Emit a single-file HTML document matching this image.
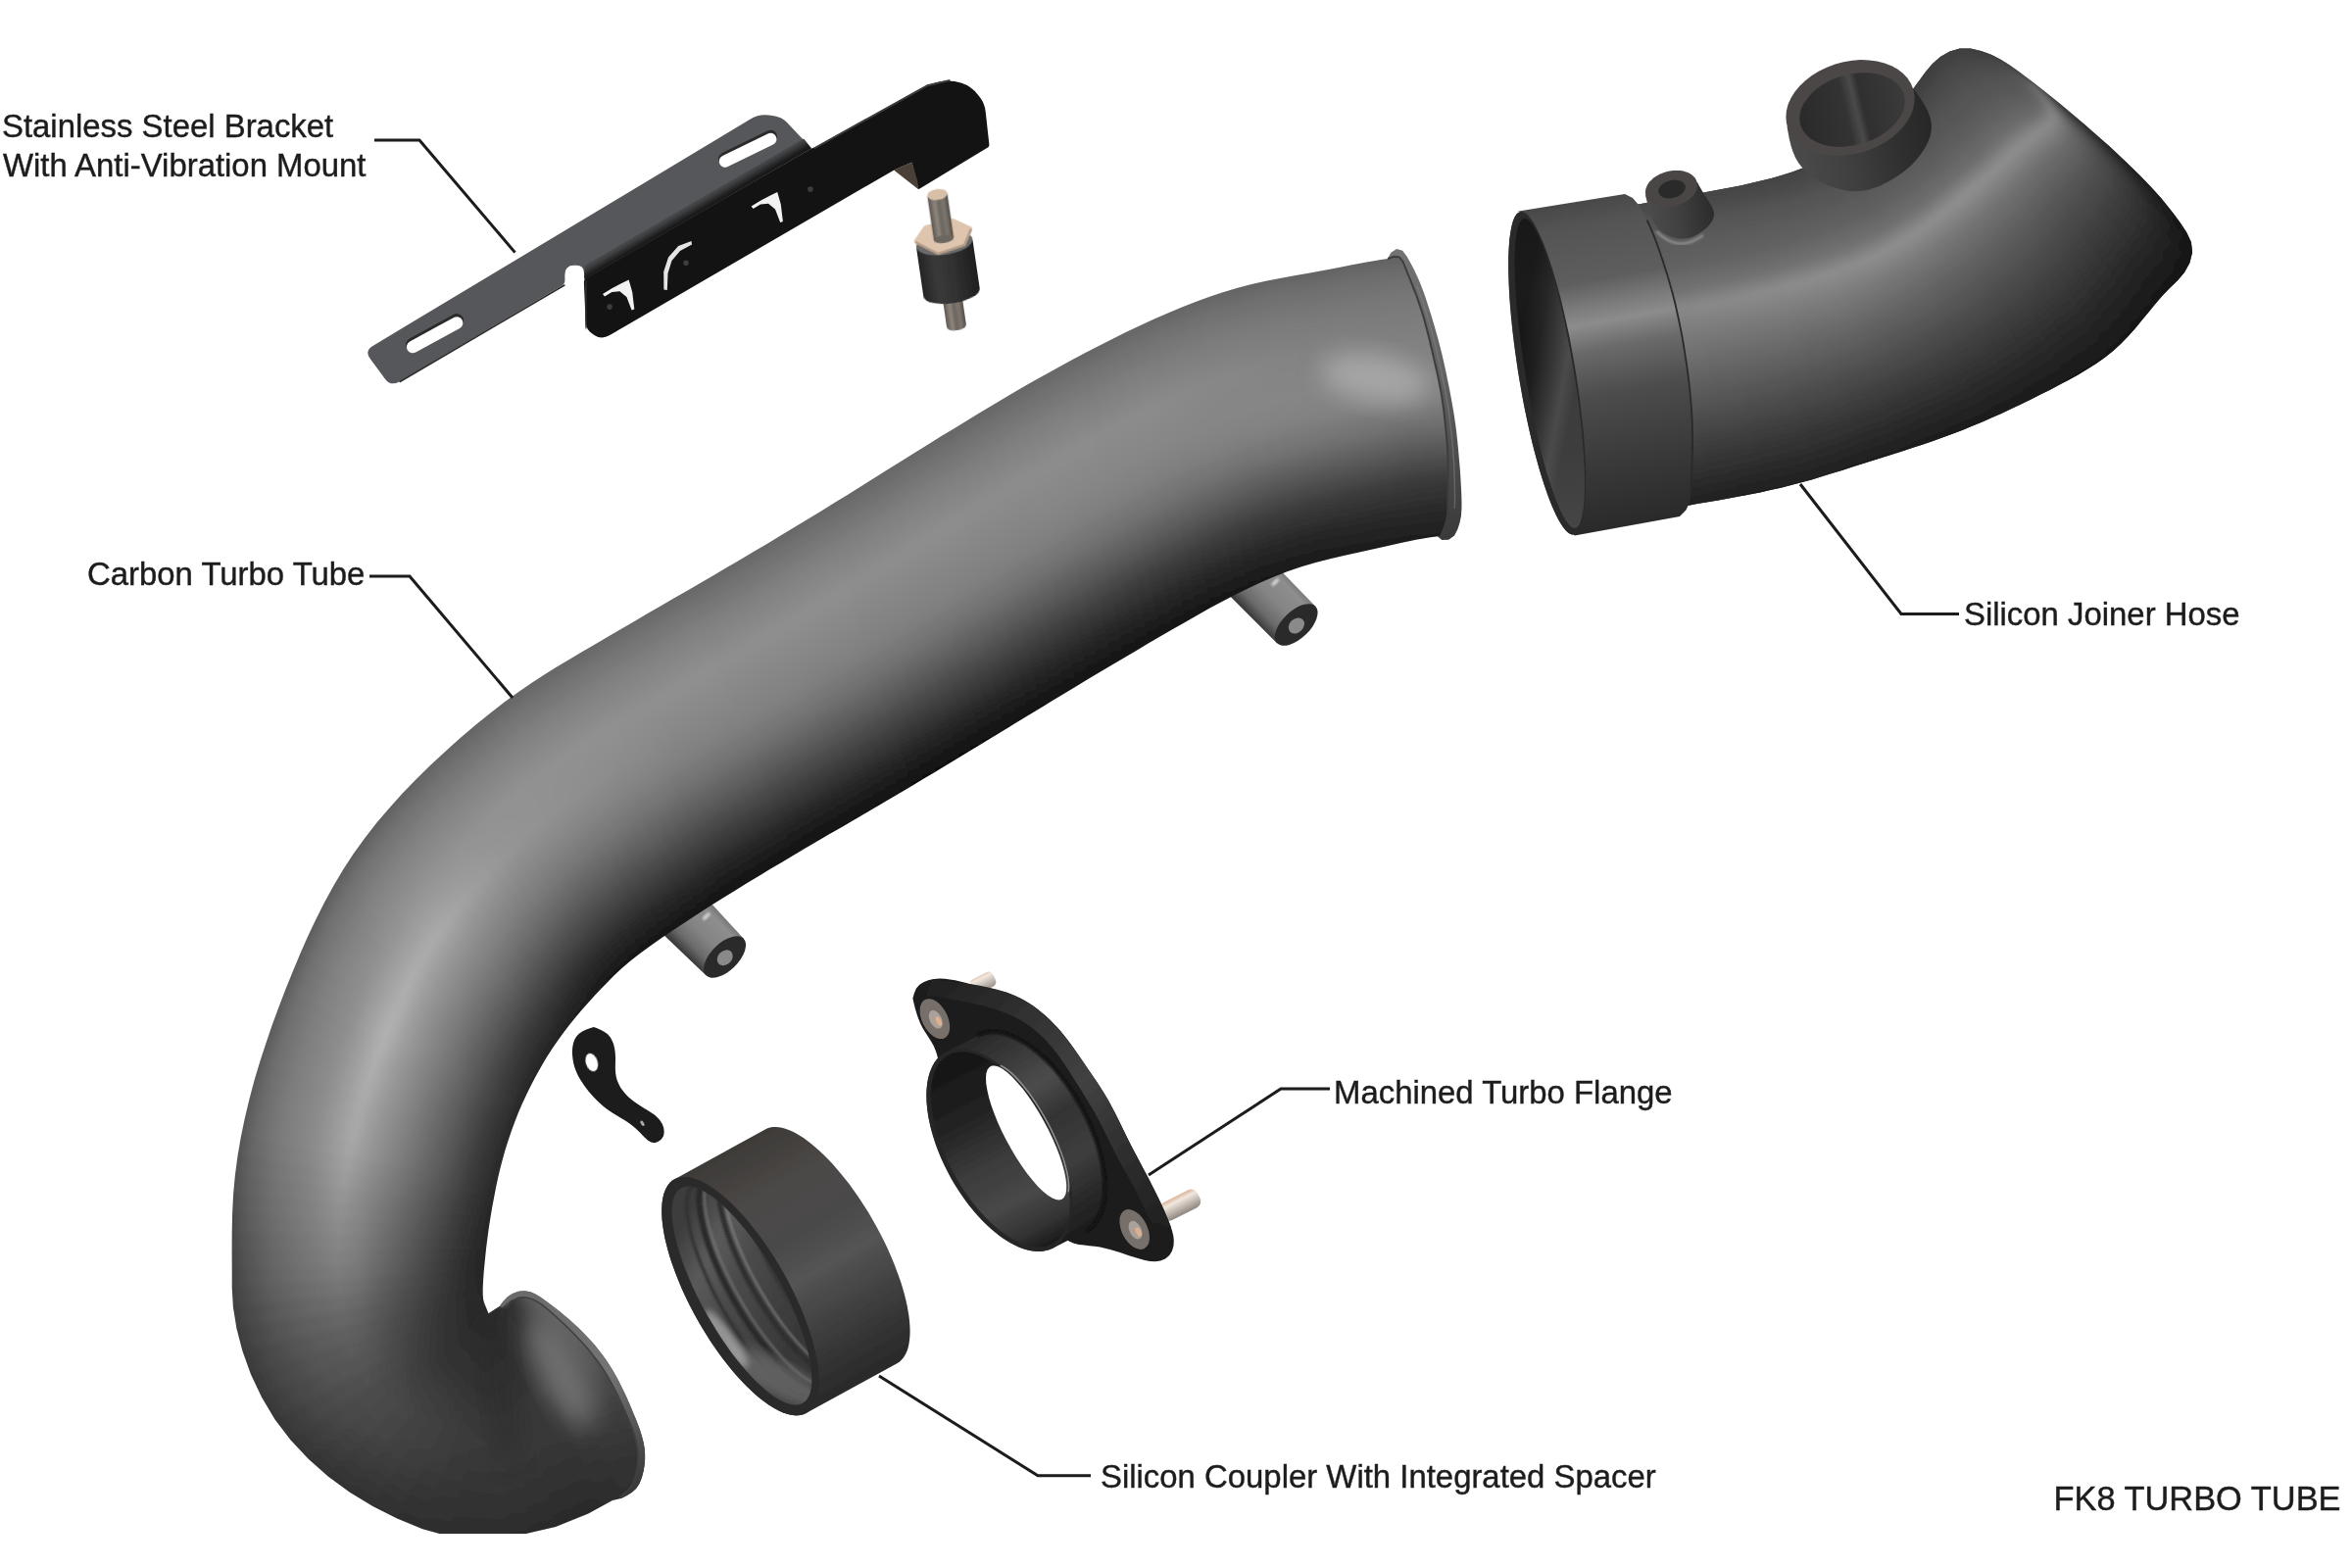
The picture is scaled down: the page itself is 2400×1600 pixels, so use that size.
<!DOCTYPE html>
<html><head><meta charset="utf-8"><title>FK8 Turbo Tube</title>
<style>
html,body{margin:0;padding:0;background:#fff}
body{width:2400px;height:1600px;overflow:hidden}
svg{display:block;font-family:"Liberation Sans",sans-serif;fill:#1c1c1c}
</style></head><body>
<svg width="2400" height="1600" viewBox="0 0 2400 1600">
<defs>
<filter id="b05" x="-5%" y="-5%" width="110%" height="110%"><feGaussianBlur stdDeviation="0.6"/></filter>
<filter id="b1" x="-5%" y="-5%" width="110%" height="110%"><feGaussianBlur stdDeviation="1"/></filter>
<filter id="b2" x="-5%" y="-5%" width="110%" height="110%"><feGaussianBlur stdDeviation="2"/></filter>
<filter id="b3" x="-5%" y="-5%" width="110%" height="110%"><feGaussianBlur stdDeviation="3"/></filter>
<filter id="b6" x="-10%" y="-10%" width="120%" height="120%"><feGaussianBlur stdDeviation="6"/></filter>
<filter id="b12" x="-30%" y="-30%" width="160%" height="160%"><feGaussianBlur stdDeviation="12"/></filter>
<clipPath id="cpPage"><rect x="0" y="0" width="2400" height="1565"/></clipPath>
<linearGradient id="m1" gradientUnits="userSpaceOnUse" x1="1445.0" y1="262.1" x2="1498.0" y2="545.1"><stop offset="0" stop-color="#626262"/><stop offset="0.05" stop-color="#6c6c6c"/><stop offset="0.15" stop-color="#787878"/><stop offset="0.28" stop-color="#808080"/><stop offset="0.42" stop-color="#858585"/><stop offset="0.5" stop-color="#828282"/><stop offset="0.6" stop-color="#707070"/><stop offset="0.7" stop-color="#555555"/><stop offset="0.8" stop-color="#3a3a3a"/><stop offset="0.9" stop-color="#2a2a2a"/><stop offset="1" stop-color="#1e1e1e"/></linearGradient>
<linearGradient id="m2" gradientUnits="userSpaceOnUse" x1="1430.8" y1="262.7" x2="1482.3" y2="545.7"><stop offset="0" stop-color="#626262"/><stop offset="0.05" stop-color="#6c6c6c"/><stop offset="0.15" stop-color="#787878"/><stop offset="0.28" stop-color="#808080"/><stop offset="0.42" stop-color="#858585"/><stop offset="0.5" stop-color="#828282"/><stop offset="0.6" stop-color="#707070"/><stop offset="0.7" stop-color="#555555"/><stop offset="0.8" stop-color="#3a3a3a"/><stop offset="0.9" stop-color="#2a2a2a"/><stop offset="1" stop-color="#1e1e1e"/></linearGradient>
<linearGradient id="m3" gradientUnits="userSpaceOnUse" x1="1416.3" y1="264.2" x2="1467.1" y2="547.3"><stop offset="0" stop-color="#626262"/><stop offset="0.05" stop-color="#6c6c6c"/><stop offset="0.15" stop-color="#787878"/><stop offset="0.28" stop-color="#808080"/><stop offset="0.42" stop-color="#858585"/><stop offset="0.5" stop-color="#828282"/><stop offset="0.6" stop-color="#707070"/><stop offset="0.7" stop-color="#555555"/><stop offset="0.8" stop-color="#3a3a3a"/><stop offset="0.9" stop-color="#2a2a2a"/><stop offset="1" stop-color="#1e1e1e"/></linearGradient>
<linearGradient id="m4" gradientUnits="userSpaceOnUse" x1="1401.7" y1="266.3" x2="1452.4" y2="549.5"><stop offset="0" stop-color="#626262"/><stop offset="0.05" stop-color="#6c6c6c"/><stop offset="0.15" stop-color="#787878"/><stop offset="0.28" stop-color="#808080"/><stop offset="0.42" stop-color="#858585"/><stop offset="0.5" stop-color="#828282"/><stop offset="0.6" stop-color="#707070"/><stop offset="0.7" stop-color="#555555"/><stop offset="0.8" stop-color="#3a3a3a"/><stop offset="0.9" stop-color="#2a2a2a"/><stop offset="1" stop-color="#1e1e1e"/></linearGradient>
<linearGradient id="m5" gradientUnits="userSpaceOnUse" x1="1387.0" y1="268.9" x2="1437.8" y2="552.2"><stop offset="0" stop-color="#626262"/><stop offset="0.05" stop-color="#6c6c6c"/><stop offset="0.15" stop-color="#787878"/><stop offset="0.28" stop-color="#818181"/><stop offset="0.42" stop-color="#858585"/><stop offset="0.5" stop-color="#828282"/><stop offset="0.6" stop-color="#707070"/><stop offset="0.7" stop-color="#565656"/><stop offset="0.8" stop-color="#3a3a3a"/><stop offset="0.9" stop-color="#2a2a2a"/><stop offset="1" stop-color="#1d1d1d"/></linearGradient>
<linearGradient id="m6" gradientUnits="userSpaceOnUse" x1="1372.2" y1="271.7" x2="1423.4" y2="555.3"><stop offset="0" stop-color="#636363"/><stop offset="0.05" stop-color="#6d6d6d"/><stop offset="0.15" stop-color="#797979"/><stop offset="0.28" stop-color="#818181"/><stop offset="0.42" stop-color="#858585"/><stop offset="0.5" stop-color="#828282"/><stop offset="0.6" stop-color="#717171"/><stop offset="0.7" stop-color="#565656"/><stop offset="0.8" stop-color="#3b3b3b"/><stop offset="0.9" stop-color="#292929"/><stop offset="1" stop-color="#1d1d1d"/></linearGradient>
<linearGradient id="m7" gradientUnits="userSpaceOnUse" x1="1357.4" y1="274.6" x2="1409.0" y2="558.6"><stop offset="0" stop-color="#636363"/><stop offset="0.05" stop-color="#6d6d6d"/><stop offset="0.15" stop-color="#797979"/><stop offset="0.28" stop-color="#828282"/><stop offset="0.42" stop-color="#858585"/><stop offset="0.5" stop-color="#828282"/><stop offset="0.6" stop-color="#717171"/><stop offset="0.7" stop-color="#565656"/><stop offset="0.8" stop-color="#3b3b3b"/><stop offset="0.9" stop-color="#292929"/><stop offset="1" stop-color="#1c1c1c"/></linearGradient>
<linearGradient id="m8" gradientUnits="userSpaceOnUse" x1="1342.6" y1="277.4" x2="1394.4" y2="561.9"><stop offset="0" stop-color="#636363"/><stop offset="0.05" stop-color="#6d6d6d"/><stop offset="0.15" stop-color="#797979"/><stop offset="0.28" stop-color="#828282"/><stop offset="0.42" stop-color="#868686"/><stop offset="0.5" stop-color="#828282"/><stop offset="0.6" stop-color="#717171"/><stop offset="0.7" stop-color="#575757"/><stop offset="0.8" stop-color="#3b3b3b"/><stop offset="0.9" stop-color="#292929"/><stop offset="1" stop-color="#1c1c1c"/></linearGradient>
<linearGradient id="m9" gradientUnits="userSpaceOnUse" x1="1328.0" y1="280.0" x2="1379.6" y2="565.2"><stop offset="0" stop-color="#636363"/><stop offset="0.05" stop-color="#6d6d6d"/><stop offset="0.15" stop-color="#797979"/><stop offset="0.28" stop-color="#838383"/><stop offset="0.42" stop-color="#868686"/><stop offset="0.5" stop-color="#828282"/><stop offset="0.6" stop-color="#717171"/><stop offset="0.7" stop-color="#575757"/><stop offset="0.8" stop-color="#3b3b3b"/><stop offset="0.9" stop-color="#292929"/><stop offset="1" stop-color="#1b1b1b"/></linearGradient>
<linearGradient id="m10" gradientUnits="userSpaceOnUse" x1="1313.4" y1="282.6" x2="1364.8" y2="568.5"><stop offset="0" stop-color="#646464"/><stop offset="0.05" stop-color="#6e6e6e"/><stop offset="0.15" stop-color="#7a7a7a"/><stop offset="0.28" stop-color="#838383"/><stop offset="0.42" stop-color="#868686"/><stop offset="0.5" stop-color="#828282"/><stop offset="0.6" stop-color="#727272"/><stop offset="0.7" stop-color="#575757"/><stop offset="0.8" stop-color="#3c3c3c"/><stop offset="0.9" stop-color="#282828"/><stop offset="1" stop-color="#1b1b1b"/></linearGradient>
<linearGradient id="m11" gradientUnits="userSpaceOnUse" x1="1298.9" y1="285.3" x2="1349.9" y2="572.1"><stop offset="0" stop-color="#646464"/><stop offset="0.05" stop-color="#6e6e6e"/><stop offset="0.15" stop-color="#7a7a7a"/><stop offset="0.28" stop-color="#848484"/><stop offset="0.42" stop-color="#868686"/><stop offset="0.5" stop-color="#828282"/><stop offset="0.6" stop-color="#727272"/><stop offset="0.7" stop-color="#585858"/><stop offset="0.8" stop-color="#3c3c3c"/><stop offset="0.9" stop-color="#282828"/><stop offset="1" stop-color="#1a1a1a"/></linearGradient>
<linearGradient id="m12" gradientUnits="userSpaceOnUse" x1="1284.5" y1="288.3" x2="1335.3" y2="576.1"><stop offset="0" stop-color="#646464"/><stop offset="0.05" stop-color="#6e6e6e"/><stop offset="0.15" stop-color="#7a7a7a"/><stop offset="0.28" stop-color="#848484"/><stop offset="0.42" stop-color="#868686"/><stop offset="0.5" stop-color="#828282"/><stop offset="0.6" stop-color="#727272"/><stop offset="0.7" stop-color="#585858"/><stop offset="0.8" stop-color="#3c3c3c"/><stop offset="0.9" stop-color="#282828"/><stop offset="1" stop-color="#1a1a1a"/></linearGradient>
<linearGradient id="m13" gradientUnits="userSpaceOnUse" x1="1270.1" y1="291.9" x2="1321.0" y2="580.7"><stop offset="0" stop-color="#646464"/><stop offset="0.05" stop-color="#6e6e6e"/><stop offset="0.15" stop-color="#7a7a7a"/><stop offset="0.28" stop-color="#858585"/><stop offset="0.42" stop-color="#868686"/><stop offset="0.5" stop-color="#828282"/><stop offset="0.6" stop-color="#727272"/><stop offset="0.7" stop-color="#585858"/><stop offset="0.8" stop-color="#3c3c3c"/><stop offset="0.9" stop-color="#282828"/><stop offset="1" stop-color="#191919"/></linearGradient>
<linearGradient id="m14" gradientUnits="userSpaceOnUse" x1="1255.7" y1="295.9" x2="1307.0" y2="585.8"><stop offset="0" stop-color="#646464"/><stop offset="0.05" stop-color="#6e6e6e"/><stop offset="0.15" stop-color="#7b7b7b"/><stop offset="0.28" stop-color="#868686"/><stop offset="0.42" stop-color="#868686"/><stop offset="0.5" stop-color="#828282"/><stop offset="0.6" stop-color="#727272"/><stop offset="0.7" stop-color="#585858"/><stop offset="0.8" stop-color="#3c3c3c"/><stop offset="0.9" stop-color="#282828"/><stop offset="1" stop-color="#191919"/></linearGradient>
<linearGradient id="m15" gradientUnits="userSpaceOnUse" x1="1241.4" y1="300.5" x2="1293.3" y2="591.3"><stop offset="0" stop-color="#656565"/><stop offset="0.05" stop-color="#6f6f6f"/><stop offset="0.15" stop-color="#7b7b7b"/><stop offset="0.28" stop-color="#878787"/><stop offset="0.42" stop-color="#868686"/><stop offset="0.5" stop-color="#818181"/><stop offset="0.6" stop-color="#717171"/><stop offset="0.7" stop-color="#585858"/><stop offset="0.8" stop-color="#3c3c3c"/><stop offset="0.9" stop-color="#272727"/><stop offset="1" stop-color="#181818"/></linearGradient>
<linearGradient id="m16" gradientUnits="userSpaceOnUse" x1="1227.1" y1="305.4" x2="1279.9" y2="597.3"><stop offset="0" stop-color="#656565"/><stop offset="0.05" stop-color="#6f6f6f"/><stop offset="0.15" stop-color="#7c7c7c"/><stop offset="0.28" stop-color="#878787"/><stop offset="0.42" stop-color="#868686"/><stop offset="0.5" stop-color="#818181"/><stop offset="0.6" stop-color="#717171"/><stop offset="0.7" stop-color="#585858"/><stop offset="0.8" stop-color="#3c3c3c"/><stop offset="0.9" stop-color="#272727"/><stop offset="1" stop-color="#171717"/></linearGradient>
<linearGradient id="m17" gradientUnits="userSpaceOnUse" x1="1212.9" y1="310.8" x2="1266.7" y2="603.7"><stop offset="0" stop-color="#656565"/><stop offset="0.05" stop-color="#6f6f6f"/><stop offset="0.15" stop-color="#7c7c7c"/><stop offset="0.28" stop-color="#888888"/><stop offset="0.42" stop-color="#868686"/><stop offset="0.5" stop-color="#818181"/><stop offset="0.6" stop-color="#717171"/><stop offset="0.7" stop-color="#585858"/><stop offset="0.8" stop-color="#3c3c3c"/><stop offset="0.9" stop-color="#272727"/><stop offset="1" stop-color="#171717"/></linearGradient>
<linearGradient id="m18" gradientUnits="userSpaceOnUse" x1="1198.8" y1="316.5" x2="1253.7" y2="610.3"><stop offset="0" stop-color="#656565"/><stop offset="0.05" stop-color="#6f6f6f"/><stop offset="0.15" stop-color="#7d7d7d"/><stop offset="0.28" stop-color="#898989"/><stop offset="0.42" stop-color="#868686"/><stop offset="0.5" stop-color="#818181"/><stop offset="0.6" stop-color="#717171"/><stop offset="0.7" stop-color="#585858"/><stop offset="0.8" stop-color="#3c3c3c"/><stop offset="0.9" stop-color="#272727"/><stop offset="1" stop-color="#161616"/></linearGradient>
<linearGradient id="m19" gradientUnits="userSpaceOnUse" x1="1184.7" y1="322.5" x2="1240.9" y2="617.2"><stop offset="0" stop-color="#666666"/><stop offset="0.05" stop-color="#707070"/><stop offset="0.15" stop-color="#7d7d7d"/><stop offset="0.28" stop-color="#8a8a8a"/><stop offset="0.42" stop-color="#868686"/><stop offset="0.5" stop-color="#808080"/><stop offset="0.6" stop-color="#707070"/><stop offset="0.7" stop-color="#585858"/><stop offset="0.8" stop-color="#3c3c3c"/><stop offset="0.9" stop-color="#262626"/><stop offset="1" stop-color="#151515"/></linearGradient>
<linearGradient id="m20" gradientUnits="userSpaceOnUse" x1="1170.7" y1="328.8" x2="1228.1" y2="624.2"><stop offset="0" stop-color="#666666"/><stop offset="0.05" stop-color="#707070"/><stop offset="0.15" stop-color="#7d7d7d"/><stop offset="0.28" stop-color="#8b8b8b"/><stop offset="0.42" stop-color="#868686"/><stop offset="0.5" stop-color="#808080"/><stop offset="0.6" stop-color="#707070"/><stop offset="0.7" stop-color="#585858"/><stop offset="0.8" stop-color="#3c3c3c"/><stop offset="0.9" stop-color="#262626"/><stop offset="1" stop-color="#151515"/></linearGradient>
<linearGradient id="m21" gradientUnits="userSpaceOnUse" x1="1156.7" y1="335.3" x2="1215.5" y2="631.3"><stop offset="0" stop-color="#666666"/><stop offset="0.05" stop-color="#707070"/><stop offset="0.15" stop-color="#7e7e7e"/><stop offset="0.28" stop-color="#8c8c8c"/><stop offset="0.42" stop-color="#868686"/><stop offset="0.5" stop-color="#808080"/><stop offset="0.6" stop-color="#707070"/><stop offset="0.7" stop-color="#585858"/><stop offset="0.8" stop-color="#3c3c3c"/><stop offset="0.9" stop-color="#262626"/><stop offset="1" stop-color="#141414"/></linearGradient>
<linearGradient id="m22" gradientUnits="userSpaceOnUse" x1="1142.9" y1="342.0" x2="1202.9" y2="638.5"><stop offset="0" stop-color="#666666"/><stop offset="0.05" stop-color="#707070"/><stop offset="0.15" stop-color="#7e7e7e"/><stop offset="0.28" stop-color="#8c8c8c"/><stop offset="0.42" stop-color="#868686"/><stop offset="0.5" stop-color="#808080"/><stop offset="0.6" stop-color="#707070"/><stop offset="0.7" stop-color="#585858"/><stop offset="0.8" stop-color="#3c3c3c"/><stop offset="0.9" stop-color="#262626"/><stop offset="1" stop-color="#141414"/></linearGradient>
<linearGradient id="m23" gradientUnits="userSpaceOnUse" x1="1129.0" y1="348.9" x2="1190.4" y2="645.7"><stop offset="0" stop-color="#666666"/><stop offset="0.05" stop-color="#707070"/><stop offset="0.15" stop-color="#7e7e7e"/><stop offset="0.28" stop-color="#8c8c8c"/><stop offset="0.42" stop-color="#868686"/><stop offset="0.5" stop-color="#808080"/><stop offset="0.6" stop-color="#707070"/><stop offset="0.7" stop-color="#585858"/><stop offset="0.8" stop-color="#3c3c3c"/><stop offset="0.9" stop-color="#262626"/><stop offset="1" stop-color="#141414"/></linearGradient>
<linearGradient id="m24" gradientUnits="userSpaceOnUse" x1="1115.3" y1="355.9" x2="1178.0" y2="653.0"><stop offset="0" stop-color="#666666"/><stop offset="0.05" stop-color="#707070"/><stop offset="0.15" stop-color="#7e7e7e"/><stop offset="0.28" stop-color="#8c8c8c"/><stop offset="0.42" stop-color="#868686"/><stop offset="0.5" stop-color="#808080"/><stop offset="0.6" stop-color="#707070"/><stop offset="0.7" stop-color="#585858"/><stop offset="0.8" stop-color="#3c3c3c"/><stop offset="0.9" stop-color="#262626"/><stop offset="1" stop-color="#131313"/></linearGradient>
<linearGradient id="m25" gradientUnits="userSpaceOnUse" x1="1101.6" y1="363.1" x2="1165.6" y2="660.2"><stop offset="0" stop-color="#666666"/><stop offset="0.05" stop-color="#707070"/><stop offset="0.15" stop-color="#7e7e7e"/><stop offset="0.28" stop-color="#8c8c8c"/><stop offset="0.42" stop-color="#868686"/><stop offset="0.5" stop-color="#808080"/><stop offset="0.6" stop-color="#707070"/><stop offset="0.7" stop-color="#585858"/><stop offset="0.8" stop-color="#3c3c3c"/><stop offset="0.9" stop-color="#262626"/><stop offset="1" stop-color="#131313"/></linearGradient>
<linearGradient id="m26" gradientUnits="userSpaceOnUse" x1="1087.9" y1="370.5" x2="1153.2" y2="667.5"><stop offset="0" stop-color="#676767"/><stop offset="0.05" stop-color="#707070"/><stop offset="0.15" stop-color="#7f7f7f"/><stop offset="0.28" stop-color="#8d8d8d"/><stop offset="0.42" stop-color="#868686"/><stop offset="0.5" stop-color="#808080"/><stop offset="0.6" stop-color="#707070"/><stop offset="0.7" stop-color="#585858"/><stop offset="0.8" stop-color="#3d3d3d"/><stop offset="0.9" stop-color="#252525"/><stop offset="1" stop-color="#131313"/></linearGradient>
<linearGradient id="m27" gradientUnits="userSpaceOnUse" x1="1074.3" y1="377.9" x2="1140.9" y2="674.8"><stop offset="0" stop-color="#676767"/><stop offset="0.05" stop-color="#707070"/><stop offset="0.15" stop-color="#7f7f7f"/><stop offset="0.28" stop-color="#8d8d8d"/><stop offset="0.42" stop-color="#868686"/><stop offset="0.5" stop-color="#808080"/><stop offset="0.6" stop-color="#707070"/><stop offset="0.7" stop-color="#585858"/><stop offset="0.8" stop-color="#3d3d3d"/><stop offset="0.9" stop-color="#252525"/><stop offset="1" stop-color="#131313"/></linearGradient>
<linearGradient id="m28" gradientUnits="userSpaceOnUse" x1="1060.7" y1="385.5" x2="1128.6" y2="682.1"><stop offset="0" stop-color="#676767"/><stop offset="0.05" stop-color="#707070"/><stop offset="0.15" stop-color="#7f7f7f"/><stop offset="0.28" stop-color="#8d8d8d"/><stop offset="0.42" stop-color="#868686"/><stop offset="0.5" stop-color="#808080"/><stop offset="0.6" stop-color="#707070"/><stop offset="0.7" stop-color="#585858"/><stop offset="0.8" stop-color="#3d3d3d"/><stop offset="0.9" stop-color="#252525"/><stop offset="1" stop-color="#131313"/></linearGradient>
<linearGradient id="m29" gradientUnits="userSpaceOnUse" x1="1047.2" y1="393.2" x2="1116.3" y2="689.5"><stop offset="0" stop-color="#676767"/><stop offset="0.05" stop-color="#707070"/><stop offset="0.15" stop-color="#7f7f7f"/><stop offset="0.28" stop-color="#8d8d8d"/><stop offset="0.42" stop-color="#868686"/><stop offset="0.5" stop-color="#808080"/><stop offset="0.6" stop-color="#707070"/><stop offset="0.7" stop-color="#585858"/><stop offset="0.8" stop-color="#3d3d3d"/><stop offset="0.9" stop-color="#252525"/><stop offset="1" stop-color="#121212"/></linearGradient>
<linearGradient id="m30" gradientUnits="userSpaceOnUse" x1="1033.7" y1="401.1" x2="1104.1" y2="696.8"><stop offset="0" stop-color="#676767"/><stop offset="0.05" stop-color="#707070"/><stop offset="0.15" stop-color="#7f7f7f"/><stop offset="0.28" stop-color="#8d8d8d"/><stop offset="0.42" stop-color="#868686"/><stop offset="0.5" stop-color="#808080"/><stop offset="0.6" stop-color="#707070"/><stop offset="0.7" stop-color="#585858"/><stop offset="0.8" stop-color="#3d3d3d"/><stop offset="0.9" stop-color="#252525"/><stop offset="1" stop-color="#121212"/></linearGradient>
<linearGradient id="m31" gradientUnits="userSpaceOnUse" x1="1020.2" y1="409.0" x2="1092.0" y2="704.1"><stop offset="0" stop-color="#676767"/><stop offset="0.05" stop-color="#707070"/><stop offset="0.15" stop-color="#7f7f7f"/><stop offset="0.28" stop-color="#8d8d8d"/><stop offset="0.42" stop-color="#858585"/><stop offset="0.5" stop-color="#808080"/><stop offset="0.6" stop-color="#707070"/><stop offset="0.7" stop-color="#585858"/><stop offset="0.8" stop-color="#3d3d3d"/><stop offset="0.9" stop-color="#252525"/><stop offset="1" stop-color="#121212"/></linearGradient>
<linearGradient id="m32" gradientUnits="userSpaceOnUse" x1="1006.7" y1="417.0" x2="1079.8" y2="711.5"><stop offset="0" stop-color="#676767"/><stop offset="0.05" stop-color="#707070"/><stop offset="0.15" stop-color="#7f7f7f"/><stop offset="0.28" stop-color="#8d8d8d"/><stop offset="0.42" stop-color="#858585"/><stop offset="0.5" stop-color="#808080"/><stop offset="0.6" stop-color="#707070"/><stop offset="0.7" stop-color="#585858"/><stop offset="0.8" stop-color="#3d3d3d"/><stop offset="0.9" stop-color="#252525"/><stop offset="1" stop-color="#121212"/></linearGradient>
<linearGradient id="m33" gradientUnits="userSpaceOnUse" x1="993.3" y1="425.1" x2="1067.7" y2="718.8"><stop offset="0" stop-color="#676767"/><stop offset="0.05" stop-color="#707070"/><stop offset="0.15" stop-color="#7f7f7f"/><stop offset="0.28" stop-color="#8d8d8d"/><stop offset="0.42" stop-color="#858585"/><stop offset="0.5" stop-color="#808080"/><stop offset="0.6" stop-color="#707070"/><stop offset="0.7" stop-color="#585858"/><stop offset="0.8" stop-color="#3d3d3d"/><stop offset="0.9" stop-color="#252525"/><stop offset="1" stop-color="#111111"/></linearGradient>
<linearGradient id="m34" gradientUnits="userSpaceOnUse" x1="979.9" y1="433.3" x2="1055.6" y2="726.2"><stop offset="0" stop-color="#676767"/><stop offset="0.05" stop-color="#707070"/><stop offset="0.15" stop-color="#7f7f7f"/><stop offset="0.28" stop-color="#8d8d8d"/><stop offset="0.42" stop-color="#858585"/><stop offset="0.5" stop-color="#808080"/><stop offset="0.6" stop-color="#707070"/><stop offset="0.7" stop-color="#585858"/><stop offset="0.8" stop-color="#3d3d3d"/><stop offset="0.9" stop-color="#252525"/><stop offset="1" stop-color="#111111"/></linearGradient>
<linearGradient id="m35" gradientUnits="userSpaceOnUse" x1="966.4" y1="441.5" x2="1043.6" y2="733.5"><stop offset="0" stop-color="#676767"/><stop offset="0.05" stop-color="#707070"/><stop offset="0.15" stop-color="#7f7f7f"/><stop offset="0.28" stop-color="#8d8d8d"/><stop offset="0.42" stop-color="#858585"/><stop offset="0.5" stop-color="#808080"/><stop offset="0.6" stop-color="#707070"/><stop offset="0.7" stop-color="#585858"/><stop offset="0.8" stop-color="#3d3d3d"/><stop offset="0.9" stop-color="#252525"/><stop offset="1" stop-color="#111111"/></linearGradient>
<linearGradient id="m36" gradientUnits="userSpaceOnUse" x1="953.0" y1="449.8" x2="1031.5" y2="740.8"><stop offset="0" stop-color="#686868"/><stop offset="0.05" stop-color="#707070"/><stop offset="0.15" stop-color="#808080"/><stop offset="0.28" stop-color="#8e8e8e"/><stop offset="0.42" stop-color="#858585"/><stop offset="0.5" stop-color="#808080"/><stop offset="0.6" stop-color="#707070"/><stop offset="0.7" stop-color="#585858"/><stop offset="0.8" stop-color="#3e3e3e"/><stop offset="0.9" stop-color="#242424"/><stop offset="1" stop-color="#111111"/></linearGradient>
<linearGradient id="m37" gradientUnits="userSpaceOnUse" x1="939.6" y1="458.1" x2="1019.5" y2="748.1"><stop offset="0" stop-color="#686868"/><stop offset="0.05" stop-color="#707070"/><stop offset="0.15" stop-color="#808080"/><stop offset="0.28" stop-color="#8e8e8e"/><stop offset="0.42" stop-color="#858585"/><stop offset="0.5" stop-color="#808080"/><stop offset="0.6" stop-color="#707070"/><stop offset="0.7" stop-color="#585858"/><stop offset="0.8" stop-color="#3e3e3e"/><stop offset="0.9" stop-color="#242424"/><stop offset="1" stop-color="#111111"/></linearGradient>
<linearGradient id="m38" gradientUnits="userSpaceOnUse" x1="926.2" y1="466.5" x2="1007.6" y2="755.4"><stop offset="0" stop-color="#686868"/><stop offset="0.05" stop-color="#707070"/><stop offset="0.15" stop-color="#808080"/><stop offset="0.28" stop-color="#8e8e8e"/><stop offset="0.42" stop-color="#858585"/><stop offset="0.5" stop-color="#808080"/><stop offset="0.6" stop-color="#707070"/><stop offset="0.7" stop-color="#585858"/><stop offset="0.8" stop-color="#3e3e3e"/><stop offset="0.9" stop-color="#242424"/><stop offset="1" stop-color="#101010"/></linearGradient>
<linearGradient id="m39" gradientUnits="userSpaceOnUse" x1="912.7" y1="474.9" x2="995.6" y2="762.7"><stop offset="0" stop-color="#686868"/><stop offset="0.05" stop-color="#707070"/><stop offset="0.15" stop-color="#808080"/><stop offset="0.28" stop-color="#8e8e8e"/><stop offset="0.42" stop-color="#858585"/><stop offset="0.5" stop-color="#808080"/><stop offset="0.6" stop-color="#707070"/><stop offset="0.7" stop-color="#585858"/><stop offset="0.8" stop-color="#3e3e3e"/><stop offset="0.9" stop-color="#242424"/><stop offset="1" stop-color="#101010"/></linearGradient>
<linearGradient id="m40" gradientUnits="userSpaceOnUse" x1="899.3" y1="483.3" x2="983.6" y2="769.9"><stop offset="0" stop-color="#686868"/><stop offset="0.05" stop-color="#707070"/><stop offset="0.15" stop-color="#808080"/><stop offset="0.28" stop-color="#8e8e8e"/><stop offset="0.42" stop-color="#858585"/><stop offset="0.5" stop-color="#808080"/><stop offset="0.6" stop-color="#707070"/><stop offset="0.7" stop-color="#585858"/><stop offset="0.8" stop-color="#3e3e3e"/><stop offset="0.9" stop-color="#242424"/><stop offset="1" stop-color="#101010"/></linearGradient>
<linearGradient id="m41" gradientUnits="userSpaceOnUse" x1="885.8" y1="491.7" x2="971.7" y2="777.1"><stop offset="0" stop-color="#686868"/><stop offset="0.05" stop-color="#707070"/><stop offset="0.15" stop-color="#808080"/><stop offset="0.28" stop-color="#8e8e8e"/><stop offset="0.42" stop-color="#858585"/><stop offset="0.5" stop-color="#808080"/><stop offset="0.6" stop-color="#707070"/><stop offset="0.7" stop-color="#585858"/><stop offset="0.8" stop-color="#3e3e3e"/><stop offset="0.9" stop-color="#242424"/><stop offset="1" stop-color="#101010"/></linearGradient>
<linearGradient id="m42" gradientUnits="userSpaceOnUse" x1="872.3" y1="500.1" x2="959.8" y2="784.3"><stop offset="0" stop-color="#686868"/><stop offset="0.05" stop-color="#707070"/><stop offset="0.15" stop-color="#808080"/><stop offset="0.28" stop-color="#8e8e8e"/><stop offset="0.42" stop-color="#858585"/><stop offset="0.5" stop-color="#808080"/><stop offset="0.6" stop-color="#707070"/><stop offset="0.7" stop-color="#585858"/><stop offset="0.8" stop-color="#3e3e3e"/><stop offset="0.9" stop-color="#242424"/><stop offset="1" stop-color="#101010"/></linearGradient>
<linearGradient id="m43" gradientUnits="userSpaceOnUse" x1="858.7" y1="508.6" x2="947.8" y2="791.5"><stop offset="0" stop-color="#686868"/><stop offset="0.05" stop-color="#707070"/><stop offset="0.15" stop-color="#808080"/><stop offset="0.28" stop-color="#8e8e8e"/><stop offset="0.42" stop-color="#858585"/><stop offset="0.5" stop-color="#808080"/><stop offset="0.6" stop-color="#707070"/><stop offset="0.7" stop-color="#585858"/><stop offset="0.8" stop-color="#3e3e3e"/><stop offset="0.9" stop-color="#242424"/><stop offset="1" stop-color="#101010"/></linearGradient>
<linearGradient id="m44" gradientUnits="userSpaceOnUse" x1="845.1" y1="517.0" x2="935.9" y2="798.6"><stop offset="0" stop-color="#686868"/><stop offset="0.05" stop-color="#707070"/><stop offset="0.15" stop-color="#808080"/><stop offset="0.28" stop-color="#8e8e8e"/><stop offset="0.42" stop-color="#858585"/><stop offset="0.5" stop-color="#808080"/><stop offset="0.6" stop-color="#707070"/><stop offset="0.7" stop-color="#585858"/><stop offset="0.8" stop-color="#3e3e3e"/><stop offset="0.9" stop-color="#242424"/><stop offset="1" stop-color="#101010"/></linearGradient>
<linearGradient id="m45" gradientUnits="userSpaceOnUse" x1="831.5" y1="525.3" x2="924.0" y2="805.7"><stop offset="0" stop-color="#686868"/><stop offset="0.05" stop-color="#717171"/><stop offset="0.15" stop-color="#818181"/><stop offset="0.28" stop-color="#8f8f8f"/><stop offset="0.42" stop-color="#868686"/><stop offset="0.5" stop-color="#808080"/><stop offset="0.6" stop-color="#707070"/><stop offset="0.7" stop-color="#595959"/><stop offset="0.8" stop-color="#3f3f3f"/><stop offset="0.9" stop-color="#252525"/><stop offset="1" stop-color="#111111"/></linearGradient>
<linearGradient id="m46" gradientUnits="userSpaceOnUse" x1="817.8" y1="533.7" x2="912.1" y2="812.8"><stop offset="0" stop-color="#686868"/><stop offset="0.05" stop-color="#717171"/><stop offset="0.15" stop-color="#818181"/><stop offset="0.28" stop-color="#8f8f8f"/><stop offset="0.42" stop-color="#868686"/><stop offset="0.5" stop-color="#808080"/><stop offset="0.6" stop-color="#707070"/><stop offset="0.7" stop-color="#595959"/><stop offset="0.8" stop-color="#3f3f3f"/><stop offset="0.9" stop-color="#252525"/><stop offset="1" stop-color="#111111"/></linearGradient>
<linearGradient id="m47" gradientUnits="userSpaceOnUse" x1="804.1" y1="542.0" x2="900.2" y2="819.8"><stop offset="0" stop-color="#686868"/><stop offset="0.05" stop-color="#717171"/><stop offset="0.15" stop-color="#818181"/><stop offset="0.28" stop-color="#8f8f8f"/><stop offset="0.42" stop-color="#868686"/><stop offset="0.5" stop-color="#808080"/><stop offset="0.6" stop-color="#707070"/><stop offset="0.7" stop-color="#595959"/><stop offset="0.8" stop-color="#3f3f3f"/><stop offset="0.9" stop-color="#252525"/><stop offset="1" stop-color="#111111"/></linearGradient>
<linearGradient id="m48" gradientUnits="userSpaceOnUse" x1="790.4" y1="550.2" x2="888.3" y2="826.8"><stop offset="0" stop-color="#686868"/><stop offset="0.05" stop-color="#717171"/><stop offset="0.15" stop-color="#818181"/><stop offset="0.28" stop-color="#8f8f8f"/><stop offset="0.42" stop-color="#868686"/><stop offset="0.5" stop-color="#808080"/><stop offset="0.6" stop-color="#707070"/><stop offset="0.7" stop-color="#595959"/><stop offset="0.8" stop-color="#3f3f3f"/><stop offset="0.9" stop-color="#252525"/><stop offset="1" stop-color="#111111"/></linearGradient>
<linearGradient id="m49" gradientUnits="userSpaceOnUse" x1="776.6" y1="558.4" x2="876.4" y2="833.7"><stop offset="0" stop-color="#686868"/><stop offset="0.05" stop-color="#717171"/><stop offset="0.15" stop-color="#818181"/><stop offset="0.28" stop-color="#8f8f8f"/><stop offset="0.42" stop-color="#868686"/><stop offset="0.5" stop-color="#808080"/><stop offset="0.6" stop-color="#707070"/><stop offset="0.7" stop-color="#595959"/><stop offset="0.8" stop-color="#3f3f3f"/><stop offset="0.9" stop-color="#252525"/><stop offset="1" stop-color="#111111"/></linearGradient>
<linearGradient id="m50" gradientUnits="userSpaceOnUse" x1="762.8" y1="566.6" x2="864.5" y2="840.7"><stop offset="0" stop-color="#686868"/><stop offset="0.05" stop-color="#717171"/><stop offset="0.15" stop-color="#818181"/><stop offset="0.28" stop-color="#8f8f8f"/><stop offset="0.42" stop-color="#868686"/><stop offset="0.5" stop-color="#818181"/><stop offset="0.6" stop-color="#717171"/><stop offset="0.7" stop-color="#595959"/><stop offset="0.8" stop-color="#3f3f3f"/><stop offset="0.9" stop-color="#252525"/><stop offset="1" stop-color="#111111"/></linearGradient>
<linearGradient id="m51" gradientUnits="userSpaceOnUse" x1="749.0" y1="574.7" x2="852.5" y2="847.6"><stop offset="0" stop-color="#686868"/><stop offset="0.05" stop-color="#717171"/><stop offset="0.15" stop-color="#818181"/><stop offset="0.28" stop-color="#8f8f8f"/><stop offset="0.42" stop-color="#868686"/><stop offset="0.5" stop-color="#818181"/><stop offset="0.6" stop-color="#717171"/><stop offset="0.7" stop-color="#595959"/><stop offset="0.8" stop-color="#3f3f3f"/><stop offset="0.9" stop-color="#252525"/><stop offset="1" stop-color="#111111"/></linearGradient>
<linearGradient id="m52" gradientUnits="userSpaceOnUse" x1="735.2" y1="582.8" x2="840.6" y2="854.6"><stop offset="0" stop-color="#686868"/><stop offset="0.05" stop-color="#717171"/><stop offset="0.15" stop-color="#818181"/><stop offset="0.28" stop-color="#8f8f8f"/><stop offset="0.42" stop-color="#868686"/><stop offset="0.5" stop-color="#818181"/><stop offset="0.6" stop-color="#717171"/><stop offset="0.7" stop-color="#595959"/><stop offset="0.8" stop-color="#3f3f3f"/><stop offset="0.9" stop-color="#252525"/><stop offset="1" stop-color="#111111"/></linearGradient>
<linearGradient id="m53" gradientUnits="userSpaceOnUse" x1="721.4" y1="590.9" x2="828.6" y2="861.6"><stop offset="0" stop-color="#686868"/><stop offset="0.05" stop-color="#717171"/><stop offset="0.15" stop-color="#818181"/><stop offset="0.28" stop-color="#8f8f8f"/><stop offset="0.42" stop-color="#868686"/><stop offset="0.5" stop-color="#818181"/><stop offset="0.6" stop-color="#717171"/><stop offset="0.7" stop-color="#595959"/><stop offset="0.8" stop-color="#3f3f3f"/><stop offset="0.9" stop-color="#252525"/><stop offset="1" stop-color="#111111"/></linearGradient>
<linearGradient id="m54" gradientUnits="userSpaceOnUse" x1="707.7" y1="598.9" x2="816.6" y2="868.7"><stop offset="0" stop-color="#686868"/><stop offset="0.05" stop-color="#717171"/><stop offset="0.15" stop-color="#818181"/><stop offset="0.28" stop-color="#8f8f8f"/><stop offset="0.42" stop-color="#868686"/><stop offset="0.5" stop-color="#818181"/><stop offset="0.6" stop-color="#717171"/><stop offset="0.7" stop-color="#595959"/><stop offset="0.8" stop-color="#3f3f3f"/><stop offset="0.9" stop-color="#252525"/><stop offset="1" stop-color="#111111"/></linearGradient>
<linearGradient id="m55" gradientUnits="userSpaceOnUse" x1="693.9" y1="606.8" x2="804.5" y2="875.8"><stop offset="0" stop-color="#686868"/><stop offset="0.05" stop-color="#727272"/><stop offset="0.15" stop-color="#828282"/><stop offset="0.28" stop-color="#909090"/><stop offset="0.42" stop-color="#878787"/><stop offset="0.5" stop-color="#818181"/><stop offset="0.6" stop-color="#717171"/><stop offset="0.7" stop-color="#5a5a5a"/><stop offset="0.8" stop-color="#404040"/><stop offset="0.9" stop-color="#262626"/><stop offset="1" stop-color="#121212"/></linearGradient>
<linearGradient id="m56" gradientUnits="userSpaceOnUse" x1="680.3" y1="614.8" x2="792.4" y2="883.0"><stop offset="0" stop-color="#686868"/><stop offset="0.05" stop-color="#727272"/><stop offset="0.15" stop-color="#828282"/><stop offset="0.28" stop-color="#909090"/><stop offset="0.42" stop-color="#878787"/><stop offset="0.5" stop-color="#818181"/><stop offset="0.6" stop-color="#717171"/><stop offset="0.7" stop-color="#5a5a5a"/><stop offset="0.8" stop-color="#404040"/><stop offset="0.9" stop-color="#262626"/><stop offset="1" stop-color="#121212"/></linearGradient>
<linearGradient id="m57" gradientUnits="userSpaceOnUse" x1="666.7" y1="622.6" x2="780.3" y2="890.3"><stop offset="0" stop-color="#686868"/><stop offset="0.05" stop-color="#727272"/><stop offset="0.15" stop-color="#828282"/><stop offset="0.28" stop-color="#909090"/><stop offset="0.42" stop-color="#878787"/><stop offset="0.5" stop-color="#818181"/><stop offset="0.6" stop-color="#717171"/><stop offset="0.7" stop-color="#5a5a5a"/><stop offset="0.8" stop-color="#404040"/><stop offset="0.9" stop-color="#262626"/><stop offset="1" stop-color="#121212"/></linearGradient>
<linearGradient id="m58" gradientUnits="userSpaceOnUse" x1="653.2" y1="630.5" x2="768.1" y2="897.6"><stop offset="0" stop-color="#686868"/><stop offset="0.05" stop-color="#727272"/><stop offset="0.15" stop-color="#828282"/><stop offset="0.28" stop-color="#909090"/><stop offset="0.42" stop-color="#878787"/><stop offset="0.5" stop-color="#818181"/><stop offset="0.6" stop-color="#717171"/><stop offset="0.7" stop-color="#5a5a5a"/><stop offset="0.8" stop-color="#404040"/><stop offset="0.9" stop-color="#262626"/><stop offset="1" stop-color="#121212"/></linearGradient>
<linearGradient id="m59" gradientUnits="userSpaceOnUse" x1="639.8" y1="638.3" x2="755.9" y2="905.1"><stop offset="0" stop-color="#686868"/><stop offset="0.05" stop-color="#727272"/><stop offset="0.15" stop-color="#828282"/><stop offset="0.28" stop-color="#909090"/><stop offset="0.42" stop-color="#878787"/><stop offset="0.5" stop-color="#818181"/><stop offset="0.6" stop-color="#717171"/><stop offset="0.7" stop-color="#5a5a5a"/><stop offset="0.8" stop-color="#404040"/><stop offset="0.9" stop-color="#262626"/><stop offset="1" stop-color="#121212"/></linearGradient>
<linearGradient id="m60" gradientUnits="userSpaceOnUse" x1="626.5" y1="646.1" x2="743.6" y2="912.7"><stop offset="0" stop-color="#686868"/><stop offset="0.05" stop-color="#727272"/><stop offset="0.15" stop-color="#828282"/><stop offset="0.28" stop-color="#909090"/><stop offset="0.42" stop-color="#888888"/><stop offset="0.5" stop-color="#818181"/><stop offset="0.6" stop-color="#717171"/><stop offset="0.7" stop-color="#5a5a5a"/><stop offset="0.8" stop-color="#404040"/><stop offset="0.9" stop-color="#262626"/><stop offset="1" stop-color="#121212"/></linearGradient>
<linearGradient id="m61" gradientUnits="userSpaceOnUse" x1="613.3" y1="653.8" x2="731.2" y2="920.4"><stop offset="0" stop-color="#686868"/><stop offset="0.05" stop-color="#727272"/><stop offset="0.15" stop-color="#828282"/><stop offset="0.28" stop-color="#909090"/><stop offset="0.42" stop-color="#898989"/><stop offset="0.5" stop-color="#828282"/><stop offset="0.6" stop-color="#727272"/><stop offset="0.7" stop-color="#5b5b5b"/><stop offset="0.8" stop-color="#414141"/><stop offset="0.9" stop-color="#272727"/><stop offset="1" stop-color="#131313"/></linearGradient>
<linearGradient id="m62" gradientUnits="userSpaceOnUse" x1="600.2" y1="661.5" x2="718.8" y2="928.3"><stop offset="0" stop-color="#676767"/><stop offset="0.05" stop-color="#727272"/><stop offset="0.15" stop-color="#828282"/><stop offset="0.28" stop-color="#909090"/><stop offset="0.42" stop-color="#8a8a8a"/><stop offset="0.5" stop-color="#838383"/><stop offset="0.6" stop-color="#737373"/><stop offset="0.7" stop-color="#5c5c5c"/><stop offset="0.8" stop-color="#424242"/><stop offset="0.9" stop-color="#282828"/><stop offset="1" stop-color="#131313"/></linearGradient>
<linearGradient id="m63" gradientUnits="userSpaceOnUse" x1="587.3" y1="669.2" x2="706.3" y2="936.3"><stop offset="0" stop-color="#676767"/><stop offset="0.05" stop-color="#717171"/><stop offset="0.15" stop-color="#828282"/><stop offset="0.28" stop-color="#919191"/><stop offset="0.42" stop-color="#8b8b8b"/><stop offset="0.5" stop-color="#838383"/><stop offset="0.6" stop-color="#737373"/><stop offset="0.7" stop-color="#5d5d5d"/><stop offset="0.8" stop-color="#434343"/><stop offset="0.9" stop-color="#282828"/><stop offset="1" stop-color="#141414"/></linearGradient>
<linearGradient id="m64" gradientUnits="userSpaceOnUse" x1="574.5" y1="676.8" x2="693.8" y2="944.5"><stop offset="0" stop-color="#676767"/><stop offset="0.05" stop-color="#717171"/><stop offset="0.15" stop-color="#828282"/><stop offset="0.28" stop-color="#919191"/><stop offset="0.42" stop-color="#8c8c8c"/><stop offset="0.5" stop-color="#848484"/><stop offset="0.6" stop-color="#747474"/><stop offset="0.7" stop-color="#5e5e5e"/><stop offset="0.8" stop-color="#444444"/><stop offset="0.9" stop-color="#292929"/><stop offset="1" stop-color="#141414"/></linearGradient>
<linearGradient id="m65" gradientUnits="userSpaceOnUse" x1="561.7" y1="684.6" x2="681.4" y2="952.8"><stop offset="0" stop-color="#666666"/><stop offset="0.05" stop-color="#717171"/><stop offset="0.15" stop-color="#828282"/><stop offset="0.28" stop-color="#919191"/><stop offset="0.42" stop-color="#8d8d8d"/><stop offset="0.5" stop-color="#858585"/><stop offset="0.6" stop-color="#757575"/><stop offset="0.7" stop-color="#5e5e5e"/><stop offset="0.8" stop-color="#444444"/><stop offset="0.9" stop-color="#292929"/><stop offset="1" stop-color="#151515"/></linearGradient>
<linearGradient id="m66" gradientUnits="userSpaceOnUse" x1="548.8" y1="692.7" x2="669.3" y2="961.1"><stop offset="0" stop-color="#666666"/><stop offset="0.05" stop-color="#717171"/><stop offset="0.15" stop-color="#828282"/><stop offset="0.28" stop-color="#919191"/><stop offset="0.42" stop-color="#8e8e8e"/><stop offset="0.5" stop-color="#868686"/><stop offset="0.6" stop-color="#767676"/><stop offset="0.7" stop-color="#5f5f5f"/><stop offset="0.8" stop-color="#454545"/><stop offset="0.9" stop-color="#2a2a2a"/><stop offset="1" stop-color="#151515"/></linearGradient>
<linearGradient id="m67" gradientUnits="userSpaceOnUse" x1="535.5" y1="701.6" x2="658.0" y2="969.2"><stop offset="0" stop-color="#666666"/><stop offset="0.05" stop-color="#717171"/><stop offset="0.15" stop-color="#828282"/><stop offset="0.28" stop-color="#919191"/><stop offset="0.42" stop-color="#8f8f8f"/><stop offset="0.5" stop-color="#868686"/><stop offset="0.6" stop-color="#767676"/><stop offset="0.7" stop-color="#606060"/><stop offset="0.8" stop-color="#464646"/><stop offset="0.9" stop-color="#2b2b2b"/><stop offset="1" stop-color="#151515"/></linearGradient>
<linearGradient id="m68" gradientUnits="userSpaceOnUse" x1="521.7" y1="711.3" x2="647.8" y2="977.0"><stop offset="0" stop-color="#656565"/><stop offset="0.05" stop-color="#717171"/><stop offset="0.15" stop-color="#828282"/><stop offset="0.28" stop-color="#919191"/><stop offset="0.42" stop-color="#909090"/><stop offset="0.5" stop-color="#878787"/><stop offset="0.6" stop-color="#777777"/><stop offset="0.7" stop-color="#616161"/><stop offset="0.8" stop-color="#474747"/><stop offset="0.9" stop-color="#2b2b2b"/><stop offset="1" stop-color="#161616"/></linearGradient>
<linearGradient id="m69" gradientUnits="userSpaceOnUse" x1="507.2" y1="722.2" x2="638.8" y2="984.5"><stop offset="0" stop-color="#656565"/><stop offset="0.05" stop-color="#717171"/><stop offset="0.15" stop-color="#828282"/><stop offset="0.28" stop-color="#919191"/><stop offset="0.42" stop-color="#919191"/><stop offset="0.5" stop-color="#888888"/><stop offset="0.6" stop-color="#787878"/><stop offset="0.7" stop-color="#616161"/><stop offset="0.8" stop-color="#474747"/><stop offset="0.9" stop-color="#2c2c2c"/><stop offset="1" stop-color="#161616"/></linearGradient>
<linearGradient id="m70" gradientUnits="userSpaceOnUse" x1="492.3" y1="734.1" x2="630.8" y2="991.6"><stop offset="0" stop-color="#656565"/><stop offset="0.05" stop-color="#707070"/><stop offset="0.15" stop-color="#828282"/><stop offset="0.28" stop-color="#929292"/><stop offset="0.42" stop-color="#929292"/><stop offset="0.5" stop-color="#888888"/><stop offset="0.6" stop-color="#787878"/><stop offset="0.7" stop-color="#626262"/><stop offset="0.8" stop-color="#484848"/><stop offset="0.9" stop-color="#2c2c2c"/><stop offset="1" stop-color="#171717"/></linearGradient>
<linearGradient id="m71" gradientUnits="userSpaceOnUse" x1="477.0" y1="746.8" x2="623.5" y2="998.5"><stop offset="0" stop-color="#646464"/><stop offset="0.05" stop-color="#707070"/><stop offset="0.15" stop-color="#828282"/><stop offset="0.28" stop-color="#929292"/><stop offset="0.42" stop-color="#939393"/><stop offset="0.5" stop-color="#898989"/><stop offset="0.6" stop-color="#797979"/><stop offset="0.7" stop-color="#636363"/><stop offset="0.8" stop-color="#494949"/><stop offset="0.9" stop-color="#2d2d2d"/><stop offset="1" stop-color="#171717"/></linearGradient>
<linearGradient id="m72" gradientUnits="userSpaceOnUse" x1="461.8" y1="760.1" x2="616.8" y2="1005.4"><stop offset="0" stop-color="#646464"/><stop offset="0.05" stop-color="#707070"/><stop offset="0.15" stop-color="#828282"/><stop offset="0.28" stop-color="#929292"/><stop offset="0.42" stop-color="#949494"/><stop offset="0.5" stop-color="#8a8a8a"/><stop offset="0.6" stop-color="#7a7a7a"/><stop offset="0.7" stop-color="#646464"/><stop offset="0.8" stop-color="#4a4a4a"/><stop offset="0.9" stop-color="#2e2e2e"/><stop offset="1" stop-color="#181818"/></linearGradient>
<linearGradient id="m73" gradientUnits="userSpaceOnUse" x1="446.7" y1="773.8" x2="610.2" y2="1012.3"><stop offset="0" stop-color="#646464"/><stop offset="0.05" stop-color="#707070"/><stop offset="0.15" stop-color="#828282"/><stop offset="0.28" stop-color="#929292"/><stop offset="0.42" stop-color="#969696"/><stop offset="0.5" stop-color="#8b8b8b"/><stop offset="0.6" stop-color="#7b7b7b"/><stop offset="0.7" stop-color="#656565"/><stop offset="0.8" stop-color="#4b4b4b"/><stop offset="0.9" stop-color="#2f2f2f"/><stop offset="1" stop-color="#191919"/></linearGradient>
<linearGradient id="m74" gradientUnits="userSpaceOnUse" x1="432.0" y1="787.9" x2="603.6" y2="1019.3"><stop offset="0" stop-color="#636363"/><stop offset="0.05" stop-color="#707070"/><stop offset="0.15" stop-color="#828282"/><stop offset="0.28" stop-color="#929292"/><stop offset="0.42" stop-color="#999999"/><stop offset="0.5" stop-color="#8d8d8d"/><stop offset="0.6" stop-color="#7c7c7c"/><stop offset="0.7" stop-color="#666666"/><stop offset="0.8" stop-color="#4c4c4c"/><stop offset="0.9" stop-color="#303030"/><stop offset="1" stop-color="#1a1a1a"/></linearGradient>
<linearGradient id="m75" gradientUnits="userSpaceOnUse" x1="417.8" y1="802.3" x2="597.2" y2="1026.5"><stop offset="0" stop-color="#626262"/><stop offset="0.05" stop-color="#707070"/><stop offset="0.15" stop-color="#828282"/><stop offset="0.28" stop-color="#939393"/><stop offset="0.42" stop-color="#9c9c9c"/><stop offset="0.5" stop-color="#8f8f8f"/><stop offset="0.6" stop-color="#7e7e7e"/><stop offset="0.7" stop-color="#686868"/><stop offset="0.8" stop-color="#4e4e4e"/><stop offset="0.9" stop-color="#323232"/><stop offset="1" stop-color="#1c1c1c"/></linearGradient>
<linearGradient id="m76" gradientUnits="userSpaceOnUse" x1="404.0" y1="817.0" x2="590.8" y2="1033.9"><stop offset="0" stop-color="#616161"/><stop offset="0.05" stop-color="#707070"/><stop offset="0.15" stop-color="#828282"/><stop offset="0.28" stop-color="#939393"/><stop offset="0.42" stop-color="#9f9f9f"/><stop offset="0.5" stop-color="#919191"/><stop offset="0.6" stop-color="#7f7f7f"/><stop offset="0.7" stop-color="#696969"/><stop offset="0.8" stop-color="#4f4f4f"/><stop offset="0.9" stop-color="#333333"/><stop offset="1" stop-color="#1d1d1d"/></linearGradient>
<linearGradient id="m77" gradientUnits="userSpaceOnUse" x1="390.8" y1="832.0" x2="584.4" y2="1041.5"><stop offset="0" stop-color="#606060"/><stop offset="0.05" stop-color="#707070"/><stop offset="0.15" stop-color="#828282"/><stop offset="0.28" stop-color="#939393"/><stop offset="0.42" stop-color="#a3a3a3"/><stop offset="0.5" stop-color="#939393"/><stop offset="0.6" stop-color="#818181"/><stop offset="0.7" stop-color="#6b6b6b"/><stop offset="0.8" stop-color="#515151"/><stop offset="0.9" stop-color="#353535"/><stop offset="1" stop-color="#1f1f1f"/></linearGradient>
<linearGradient id="m78" gradientUnits="userSpaceOnUse" x1="378.3" y1="847.4" x2="578.2" y2="1049.4"><stop offset="0" stop-color="#5f5f5f"/><stop offset="0.05" stop-color="#707070"/><stop offset="0.15" stop-color="#828282"/><stop offset="0.28" stop-color="#949494"/><stop offset="0.42" stop-color="#a6a6a6"/><stop offset="0.5" stop-color="#959595"/><stop offset="0.6" stop-color="#828282"/><stop offset="0.7" stop-color="#6c6c6c"/><stop offset="0.8" stop-color="#525252"/><stop offset="0.9" stop-color="#363636"/><stop offset="1" stop-color="#202020"/></linearGradient>
<linearGradient id="m79" gradientUnits="userSpaceOnUse" x1="366.5" y1="863.1" x2="572.2" y2="1057.5"><stop offset="0" stop-color="#5e5e5e"/><stop offset="0.05" stop-color="#707070"/><stop offset="0.15" stop-color="#828282"/><stop offset="0.28" stop-color="#949494"/><stop offset="0.42" stop-color="#a9a9a9"/><stop offset="0.5" stop-color="#979797"/><stop offset="0.6" stop-color="#848484"/><stop offset="0.7" stop-color="#6e6e6e"/><stop offset="0.8" stop-color="#545454"/><stop offset="0.9" stop-color="#383838"/><stop offset="1" stop-color="#222222"/></linearGradient>
<linearGradient id="m80" gradientUnits="userSpaceOnUse" x1="355.5" y1="879.2" x2="566.3" y2="1066.0"><stop offset="0" stop-color="#5e5e5e"/><stop offset="0.05" stop-color="#707070"/><stop offset="0.15" stop-color="#828282"/><stop offset="0.28" stop-color="#949494"/><stop offset="0.42" stop-color="#ababab"/><stop offset="0.5" stop-color="#989898"/><stop offset="0.6" stop-color="#848484"/><stop offset="0.7" stop-color="#6e6e6e"/><stop offset="0.8" stop-color="#545454"/><stop offset="0.9" stop-color="#393939"/><stop offset="1" stop-color="#232323"/></linearGradient>
<linearGradient id="m81" gradientUnits="userSpaceOnUse" x1="345.3" y1="895.6" x2="560.5" y2="1074.7"><stop offset="0" stop-color="#5e5e5e"/><stop offset="0.05" stop-color="#707070"/><stop offset="0.15" stop-color="#828282"/><stop offset="0.28" stop-color="#939393"/><stop offset="0.42" stop-color="#acacac"/><stop offset="0.5" stop-color="#999999"/><stop offset="0.6" stop-color="#848484"/><stop offset="0.7" stop-color="#6e6e6e"/><stop offset="0.8" stop-color="#555555"/><stop offset="0.9" stop-color="#393939"/><stop offset="1" stop-color="#232323"/></linearGradient>
<linearGradient id="m82" gradientUnits="userSpaceOnUse" x1="335.7" y1="912.3" x2="555.0" y2="1083.7"><stop offset="0" stop-color="#5d5d5d"/><stop offset="0.05" stop-color="#707070"/><stop offset="0.15" stop-color="#818181"/><stop offset="0.28" stop-color="#939393"/><stop offset="0.42" stop-color="#adadad"/><stop offset="0.5" stop-color="#999999"/><stop offset="0.6" stop-color="#858585"/><stop offset="0.7" stop-color="#6f6f6f"/><stop offset="0.8" stop-color="#555555"/><stop offset="0.9" stop-color="#3a3a3a"/><stop offset="1" stop-color="#242424"/></linearGradient>
<linearGradient id="m83" gradientUnits="userSpaceOnUse" x1="326.8" y1="929.3" x2="549.7" y2="1092.9"><stop offset="0" stop-color="#5d5d5d"/><stop offset="0.05" stop-color="#707070"/><stop offset="0.15" stop-color="#818181"/><stop offset="0.28" stop-color="#929292"/><stop offset="0.42" stop-color="#aeaeae"/><stop offset="0.5" stop-color="#9a9a9a"/><stop offset="0.6" stop-color="#858585"/><stop offset="0.7" stop-color="#6f6f6f"/><stop offset="0.8" stop-color="#565656"/><stop offset="0.9" stop-color="#3b3b3b"/><stop offset="1" stop-color="#252525"/></linearGradient>
<linearGradient id="m84" gradientUnits="userSpaceOnUse" x1="318.3" y1="946.6" x2="544.6" y2="1102.2"><stop offset="0" stop-color="#5d5d5d"/><stop offset="0.05" stop-color="#707070"/><stop offset="0.15" stop-color="#818181"/><stop offset="0.28" stop-color="#929292"/><stop offset="0.42" stop-color="#afafaf"/><stop offset="0.5" stop-color="#9a9a9a"/><stop offset="0.6" stop-color="#858585"/><stop offset="0.7" stop-color="#6f6f6f"/><stop offset="0.8" stop-color="#565656"/><stop offset="0.9" stop-color="#3c3c3c"/><stop offset="1" stop-color="#262626"/></linearGradient>
<linearGradient id="m85" gradientUnits="userSpaceOnUse" x1="310.3" y1="964.1" x2="539.7" y2="1111.7"><stop offset="0" stop-color="#5d5d5d"/><stop offset="0.05" stop-color="#707070"/><stop offset="0.15" stop-color="#818181"/><stop offset="0.28" stop-color="#919191"/><stop offset="0.42" stop-color="#b0b0b0"/><stop offset="0.5" stop-color="#9b9b9b"/><stop offset="0.6" stop-color="#858585"/><stop offset="0.7" stop-color="#6f6f6f"/><stop offset="0.8" stop-color="#575757"/><stop offset="0.9" stop-color="#3c3c3c"/><stop offset="1" stop-color="#262626"/></linearGradient>
<linearGradient id="m86" gradientUnits="userSpaceOnUse" x1="302.6" y1="981.9" x2="535.2" y2="1121.2"><stop offset="0" stop-color="#5c5c5c"/><stop offset="0.05" stop-color="#707070"/><stop offset="0.15" stop-color="#808080"/><stop offset="0.28" stop-color="#919191"/><stop offset="0.42" stop-color="#b1b1b1"/><stop offset="0.5" stop-color="#9b9b9b"/><stop offset="0.6" stop-color="#868686"/><stop offset="0.7" stop-color="#707070"/><stop offset="0.8" stop-color="#575757"/><stop offset="0.9" stop-color="#3d3d3d"/><stop offset="1" stop-color="#272727"/></linearGradient>
<linearGradient id="m87" gradientUnits="userSpaceOnUse" x1="295.2" y1="1000.0" x2="531.0" y2="1130.7"><stop offset="0" stop-color="#5c5c5c"/><stop offset="0.05" stop-color="#707070"/><stop offset="0.15" stop-color="#808080"/><stop offset="0.28" stop-color="#909090"/><stop offset="0.42" stop-color="#b2b2b2"/><stop offset="0.5" stop-color="#9c9c9c"/><stop offset="0.6" stop-color="#868686"/><stop offset="0.7" stop-color="#707070"/><stop offset="0.8" stop-color="#585858"/><stop offset="0.9" stop-color="#3e3e3e"/><stop offset="1" stop-color="#282828"/></linearGradient>
<linearGradient id="m88" gradientUnits="userSpaceOnUse" x1="288.1" y1="1018.2" x2="527.0" y2="1140.3"><stop offset="0" stop-color="#5b5b5b"/><stop offset="0.05" stop-color="#6f6f6f"/><stop offset="0.15" stop-color="#7f7f7f"/><stop offset="0.28" stop-color="#8f8f8f"/><stop offset="0.42" stop-color="#b1b1b1"/><stop offset="0.5" stop-color="#9b9b9b"/><stop offset="0.6" stop-color="#858585"/><stop offset="0.7" stop-color="#6f6f6f"/><stop offset="0.8" stop-color="#585858"/><stop offset="0.9" stop-color="#3e3e3e"/><stop offset="1" stop-color="#282828"/></linearGradient>
<linearGradient id="m89" gradientUnits="userSpaceOnUse" x1="281.1" y1="1036.7" x2="523.4" y2="1149.8"><stop offset="0" stop-color="#5b5b5b"/><stop offset="0.05" stop-color="#6e6e6e"/><stop offset="0.15" stop-color="#7f7f7f"/><stop offset="0.28" stop-color="#8f8f8f"/><stop offset="0.42" stop-color="#afafaf"/><stop offset="0.5" stop-color="#9a9a9a"/><stop offset="0.6" stop-color="#858585"/><stop offset="0.7" stop-color="#6f6f6f"/><stop offset="0.8" stop-color="#575757"/><stop offset="0.9" stop-color="#3d3d3d"/><stop offset="1" stop-color="#282828"/></linearGradient>
<linearGradient id="m90" gradientUnits="userSpaceOnUse" x1="274.5" y1="1055.3" x2="520.1" y2="1159.3"><stop offset="0" stop-color="#5a5a5a"/><stop offset="0.05" stop-color="#6e6e6e"/><stop offset="0.15" stop-color="#7e7e7e"/><stop offset="0.28" stop-color="#8e8e8e"/><stop offset="0.42" stop-color="#aeaeae"/><stop offset="0.5" stop-color="#9a9a9a"/><stop offset="0.6" stop-color="#848484"/><stop offset="0.7" stop-color="#6e6e6e"/><stop offset="0.8" stop-color="#575757"/><stop offset="0.9" stop-color="#3d3d3d"/><stop offset="1" stop-color="#282828"/></linearGradient>
<linearGradient id="m91" gradientUnits="userSpaceOnUse" x1="268.2" y1="1074.1" x2="517.0" y2="1168.8"><stop offset="0" stop-color="#5a5a5a"/><stop offset="0.05" stop-color="#6d6d6d"/><stop offset="0.15" stop-color="#7e7e7e"/><stop offset="0.28" stop-color="#8e8e8e"/><stop offset="0.42" stop-color="#adadad"/><stop offset="0.5" stop-color="#999999"/><stop offset="0.6" stop-color="#848484"/><stop offset="0.7" stop-color="#6e6e6e"/><stop offset="0.8" stop-color="#575757"/><stop offset="0.9" stop-color="#3d3d3d"/><stop offset="1" stop-color="#282828"/></linearGradient>
<linearGradient id="m92" gradientUnits="userSpaceOnUse" x1="262.3" y1="1093.0" x2="514.2" y2="1178.4"><stop offset="0" stop-color="#595959"/><stop offset="0.05" stop-color="#6c6c6c"/><stop offset="0.15" stop-color="#7d7d7d"/><stop offset="0.28" stop-color="#8d8d8d"/><stop offset="0.42" stop-color="#ababab"/><stop offset="0.5" stop-color="#989898"/><stop offset="0.6" stop-color="#838383"/><stop offset="0.7" stop-color="#6d6d6d"/><stop offset="0.8" stop-color="#575757"/><stop offset="0.9" stop-color="#3d3d3d"/><stop offset="1" stop-color="#282828"/></linearGradient>
<linearGradient id="m93" gradientUnits="userSpaceOnUse" x1="256.9" y1="1112.1" x2="511.6" y2="1188.0"><stop offset="0" stop-color="#595959"/><stop offset="0.05" stop-color="#6b6b6b"/><stop offset="0.15" stop-color="#7d7d7d"/><stop offset="0.28" stop-color="#8d8d8d"/><stop offset="0.42" stop-color="#aaaaaa"/><stop offset="0.5" stop-color="#979797"/><stop offset="0.6" stop-color="#838383"/><stop offset="0.7" stop-color="#6d6d6d"/><stop offset="0.8" stop-color="#565656"/><stop offset="0.9" stop-color="#3c3c3c"/><stop offset="1" stop-color="#282828"/></linearGradient>
<linearGradient id="m94" gradientUnits="userSpaceOnUse" x1="252.1" y1="1131.3" x2="509.2" y2="1197.7"><stop offset="0" stop-color="#585858"/><stop offset="0.05" stop-color="#6a6a6a"/><stop offset="0.15" stop-color="#7c7c7c"/><stop offset="0.28" stop-color="#8c8c8c"/><stop offset="0.42" stop-color="#a9a9a9"/><stop offset="0.5" stop-color="#969696"/><stop offset="0.6" stop-color="#828282"/><stop offset="0.7" stop-color="#6c6c6c"/><stop offset="0.8" stop-color="#565656"/><stop offset="0.9" stop-color="#3c3c3c"/><stop offset="1" stop-color="#282828"/></linearGradient>
<linearGradient id="m95" gradientUnits="userSpaceOnUse" x1="247.8" y1="1150.5" x2="507.0" y2="1207.5"><stop offset="0" stop-color="#575757"/><stop offset="0.05" stop-color="#696969"/><stop offset="0.15" stop-color="#7b7b7b"/><stop offset="0.28" stop-color="#8b8b8b"/><stop offset="0.42" stop-color="#a6a6a6"/><stop offset="0.5" stop-color="#959595"/><stop offset="0.6" stop-color="#818181"/><stop offset="0.7" stop-color="#6b6b6b"/><stop offset="0.8" stop-color="#555555"/><stop offset="0.9" stop-color="#3b3b3b"/><stop offset="1" stop-color="#282828"/></linearGradient>
<linearGradient id="m96" gradientUnits="userSpaceOnUse" x1="244.1" y1="1169.9" x2="504.9" y2="1217.4"><stop offset="0" stop-color="#545454"/><stop offset="0.05" stop-color="#666666"/><stop offset="0.15" stop-color="#787878"/><stop offset="0.28" stop-color="#888888"/><stop offset="0.42" stop-color="#a1a1a1"/><stop offset="0.5" stop-color="#919191"/><stop offset="0.6" stop-color="#7d7d7d"/><stop offset="0.7" stop-color="#686868"/><stop offset="0.8" stop-color="#535353"/><stop offset="0.9" stop-color="#3a3a3a"/><stop offset="1" stop-color="#272727"/></linearGradient>
<linearGradient id="m97" gradientUnits="userSpaceOnUse" x1="241.2" y1="1189.3" x2="503.0" y2="1227.4"><stop offset="0" stop-color="#515151"/><stop offset="0.05" stop-color="#626262"/><stop offset="0.15" stop-color="#747474"/><stop offset="0.28" stop-color="#848484"/><stop offset="0.42" stop-color="#9c9c9c"/><stop offset="0.5" stop-color="#8d8d8d"/><stop offset="0.6" stop-color="#7a7a7a"/><stop offset="0.7" stop-color="#656565"/><stop offset="0.8" stop-color="#505050"/><stop offset="0.9" stop-color="#383838"/><stop offset="1" stop-color="#272727"/></linearGradient>
<linearGradient id="m98" gradientUnits="userSpaceOnUse" x1="239.0" y1="1208.7" x2="501.3" y2="1237.5"><stop offset="0" stop-color="#4f4f4f"/><stop offset="0.05" stop-color="#5f5f5f"/><stop offset="0.15" stop-color="#717171"/><stop offset="0.28" stop-color="#818181"/><stop offset="0.42" stop-color="#969696"/><stop offset="0.5" stop-color="#898989"/><stop offset="0.6" stop-color="#767676"/><stop offset="0.7" stop-color="#626262"/><stop offset="0.8" stop-color="#4e4e4e"/><stop offset="0.9" stop-color="#373737"/><stop offset="1" stop-color="#262626"/></linearGradient>
<linearGradient id="m99" gradientUnits="userSpaceOnUse" x1="237.6" y1="1228.2" x2="499.6" y2="1247.9"><stop offset="0" stop-color="#4c4c4c"/><stop offset="0.05" stop-color="#5c5c5c"/><stop offset="0.15" stop-color="#6e6e6e"/><stop offset="0.28" stop-color="#7e7e7e"/><stop offset="0.42" stop-color="#919191"/><stop offset="0.5" stop-color="#868686"/><stop offset="0.6" stop-color="#737373"/><stop offset="0.7" stop-color="#5f5f5f"/><stop offset="0.8" stop-color="#4b4b4b"/><stop offset="0.9" stop-color="#353535"/><stop offset="1" stop-color="#262626"/></linearGradient>
<linearGradient id="m100" gradientUnits="userSpaceOnUse" x1="236.9" y1="1247.6" x2="498.1" y2="1258.3"><stop offset="0" stop-color="#494949"/><stop offset="0.05" stop-color="#595959"/><stop offset="0.15" stop-color="#6b6b6b"/><stop offset="0.28" stop-color="#7b7b7b"/><stop offset="0.42" stop-color="#8c8c8c"/><stop offset="0.5" stop-color="#828282"/><stop offset="0.6" stop-color="#6f6f6f"/><stop offset="0.7" stop-color="#5c5c5c"/><stop offset="0.8" stop-color="#494949"/><stop offset="0.9" stop-color="#343434"/><stop offset="1" stop-color="#252525"/></linearGradient>
<linearGradient id="m101" gradientUnits="userSpaceOnUse" x1="236.7" y1="1266.9" x2="496.7" y2="1269.0"><stop offset="0" stop-color="#474747"/><stop offset="0.05" stop-color="#555555"/><stop offset="0.15" stop-color="#676767"/><stop offset="0.28" stop-color="#777777"/><stop offset="0.42" stop-color="#878787"/><stop offset="0.5" stop-color="#7e7e7e"/><stop offset="0.6" stop-color="#6c6c6c"/><stop offset="0.7" stop-color="#595959"/><stop offset="0.8" stop-color="#464646"/><stop offset="0.9" stop-color="#333333"/><stop offset="1" stop-color="#252525"/></linearGradient>
<linearGradient id="m102" gradientUnits="userSpaceOnUse" x1="236.6" y1="1286.0" x2="495.4" y2="1279.9"><stop offset="0" stop-color="#444444"/><stop offset="0.05" stop-color="#525252"/><stop offset="0.15" stop-color="#646464"/><stop offset="0.28" stop-color="#747474"/><stop offset="0.42" stop-color="#828282"/><stop offset="0.5" stop-color="#7b7b7b"/><stop offset="0.6" stop-color="#686868"/><stop offset="0.7" stop-color="#565656"/><stop offset="0.8" stop-color="#444444"/><stop offset="0.9" stop-color="#313131"/><stop offset="1" stop-color="#242424"/></linearGradient>
<linearGradient id="m103" gradientUnits="userSpaceOnUse" x1="236.7" y1="1304.8" x2="494.3" y2="1290.9"><stop offset="0" stop-color="#414141"/><stop offset="0.05" stop-color="#4f4f4f"/><stop offset="0.15" stop-color="#616161"/><stop offset="0.28" stop-color="#707070"/><stop offset="0.42" stop-color="#7c7c7c"/><stop offset="0.5" stop-color="#767676"/><stop offset="0.6" stop-color="#656565"/><stop offset="0.7" stop-color="#535353"/><stop offset="0.8" stop-color="#414141"/><stop offset="0.9" stop-color="#303030"/><stop offset="1" stop-color="#242424"/></linearGradient>
<linearGradient id="m104" gradientUnits="userSpaceOnUse" x1="237.3" y1="1324.0" x2="493.5" y2="1301.4"><stop offset="0" stop-color="#404040"/><stop offset="0.05" stop-color="#4c4c4c"/><stop offset="0.15" stop-color="#5c5c5c"/><stop offset="0.28" stop-color="#6b6b6b"/><stop offset="0.42" stop-color="#757575"/><stop offset="0.5" stop-color="#707070"/><stop offset="0.6" stop-color="#5f5f5f"/><stop offset="0.7" stop-color="#4f4f4f"/><stop offset="0.8" stop-color="#3f3f3f"/><stop offset="0.9" stop-color="#2f2f2f"/><stop offset="1" stop-color="#252525"/></linearGradient>
<linearGradient id="m105" gradientUnits="userSpaceOnUse" x1="239.6" y1="1344.7" x2="492.9" y2="1310.4"><stop offset="0" stop-color="#3e3e3e"/><stop offset="0.05" stop-color="#484848"/><stop offset="0.15" stop-color="#575757"/><stop offset="0.28" stop-color="#656565"/><stop offset="0.42" stop-color="#6e6e6e"/><stop offset="0.5" stop-color="#696969"/><stop offset="0.6" stop-color="#5a5a5a"/><stop offset="0.7" stop-color="#4b4b4b"/><stop offset="0.8" stop-color="#3d3d3d"/><stop offset="0.9" stop-color="#2f2f2f"/><stop offset="1" stop-color="#262626"/></linearGradient>
<linearGradient id="m106" gradientUnits="userSpaceOnUse" x1="244.4" y1="1367.1" x2="492.7" y2="1317.6"><stop offset="0" stop-color="#3c3c3c"/><stop offset="0.05" stop-color="#454545"/><stop offset="0.15" stop-color="#535353"/><stop offset="0.28" stop-color="#5f5f5f"/><stop offset="0.42" stop-color="#676767"/><stop offset="0.5" stop-color="#626262"/><stop offset="0.6" stop-color="#555555"/><stop offset="0.7" stop-color="#484848"/><stop offset="0.8" stop-color="#3a3a3a"/><stop offset="0.9" stop-color="#2e2e2e"/><stop offset="1" stop-color="#272727"/></linearGradient>
<linearGradient id="m107" gradientUnits="userSpaceOnUse" x1="251.6" y1="1390.4" x2="492.9" y2="1323.2"><stop offset="0" stop-color="#3a3a3a"/><stop offset="0.05" stop-color="#424242"/><stop offset="0.15" stop-color="#4e4e4e"/><stop offset="0.28" stop-color="#5a5a5a"/><stop offset="0.42" stop-color="#606060"/><stop offset="0.5" stop-color="#5c5c5c"/><stop offset="0.6" stop-color="#505050"/><stop offset="0.7" stop-color="#444444"/><stop offset="0.8" stop-color="#383838"/><stop offset="0.9" stop-color="#2e2e2e"/><stop offset="1" stop-color="#282828"/></linearGradient>
<linearGradient id="m108" gradientUnits="userSpaceOnUse" x1="261.4" y1="1413.9" x2="493.6" y2="1327.7"><stop offset="0" stop-color="#393939"/><stop offset="0.05" stop-color="#404040"/><stop offset="0.15" stop-color="#4b4b4b"/><stop offset="0.28" stop-color="#565656"/><stop offset="0.42" stop-color="#5b5b5b"/><stop offset="0.5" stop-color="#575757"/><stop offset="0.6" stop-color="#4c4c4c"/><stop offset="0.7" stop-color="#414141"/><stop offset="0.8" stop-color="#363636"/><stop offset="0.9" stop-color="#2e2e2e"/><stop offset="1" stop-color="#282828"/></linearGradient>
<linearGradient id="m109" gradientUnits="userSpaceOnUse" x1="273.6" y1="1436.9" x2="494.8" y2="1331.3"><stop offset="0" stop-color="#373737"/><stop offset="0.05" stop-color="#3e3e3e"/><stop offset="0.15" stop-color="#484848"/><stop offset="0.28" stop-color="#525252"/><stop offset="0.42" stop-color="#565656"/><stop offset="0.5" stop-color="#525252"/><stop offset="0.6" stop-color="#484848"/><stop offset="0.7" stop-color="#3e3e3e"/><stop offset="0.8" stop-color="#343434"/><stop offset="0.9" stop-color="#2d2d2d"/><stop offset="1" stop-color="#292929"/></linearGradient>
<linearGradient id="m110" gradientUnits="userSpaceOnUse" x1="288.4" y1="1458.7" x2="496.6" y2="1334.4"><stop offset="0" stop-color="#363636"/><stop offset="0.05" stop-color="#3b3b3b"/><stop offset="0.15" stop-color="#454545"/><stop offset="0.28" stop-color="#4e4e4e"/><stop offset="0.42" stop-color="#515151"/><stop offset="0.5" stop-color="#4d4d4d"/><stop offset="0.6" stop-color="#444444"/><stop offset="0.7" stop-color="#3b3b3b"/><stop offset="0.8" stop-color="#333333"/><stop offset="0.9" stop-color="#2d2d2d"/><stop offset="1" stop-color="#292929"/></linearGradient>
<linearGradient id="m111" gradientUnits="userSpaceOnUse" x1="305.6" y1="1479.0" x2="498.8" y2="1336.9"><stop offset="0" stop-color="#353535"/><stop offset="0.05" stop-color="#393939"/><stop offset="0.15" stop-color="#424242"/><stop offset="0.28" stop-color="#4a4a4a"/><stop offset="0.42" stop-color="#4c4c4c"/><stop offset="0.5" stop-color="#484848"/><stop offset="0.6" stop-color="#404040"/><stop offset="0.7" stop-color="#383838"/><stop offset="0.8" stop-color="#313131"/><stop offset="0.9" stop-color="#2c2c2c"/><stop offset="1" stop-color="#2a2a2a"/></linearGradient>
<linearGradient id="m112" gradientUnits="userSpaceOnUse" x1="324.8" y1="1497.7" x2="501.3" y2="1338.9"><stop offset="0" stop-color="#333333"/><stop offset="0.05" stop-color="#373737"/><stop offset="0.15" stop-color="#3f3f3f"/><stop offset="0.28" stop-color="#474747"/><stop offset="0.42" stop-color="#494949"/><stop offset="0.5" stop-color="#454545"/><stop offset="0.6" stop-color="#3d3d3d"/><stop offset="0.7" stop-color="#353535"/><stop offset="0.8" stop-color="#303030"/><stop offset="0.9" stop-color="#2c2c2c"/><stop offset="1" stop-color="#2a2a2a"/></linearGradient>
<linearGradient id="m113" gradientUnits="userSpaceOnUse" x1="345.9" y1="1514.7" x2="503.9" y2="1340.1"><stop offset="0" stop-color="#323232"/><stop offset="0.05" stop-color="#353535"/><stop offset="0.15" stop-color="#3c3c3c"/><stop offset="0.28" stop-color="#444444"/><stop offset="0.42" stop-color="#464646"/><stop offset="0.5" stop-color="#424242"/><stop offset="0.6" stop-color="#3b3b3b"/><stop offset="0.7" stop-color="#343434"/><stop offset="0.8" stop-color="#2f2f2f"/><stop offset="0.9" stop-color="#2c2c2c"/><stop offset="1" stop-color="#2b2b2b"/></linearGradient>
<linearGradient id="m114" gradientUnits="userSpaceOnUse" x1="368.6" y1="1529.9" x2="506.6" y2="1340.4"><stop offset="0" stop-color="#313131"/><stop offset="0.05" stop-color="#343434"/><stop offset="0.15" stop-color="#3a3a3a"/><stop offset="0.28" stop-color="#414141"/><stop offset="0.42" stop-color="#434343"/><stop offset="0.5" stop-color="#404040"/><stop offset="0.6" stop-color="#3a3a3a"/><stop offset="0.7" stop-color="#333333"/><stop offset="0.8" stop-color="#2f2f2f"/><stop offset="0.9" stop-color="#2c2c2c"/><stop offset="1" stop-color="#2c2c2c"/></linearGradient>
<linearGradient id="m115" gradientUnits="userSpaceOnUse" x1="392.8" y1="1543.3" x2="509.1" y2="1339.9"><stop offset="0" stop-color="#2f2f2f"/><stop offset="0.05" stop-color="#323232"/><stop offset="0.15" stop-color="#383838"/><stop offset="0.28" stop-color="#3e3e3e"/><stop offset="0.42" stop-color="#404040"/><stop offset="0.5" stop-color="#3e3e3e"/><stop offset="0.6" stop-color="#383838"/><stop offset="0.7" stop-color="#323232"/><stop offset="0.8" stop-color="#2e2e2e"/><stop offset="0.9" stop-color="#2c2c2c"/><stop offset="1" stop-color="#2c2c2c"/></linearGradient>
<linearGradient id="m116" gradientUnits="userSpaceOnUse" x1="418.2" y1="1554.9" x2="511.6" y2="1338.7"><stop offset="0" stop-color="#2e2e2e"/><stop offset="0.05" stop-color="#303030"/><stop offset="0.15" stop-color="#353535"/><stop offset="0.28" stop-color="#3b3b3b"/><stop offset="0.42" stop-color="#3e3e3e"/><stop offset="0.5" stop-color="#3b3b3b"/><stop offset="0.6" stop-color="#363636"/><stop offset="0.7" stop-color="#313131"/><stop offset="0.8" stop-color="#2e2e2e"/><stop offset="0.9" stop-color="#2c2c2c"/><stop offset="1" stop-color="#2d2d2d"/></linearGradient>
<linearGradient id="m117" gradientUnits="userSpaceOnUse" x1="444.7" y1="1564.8" x2="513.9" y2="1337.0"><stop offset="0" stop-color="#2d2d2d"/><stop offset="0.05" stop-color="#2f2f2f"/><stop offset="0.15" stop-color="#333333"/><stop offset="0.28" stop-color="#383838"/><stop offset="0.42" stop-color="#3b3b3b"/><stop offset="0.5" stop-color="#393939"/><stop offset="0.6" stop-color="#353535"/><stop offset="0.7" stop-color="#303030"/><stop offset="0.8" stop-color="#2d2d2d"/><stop offset="0.9" stop-color="#2c2c2c"/><stop offset="1" stop-color="#2e2e2e"/></linearGradient>
<linearGradient id="m118" gradientUnits="userSpaceOnUse" x1="472.2" y1="1572.8" x2="516.1" y2="1335.1"><stop offset="0" stop-color="#2c2c2c"/><stop offset="0.05" stop-color="#2e2e2e"/><stop offset="0.15" stop-color="#313131"/><stop offset="0.28" stop-color="#363636"/><stop offset="0.42" stop-color="#3a3a3a"/><stop offset="0.5" stop-color="#383838"/><stop offset="0.6" stop-color="#343434"/><stop offset="0.7" stop-color="#313131"/><stop offset="0.8" stop-color="#2e2e2e"/><stop offset="0.9" stop-color="#2d2d2d"/><stop offset="1" stop-color="#2f2f2f"/></linearGradient>
<linearGradient id="m119" gradientUnits="userSpaceOnUse" x1="500.1" y1="1578.0" x2="518.1" y2="1333.0"><stop offset="0" stop-color="#2b2b2b"/><stop offset="0.05" stop-color="#2d2d2d"/><stop offset="0.15" stop-color="#313131"/><stop offset="0.28" stop-color="#363636"/><stop offset="0.42" stop-color="#393939"/><stop offset="0.5" stop-color="#383838"/><stop offset="0.6" stop-color="#353535"/><stop offset="0.7" stop-color="#323232"/><stop offset="0.8" stop-color="#2f2f2f"/><stop offset="0.9" stop-color="#2e2e2e"/><stop offset="1" stop-color="#303030"/></linearGradient>
<linearGradient id="m120" gradientUnits="userSpaceOnUse" x1="527.7" y1="1579.0" x2="519.9" y2="1331.0"><stop offset="0" stop-color="#2a2a2a"/><stop offset="0.05" stop-color="#2c2c2c"/><stop offset="0.15" stop-color="#303030"/><stop offset="0.28" stop-color="#353535"/><stop offset="0.42" stop-color="#393939"/><stop offset="0.5" stop-color="#383838"/><stop offset="0.6" stop-color="#363636"/><stop offset="0.7" stop-color="#333333"/><stop offset="0.8" stop-color="#313131"/><stop offset="0.9" stop-color="#303030"/><stop offset="1" stop-color="#323232"/></linearGradient>
<linearGradient id="m121" gradientUnits="userSpaceOnUse" x1="554.5" y1="1574.7" x2="521.7" y2="1329.3"><stop offset="0" stop-color="#292929"/><stop offset="0.05" stop-color="#2b2b2b"/><stop offset="0.15" stop-color="#2f2f2f"/><stop offset="0.28" stop-color="#343434"/><stop offset="0.42" stop-color="#393939"/><stop offset="0.5" stop-color="#383838"/><stop offset="0.6" stop-color="#373737"/><stop offset="0.7" stop-color="#343434"/><stop offset="0.8" stop-color="#323232"/><stop offset="0.9" stop-color="#313131"/><stop offset="1" stop-color="#333333"/></linearGradient>
<linearGradient id="m122" gradientUnits="userSpaceOnUse" x1="580.5" y1="1565.9" x2="523.5" y2="1327.6"><stop offset="0" stop-color="#292929"/><stop offset="0.05" stop-color="#2b2b2b"/><stop offset="0.15" stop-color="#2e2e2e"/><stop offset="0.28" stop-color="#333333"/><stop offset="0.42" stop-color="#383838"/><stop offset="0.5" stop-color="#383838"/><stop offset="0.6" stop-color="#373737"/><stop offset="0.7" stop-color="#353535"/><stop offset="0.8" stop-color="#343434"/><stop offset="0.9" stop-color="#333333"/><stop offset="1" stop-color="#353535"/></linearGradient>
<linearGradient id="m123" gradientUnits="userSpaceOnUse" x1="605.8" y1="1553.9" x2="525.4" y2="1325.6"><stop offset="0" stop-color="#292929"/><stop offset="0.05" stop-color="#2b2b2b"/><stop offset="0.15" stop-color="#2e2e2e"/><stop offset="0.28" stop-color="#333333"/><stop offset="0.42" stop-color="#393939"/><stop offset="0.5" stop-color="#393939"/><stop offset="0.6" stop-color="#3a3a3a"/><stop offset="0.7" stop-color="#383838"/><stop offset="0.8" stop-color="#373737"/><stop offset="0.9" stop-color="#363636"/><stop offset="1" stop-color="#383838"/></linearGradient>
<linearGradient id="m124" gradientUnits="userSpaceOnUse" x1="629.3" y1="1539.3" x2="527.8" y2="1323.1"><stop offset="0" stop-color="#2b2b2b"/><stop offset="0.05" stop-color="#2d2d2d"/><stop offset="0.15" stop-color="#303030"/><stop offset="0.28" stop-color="#363636"/><stop offset="0.42" stop-color="#3e3e3e"/><stop offset="0.5" stop-color="#404040"/><stop offset="0.6" stop-color="#414141"/><stop offset="0.7" stop-color="#404040"/><stop offset="0.8" stop-color="#404040"/><stop offset="0.9" stop-color="#404040"/><stop offset="1" stop-color="#424242"/></linearGradient>
<linearGradient id="m125" gradientUnits="userSpaceOnUse" x1="648.5" y1="1521.6" x2="530.5" y2="1320.6"><stop offset="0" stop-color="#2e2e2e"/><stop offset="0.05" stop-color="#303030"/><stop offset="0.15" stop-color="#333333"/><stop offset="0.28" stop-color="#393939"/><stop offset="0.42" stop-color="#424242"/><stop offset="0.5" stop-color="#464646"/><stop offset="0.6" stop-color="#484848"/><stop offset="0.7" stop-color="#484848"/><stop offset="0.8" stop-color="#494949"/><stop offset="0.9" stop-color="#4a4a4a"/><stop offset="1" stop-color="#4c4c4c"/></linearGradient>
<linearGradient id="m126" gradientUnits="userSpaceOnUse" x1="660.4" y1="1500.0" x2="533.6" y2="1318.4"><stop offset="0" stop-color="#303030"/><stop offset="0.05" stop-color="#323232"/><stop offset="0.15" stop-color="#363636"/><stop offset="0.28" stop-color="#3c3c3c"/><stop offset="0.42" stop-color="#474747"/><stop offset="0.5" stop-color="#4c4c4c"/><stop offset="0.6" stop-color="#4f4f4f"/><stop offset="0.7" stop-color="#515151"/><stop offset="0.8" stop-color="#525252"/><stop offset="0.9" stop-color="#535353"/><stop offset="1" stop-color="#555555"/></linearGradient>
<linearGradient id="m127" gradientUnits="userSpaceOnUse" x1="662.0" y1="1473.7" x2="537.2" y2="1316.9"><stop offset="0" stop-color="#353535"/><stop offset="0.05" stop-color="#373737"/><stop offset="0.15" stop-color="#3b3b3b"/><stop offset="0.28" stop-color="#414141"/><stop offset="0.42" stop-color="#4c4c4c"/><stop offset="0.5" stop-color="#525252"/><stop offset="0.6" stop-color="#565656"/><stop offset="0.7" stop-color="#585858"/><stop offset="0.8" stop-color="#5a5a5a"/><stop offset="0.9" stop-color="#5b5b5b"/><stop offset="1" stop-color="#5d5d5d"/></linearGradient>
<linearGradient id="m128" gradientUnits="userSpaceOnUse" x1="653.4" y1="1443.7" x2="541.4" y2="1316.7"><stop offset="0" stop-color="#3c3c3c"/><stop offset="0.05" stop-color="#3f3f3f"/><stop offset="0.15" stop-color="#444444"/><stop offset="0.28" stop-color="#4a4a4a"/><stop offset="0.42" stop-color="#545454"/><stop offset="0.5" stop-color="#585858"/><stop offset="0.6" stop-color="#5c5c5c"/><stop offset="0.7" stop-color="#5d5d5d"/><stop offset="0.8" stop-color="#5e5e5e"/><stop offset="0.9" stop-color="#5f5f5f"/><stop offset="1" stop-color="#5f5f5f"/></linearGradient>
<linearGradient id="m129" gradientUnits="userSpaceOnUse" x1="637.8" y1="1412.6" x2="545.8" y2="1317.7"><stop offset="0" stop-color="#444444"/><stop offset="0.05" stop-color="#474747"/><stop offset="0.15" stop-color="#4d4d4d"/><stop offset="0.28" stop-color="#535353"/><stop offset="0.42" stop-color="#5b5b5b"/><stop offset="0.5" stop-color="#5f5f5f"/><stop offset="0.6" stop-color="#616161"/><stop offset="0.7" stop-color="#626262"/><stop offset="0.8" stop-color="#636363"/><stop offset="0.9" stop-color="#636363"/><stop offset="1" stop-color="#626262"/></linearGradient>
<linearGradient id="m130" gradientUnits="userSpaceOnUse" x1="619.4" y1="1383.6" x2="550.6" y2="1320.3"><stop offset="0" stop-color="#4c4c4c"/><stop offset="0.05" stop-color="#505050"/><stop offset="0.15" stop-color="#565656"/><stop offset="0.28" stop-color="#5c5c5c"/><stop offset="0.42" stop-color="#626262"/><stop offset="0.5" stop-color="#656565"/><stop offset="0.6" stop-color="#676767"/><stop offset="0.7" stop-color="#676767"/><stop offset="0.8" stop-color="#686868"/><stop offset="0.9" stop-color="#666666"/><stop offset="1" stop-color="#656565"/></linearGradient>
<clipPath id="cpTube"><path d="M1416.0,264.0 L1424.1,261.6 L1430.0,264.5 L1433.7,272.2 L1436.8,280.1 L1439.7,287.3 L1442.5,294.3 L1445.2,301.3 L1447.8,308.6 L1450.3,316.1 L1452.6,323.6 L1454.7,331.3 L1456.8,338.9 L1458.6,346.4 L1460.5,354.0 L1462.2,361.6 L1464.0,369.2 L1465.7,376.9 L1467.4,384.5 L1468.9,392.2 L1470.4,399.9 L1471.7,407.6 L1472.8,415.3 L1473.7,423.1 L1474.6,430.9 L1475.4,438.7 L1476.1,446.5 L1476.7,454.3 L1477.2,462.1 L1477.5,469.9 L1477.6,477.7 L1477.6,485.5 L1477.5,493.3 L1477.5,501.1 L1477.5,509.1 L1477.5,517.0 L1477.0,524.8 L1475.7,532.4 L1473.2,539.8 L1470.0,547.0 L1459.7,548.2 L1445.0,550.7 L1430.6,553.7 L1416.2,556.9 L1401.7,560.2 L1387.0,563.5 L1372.2,566.8 L1357.3,570.2 L1342.6,574.0 L1328.1,578.3 L1314.0,583.1 L1300.1,588.4 L1286.6,594.2 L1273.3,600.4 L1260.2,606.9 L1247.2,613.7 L1234.5,620.6 L1221.8,627.7 L1209.2,634.9 L1196.7,642.1 L1184.2,649.3 L1171.7,656.6 L1159.4,663.9 L1147.0,671.2 L1134.7,678.5 L1122.4,685.8 L1110.2,693.1 L1098.0,700.5 L1085.9,707.8 L1073.8,715.1 L1061.7,722.5 L1049.6,729.8 L1037.6,737.1 L1025.5,744.5 L1013.5,751.7 L1001.6,759.0 L989.6,766.3 L977.7,773.5 L965.7,780.7 L953.8,787.9 L941.9,795.1 L930.0,802.2 L918.1,809.2 L906.2,816.3 L894.3,823.3 L882.4,830.2 L870.4,837.2 L858.5,844.2 L846.5,851.1 L834.6,858.1 L822.6,865.1 L810.5,872.2 L798.5,879.4 L786.4,886.6 L774.2,893.9 L762.0,901.3 L749.7,908.9 L737.4,916.5 L725.0,924.3 L712.6,932.3 L700.1,940.4 L687.5,948.7 L675.2,957.0 L663.5,965.2 L652.6,973.2 L643.0,980.8 L634.5,988.1 L627.0,995.1 L620.1,1002.0 L613.5,1008.8 L606.9,1015.8 L600.4,1022.9 L593.9,1030.2 L587.6,1037.7 L581.3,1045.4 L575.2,1053.4 L569.2,1061.7 L563.3,1070.3 L557.7,1079.1 L552.3,1088.2 L547.1,1097.5 L542.1,1106.9 L537.4,1116.4 L533.0,1126.0 L528.9,1135.5 L525.2,1145.0 L521.7,1154.5 L518.5,1164.0 L515.5,1173.6 L512.8,1183.2 L510.3,1192.8 L508.0,1202.6 L505.9,1212.4 L504.0,1222.4 L502.1,1232.4 L500.4,1242.7 L498.8,1253.0 L497.4,1263.6 L496.0,1274.4 L494.9,1285.3 L493.8,1296.4 L493.1,1306.4 L492.7,1314.4 L492.7,1320.8 L493.1,1325.7 L494.1,1329.6 L498.5,1340.3 L509.9,1332.7 L513.6,1327.7 L517.9,1323.3 L523.1,1319.9 L529.1,1317.8 L535.3,1317.2 L541.3,1318.3 L546.9,1320.7 L552.2,1324.0 L557.4,1327.7 L562.4,1331.5 L567.3,1335.2 L572.1,1339.0 L576.8,1342.9 L581.4,1346.8 L585.9,1350.9 L590.4,1355.1 L594.8,1359.4 L599.1,1363.9 L603.3,1368.4 L607.3,1373.1 L611.2,1377.9 L614.9,1382.8 L618.5,1387.8 L621.9,1392.9 L625.1,1398.1 L628.2,1403.4 L631.1,1408.7 L633.8,1414.2 L636.5,1419.7 L639.1,1425.3 L641.6,1431.0 L644.0,1436.6 L646.4,1442.4 L648.8,1448.1 L651.1,1453.9 L653.2,1459.8 L655.0,1465.7 L656.5,1471.6 L657.6,1477.6 L658.1,1483.6 L658.1,1489.7 L657.5,1495.9 L656.4,1502.0 L654.8,1508.1 L652.4,1513.9 L649.0,1518.9 L644.5,1522.9 L639.3,1526.2 L633.7,1529.1 L625.0,1531.0 L600.4,1544.6 L567.0,1558.0 L533.5,1565.8 L500.0,1571.0 L470.0,1571.0 L431.2,1560.3 L405.2,1549.5 L380.4,1537.0 L356.9,1522.8 L335.0,1506.7 L314.7,1488.8 L296.4,1469.3 L280.4,1448.2 L266.9,1425.6 L255.9,1402.2 L247.4,1378.6 L241.4,1355.5 L237.9,1333.9 L236.7,1314.2 L236.7,1295.4 L236.6,1276.5 L236.7,1257.3 L237.1,1237.9 L238.1,1218.5 L239.9,1199.0 L242.5,1179.6 L245.8,1160.2 L249.8,1140.9 L254.4,1121.7 L259.5,1102.5 L265.2,1083.5 L271.3,1064.7 L277.7,1046.0 L284.5,1027.4 L291.6,1009.1 L298.9,990.9 L306.4,973.0 L314.2,955.3 L322.4,937.9 L331.1,920.7 L340.3,903.9 L350.2,887.3 L360.8,871.1 L372.2,855.2 L384.4,839.6 L397.3,824.4 L410.7,809.5 L424.8,795.0 L439.3,780.8 L454.2,766.9 L469.4,753.3 L484.7,740.3 L499.9,727.9 L514.6,716.5 L528.8,706.2 L542.3,697.0 L555.3,688.5 L568.1,680.6 L580.8,673.0 L593.7,665.3 L606.7,657.7 L619.8,649.9 L633.1,642.2 L646.5,634.4 L659.9,626.6 L673.5,618.7 L687.1,610.8 L700.8,602.9 L714.5,594.9 L728.3,586.9 L742.1,578.8 L755.9,570.7 L769.7,562.5 L783.5,554.4 L797.3,546.1 L811.0,537.8 L824.7,529.5 L838.3,521.2 L851.9,512.8 L865.5,504.4 L879.0,495.9 L892.5,487.5 L906.0,479.1 L919.4,470.7 L932.9,462.3 L946.3,453.9 L959.7,445.6 L973.2,437.4 L986.6,429.2 L1000.0,421.0 L1013.5,413.0 L1026.9,405.0 L1040.4,397.1 L1053.9,389.3 L1067.5,381.7 L1081.1,374.2 L1094.7,366.7 L1108.4,359.5 L1122.1,352.4 L1135.9,345.4 L1149.8,338.6 L1163.7,332.0 L1177.7,325.6 L1191.7,319.4 L1205.9,313.6 L1220.0,308.0 L1234.3,302.8 L1248.5,298.1 L1262.9,293.8 L1277.2,290.0 L1291.7,286.7 L1306.1,283.9 L1320.7,281.3 L1335.3,278.7 L1350.0,276.0 L1364.8,273.2 L1379.6,270.3 L1394.4,267.5 L1409.1,265.1Z"/></clipPath>
<linearGradient id="gLipT" gradientUnits="userSpaceOnUse" x1="1420" y1="260" x2="1490" y2="545"><stop offset="0" stop-color="#727272"/><stop offset="0.45" stop-color="#626262"/><stop offset="0.8" stop-color="#484848"/><stop offset="1" stop-color="#3a3a3a"/></linearGradient>
<linearGradient id="gLipB" gradientUnits="userSpaceOnUse" x1="530" y1="1320" x2="650" y2="1520"><stop offset="0" stop-color="#6a6a6a"/><stop offset="0.5" stop-color="#747474"/><stop offset="0.85" stop-color="#4a4a4a"/><stop offset="1" stop-color="#383838"/></linearGradient>
<linearGradient id="h131" gradientUnits="userSpaceOnUse" x1="1646.7" y1="212.8" x2="1705.0" y2="519.0"><stop offset="0" stop-color="#484848"/><stop offset="0.1" stop-color="#585858"/><stop offset="0.22" stop-color="#626262"/><stop offset="0.3" stop-color="#707070"/><stop offset="0.36" stop-color="#888888"/><stop offset="0.44" stop-color="#7c7c7c"/><stop offset="0.55" stop-color="#6a6a6a"/><stop offset="0.7" stop-color="#525252"/><stop offset="0.85" stop-color="#383838"/><stop offset="1" stop-color="#202020"/></linearGradient>
<linearGradient id="h132" gradientUnits="userSpaceOnUse" x1="1659.4" y1="210.7" x2="1715.6" y2="516.8"><stop offset="0" stop-color="#484848"/><stop offset="0.1" stop-color="#585858"/><stop offset="0.22" stop-color="#626262"/><stop offset="0.3" stop-color="#707070"/><stop offset="0.36" stop-color="#888888"/><stop offset="0.44" stop-color="#7c7c7c"/><stop offset="0.55" stop-color="#6a6a6a"/><stop offset="0.7" stop-color="#525252"/><stop offset="0.85" stop-color="#383838"/><stop offset="1" stop-color="#202020"/></linearGradient>
<linearGradient id="h133" gradientUnits="userSpaceOnUse" x1="1670.9" y1="208.7" x2="1727.4" y2="514.6"><stop offset="0" stop-color="#484848"/><stop offset="0.1" stop-color="#585858"/><stop offset="0.22" stop-color="#626262"/><stop offset="0.3" stop-color="#707070"/><stop offset="0.36" stop-color="#888888"/><stop offset="0.44" stop-color="#7c7c7c"/><stop offset="0.55" stop-color="#6a6a6a"/><stop offset="0.7" stop-color="#525252"/><stop offset="0.85" stop-color="#383838"/><stop offset="1" stop-color="#202020"/></linearGradient>
<linearGradient id="h134" gradientUnits="userSpaceOnUse" x1="1681.4" y1="206.8" x2="1740.2" y2="512.2"><stop offset="0" stop-color="#484848"/><stop offset="0.1" stop-color="#585858"/><stop offset="0.22" stop-color="#626262"/><stop offset="0.3" stop-color="#707070"/><stop offset="0.36" stop-color="#888888"/><stop offset="0.44" stop-color="#7c7c7c"/><stop offset="0.55" stop-color="#6a6a6a"/><stop offset="0.7" stop-color="#525252"/><stop offset="0.85" stop-color="#383838"/><stop offset="1" stop-color="#202020"/></linearGradient>
<linearGradient id="h135" gradientUnits="userSpaceOnUse" x1="1691.2" y1="205.1" x2="1753.8" y2="509.7"><stop offset="0" stop-color="#474747"/><stop offset="0.1" stop-color="#575757"/><stop offset="0.22" stop-color="#626262"/><stop offset="0.3" stop-color="#707070"/><stop offset="0.36" stop-color="#898989"/><stop offset="0.44" stop-color="#7c7c7c"/><stop offset="0.55" stop-color="#6a6a6a"/><stop offset="0.7" stop-color="#515151"/><stop offset="0.85" stop-color="#373737"/><stop offset="1" stop-color="#202020"/></linearGradient>
<linearGradient id="h136" gradientUnits="userSpaceOnUse" x1="1700.4" y1="203.5" x2="1767.9" y2="507.1"><stop offset="0" stop-color="#474747"/><stop offset="0.1" stop-color="#575757"/><stop offset="0.22" stop-color="#626262"/><stop offset="0.3" stop-color="#707070"/><stop offset="0.36" stop-color="#898989"/><stop offset="0.44" stop-color="#7c7c7c"/><stop offset="0.55" stop-color="#6a6a6a"/><stop offset="0.7" stop-color="#515151"/><stop offset="0.85" stop-color="#373737"/><stop offset="1" stop-color="#202020"/></linearGradient>
<linearGradient id="h137" gradientUnits="userSpaceOnUse" x1="1709.3" y1="201.9" x2="1782.3" y2="504.4"><stop offset="0" stop-color="#464646"/><stop offset="0.1" stop-color="#575757"/><stop offset="0.22" stop-color="#626262"/><stop offset="0.3" stop-color="#717171"/><stop offset="0.36" stop-color="#8a8a8a"/><stop offset="0.44" stop-color="#7c7c7c"/><stop offset="0.55" stop-color="#696969"/><stop offset="0.7" stop-color="#515151"/><stop offset="0.85" stop-color="#373737"/><stop offset="1" stop-color="#1f1f1f"/></linearGradient>
<linearGradient id="h138" gradientUnits="userSpaceOnUse" x1="1718.1" y1="200.3" x2="1796.8" y2="501.5"><stop offset="0" stop-color="#464646"/><stop offset="0.1" stop-color="#575757"/><stop offset="0.22" stop-color="#626262"/><stop offset="0.3" stop-color="#717171"/><stop offset="0.36" stop-color="#8a8a8a"/><stop offset="0.44" stop-color="#7c7c7c"/><stop offset="0.55" stop-color="#696969"/><stop offset="0.7" stop-color="#515151"/><stop offset="0.85" stop-color="#373737"/><stop offset="1" stop-color="#1f1f1f"/></linearGradient>
<linearGradient id="h139" gradientUnits="userSpaceOnUse" x1="1727.0" y1="198.6" x2="1811.1" y2="498.6"><stop offset="0" stop-color="#464646"/><stop offset="0.1" stop-color="#565656"/><stop offset="0.22" stop-color="#626262"/><stop offset="0.3" stop-color="#717171"/><stop offset="0.36" stop-color="#8a8a8a"/><stop offset="0.44" stop-color="#7c7c7c"/><stop offset="0.55" stop-color="#696969"/><stop offset="0.7" stop-color="#505050"/><stop offset="0.85" stop-color="#363636"/><stop offset="1" stop-color="#1f1f1f"/></linearGradient>
<linearGradient id="h140" gradientUnits="userSpaceOnUse" x1="1736.2" y1="196.9" x2="1825.1" y2="495.6"><stop offset="0" stop-color="#454545"/><stop offset="0.1" stop-color="#565656"/><stop offset="0.22" stop-color="#626262"/><stop offset="0.3" stop-color="#717171"/><stop offset="0.36" stop-color="#8b8b8b"/><stop offset="0.44" stop-color="#7c7c7c"/><stop offset="0.55" stop-color="#696969"/><stop offset="0.7" stop-color="#505050"/><stop offset="0.85" stop-color="#363636"/><stop offset="1" stop-color="#1f1f1f"/></linearGradient>
<linearGradient id="h141" gradientUnits="userSpaceOnUse" x1="1746.0" y1="195.0" x2="1838.5" y2="492.4"><stop offset="0" stop-color="#454545"/><stop offset="0.1" stop-color="#565656"/><stop offset="0.22" stop-color="#626262"/><stop offset="0.3" stop-color="#717171"/><stop offset="0.36" stop-color="#8b8b8b"/><stop offset="0.44" stop-color="#7c7c7c"/><stop offset="0.55" stop-color="#696969"/><stop offset="0.7" stop-color="#505050"/><stop offset="0.85" stop-color="#363636"/><stop offset="1" stop-color="#1f1f1f"/></linearGradient>
<linearGradient id="h142" gradientUnits="userSpaceOnUse" x1="1756.4" y1="193.0" x2="1851.2" y2="489.2"><stop offset="0" stop-color="#444444"/><stop offset="0.1" stop-color="#565656"/><stop offset="0.22" stop-color="#626262"/><stop offset="0.3" stop-color="#717171"/><stop offset="0.36" stop-color="#8c8c8c"/><stop offset="0.44" stop-color="#7c7c7c"/><stop offset="0.55" stop-color="#696969"/><stop offset="0.7" stop-color="#505050"/><stop offset="0.85" stop-color="#363636"/><stop offset="1" stop-color="#1f1f1f"/></linearGradient>
<linearGradient id="h143" gradientUnits="userSpaceOnUse" x1="1767.2" y1="190.8" x2="1863.4" y2="485.8"><stop offset="0" stop-color="#444444"/><stop offset="0.1" stop-color="#555555"/><stop offset="0.22" stop-color="#626262"/><stop offset="0.3" stop-color="#717171"/><stop offset="0.36" stop-color="#8c8c8c"/><stop offset="0.44" stop-color="#7c7c7c"/><stop offset="0.55" stop-color="#696969"/><stop offset="0.7" stop-color="#4f4f4f"/><stop offset="0.85" stop-color="#353535"/><stop offset="1" stop-color="#1f1f1f"/></linearGradient>
<linearGradient id="h144" gradientUnits="userSpaceOnUse" x1="1778.4" y1="188.4" x2="1875.2" y2="482.3"><stop offset="0" stop-color="#444444"/><stop offset="0.1" stop-color="#555555"/><stop offset="0.22" stop-color="#626262"/><stop offset="0.3" stop-color="#717171"/><stop offset="0.36" stop-color="#8c8c8c"/><stop offset="0.44" stop-color="#7c7c7c"/><stop offset="0.55" stop-color="#696969"/><stop offset="0.7" stop-color="#4f4f4f"/><stop offset="0.85" stop-color="#353535"/><stop offset="1" stop-color="#1f1f1f"/></linearGradient>
<linearGradient id="h145" gradientUnits="userSpaceOnUse" x1="1789.7" y1="185.9" x2="1886.8" y2="478.8"><stop offset="0" stop-color="#434343"/><stop offset="0.1" stop-color="#555555"/><stop offset="0.22" stop-color="#626262"/><stop offset="0.3" stop-color="#727272"/><stop offset="0.36" stop-color="#8d8d8d"/><stop offset="0.44" stop-color="#7c7c7c"/><stop offset="0.55" stop-color="#686868"/><stop offset="0.7" stop-color="#4f4f4f"/><stop offset="0.85" stop-color="#353535"/><stop offset="1" stop-color="#1e1e1e"/></linearGradient>
<linearGradient id="h146" gradientUnits="userSpaceOnUse" x1="1801.1" y1="183.1" x2="1898.2" y2="475.1"><stop offset="0" stop-color="#434343"/><stop offset="0.1" stop-color="#555555"/><stop offset="0.22" stop-color="#626262"/><stop offset="0.3" stop-color="#727272"/><stop offset="0.36" stop-color="#8d8d8d"/><stop offset="0.44" stop-color="#7c7c7c"/><stop offset="0.55" stop-color="#686868"/><stop offset="0.7" stop-color="#4f4f4f"/><stop offset="0.85" stop-color="#353535"/><stop offset="1" stop-color="#1e1e1e"/></linearGradient>
<linearGradient id="h147" gradientUnits="userSpaceOnUse" x1="1812.4" y1="180.2" x2="1909.6" y2="471.2"><stop offset="0" stop-color="#434343"/><stop offset="0.1" stop-color="#545454"/><stop offset="0.22" stop-color="#626262"/><stop offset="0.3" stop-color="#727272"/><stop offset="0.36" stop-color="#8d8d8d"/><stop offset="0.44" stop-color="#7c7c7c"/><stop offset="0.55" stop-color="#686868"/><stop offset="0.7" stop-color="#4e4e4e"/><stop offset="0.85" stop-color="#343434"/><stop offset="1" stop-color="#1e1e1e"/></linearGradient>
<linearGradient id="h148" gradientUnits="userSpaceOnUse" x1="1823.4" y1="177.0" x2="1921.2" y2="467.3"><stop offset="0" stop-color="#424242"/><stop offset="0.1" stop-color="#545454"/><stop offset="0.22" stop-color="#626262"/><stop offset="0.3" stop-color="#727272"/><stop offset="0.36" stop-color="#8e8e8e"/><stop offset="0.44" stop-color="#7c7c7c"/><stop offset="0.55" stop-color="#686868"/><stop offset="0.7" stop-color="#4e4e4e"/><stop offset="0.85" stop-color="#343434"/><stop offset="1" stop-color="#1e1e1e"/></linearGradient>
<linearGradient id="h149" gradientUnits="userSpaceOnUse" x1="1834.2" y1="173.7" x2="1933.1" y2="463.2"><stop offset="0" stop-color="#424242"/><stop offset="0.1" stop-color="#545454"/><stop offset="0.22" stop-color="#626262"/><stop offset="0.3" stop-color="#727272"/><stop offset="0.36" stop-color="#8e8e8e"/><stop offset="0.44" stop-color="#7c7c7c"/><stop offset="0.55" stop-color="#686868"/><stop offset="0.7" stop-color="#4e4e4e"/><stop offset="0.85" stop-color="#343434"/><stop offset="1" stop-color="#1e1e1e"/></linearGradient>
<linearGradient id="h150" gradientUnits="userSpaceOnUse" x1="1844.5" y1="170.0" x2="1945.2" y2="459.0"><stop offset="0" stop-color="#424242"/><stop offset="0.1" stop-color="#545454"/><stop offset="0.22" stop-color="#626262"/><stop offset="0.3" stop-color="#727272"/><stop offset="0.36" stop-color="#8e8e8e"/><stop offset="0.44" stop-color="#7b7b7b"/><stop offset="0.55" stop-color="#676767"/><stop offset="0.7" stop-color="#4d4d4d"/><stop offset="0.85" stop-color="#333333"/><stop offset="1" stop-color="#1e1e1e"/></linearGradient>
<linearGradient id="h151" gradientUnits="userSpaceOnUse" x1="1854.5" y1="166.0" x2="1957.5" y2="454.7"><stop offset="0" stop-color="#414141"/><stop offset="0.1" stop-color="#535353"/><stop offset="0.22" stop-color="#616161"/><stop offset="0.3" stop-color="#717171"/><stop offset="0.36" stop-color="#8e8e8e"/><stop offset="0.44" stop-color="#7b7b7b"/><stop offset="0.55" stop-color="#666666"/><stop offset="0.7" stop-color="#4d4d4d"/><stop offset="0.85" stop-color="#333333"/><stop offset="1" stop-color="#1d1d1d"/></linearGradient>
<linearGradient id="h152" gradientUnits="userSpaceOnUse" x1="1864.3" y1="161.6" x2="1969.8" y2="450.3"><stop offset="0" stop-color="#414141"/><stop offset="0.1" stop-color="#535353"/><stop offset="0.22" stop-color="#616161"/><stop offset="0.3" stop-color="#717171"/><stop offset="0.36" stop-color="#8f8f8f"/><stop offset="0.44" stop-color="#7a7a7a"/><stop offset="0.55" stop-color="#656565"/><stop offset="0.7" stop-color="#4c4c4c"/><stop offset="0.85" stop-color="#323232"/><stop offset="1" stop-color="#1d1d1d"/></linearGradient>
<linearGradient id="h153" gradientUnits="userSpaceOnUse" x1="1873.8" y1="156.8" x2="1982.1" y2="445.9"><stop offset="0" stop-color="#414141"/><stop offset="0.1" stop-color="#535353"/><stop offset="0.22" stop-color="#616161"/><stop offset="0.3" stop-color="#717171"/><stop offset="0.36" stop-color="#8f8f8f"/><stop offset="0.44" stop-color="#797979"/><stop offset="0.55" stop-color="#656565"/><stop offset="0.7" stop-color="#4b4b4b"/><stop offset="0.85" stop-color="#323232"/><stop offset="1" stop-color="#1d1d1d"/></linearGradient>
<linearGradient id="h154" gradientUnits="userSpaceOnUse" x1="1883.1" y1="151.4" x2="1994.3" y2="441.3"><stop offset="0" stop-color="#404040"/><stop offset="0.1" stop-color="#525252"/><stop offset="0.22" stop-color="#606060"/><stop offset="0.3" stop-color="#707070"/><stop offset="0.36" stop-color="#8f8f8f"/><stop offset="0.44" stop-color="#797979"/><stop offset="0.55" stop-color="#646464"/><stop offset="0.7" stop-color="#4b4b4b"/><stop offset="0.85" stop-color="#323232"/><stop offset="1" stop-color="#1c1c1c"/></linearGradient>
<linearGradient id="h155" gradientUnits="userSpaceOnUse" x1="1892.4" y1="145.4" x2="2006.3" y2="436.8"><stop offset="0" stop-color="#404040"/><stop offset="0.1" stop-color="#525252"/><stop offset="0.22" stop-color="#606060"/><stop offset="0.3" stop-color="#707070"/><stop offset="0.36" stop-color="#8f8f8f"/><stop offset="0.44" stop-color="#787878"/><stop offset="0.55" stop-color="#636363"/><stop offset="0.7" stop-color="#4a4a4a"/><stop offset="0.85" stop-color="#313131"/><stop offset="1" stop-color="#1c1c1c"/></linearGradient>
<linearGradient id="h156" gradientUnits="userSpaceOnUse" x1="1901.6" y1="138.7" x2="2017.9" y2="432.2"><stop offset="0" stop-color="#404040"/><stop offset="0.1" stop-color="#525252"/><stop offset="0.22" stop-color="#606060"/><stop offset="0.3" stop-color="#707070"/><stop offset="0.36" stop-color="#8f8f8f"/><stop offset="0.44" stop-color="#787878"/><stop offset="0.55" stop-color="#636363"/><stop offset="0.7" stop-color="#4a4a4a"/><stop offset="0.85" stop-color="#313131"/><stop offset="1" stop-color="#1c1c1c"/></linearGradient>
<linearGradient id="h157" gradientUnits="userSpaceOnUse" x1="1910.6" y1="131.5" x2="2029.2" y2="427.6"><stop offset="0" stop-color="#404040"/><stop offset="0.1" stop-color="#525252"/><stop offset="0.22" stop-color="#606060"/><stop offset="0.3" stop-color="#707070"/><stop offset="0.36" stop-color="#8f8f8f"/><stop offset="0.44" stop-color="#777777"/><stop offset="0.55" stop-color="#626262"/><stop offset="0.7" stop-color="#494949"/><stop offset="0.85" stop-color="#303030"/><stop offset="1" stop-color="#1c1c1c"/></linearGradient>
<linearGradient id="h158" gradientUnits="userSpaceOnUse" x1="1919.6" y1="123.7" x2="2040.3" y2="422.8"><stop offset="0" stop-color="#3f3f3f"/><stop offset="0.1" stop-color="#515151"/><stop offset="0.22" stop-color="#5f5f5f"/><stop offset="0.3" stop-color="#6f6f6f"/><stop offset="0.36" stop-color="#8f8f8f"/><stop offset="0.44" stop-color="#777777"/><stop offset="0.55" stop-color="#616161"/><stop offset="0.7" stop-color="#494949"/><stop offset="0.85" stop-color="#303030"/><stop offset="1" stop-color="#1b1b1b"/></linearGradient>
<linearGradient id="h159" gradientUnits="userSpaceOnUse" x1="1928.1" y1="115.7" x2="2051.5" y2="417.8"><stop offset="0" stop-color="#3f3f3f"/><stop offset="0.1" stop-color="#515151"/><stop offset="0.22" stop-color="#5f5f5f"/><stop offset="0.3" stop-color="#6f6f6f"/><stop offset="0.36" stop-color="#8f8f8f"/><stop offset="0.44" stop-color="#767676"/><stop offset="0.55" stop-color="#616161"/><stop offset="0.7" stop-color="#484848"/><stop offset="0.85" stop-color="#303030"/><stop offset="1" stop-color="#1b1b1b"/></linearGradient>
<linearGradient id="h160" gradientUnits="userSpaceOnUse" x1="1936.3" y1="107.7" x2="2063.0" y2="412.4"><stop offset="0" stop-color="#3f3f3f"/><stop offset="0.1" stop-color="#515151"/><stop offset="0.22" stop-color="#5f5f5f"/><stop offset="0.3" stop-color="#6f6f6f"/><stop offset="0.36" stop-color="#909090"/><stop offset="0.44" stop-color="#767676"/><stop offset="0.55" stop-color="#606060"/><stop offset="0.7" stop-color="#484848"/><stop offset="0.85" stop-color="#2f2f2f"/><stop offset="1" stop-color="#1b1b1b"/></linearGradient>
<linearGradient id="h161" gradientUnits="userSpaceOnUse" x1="1943.7" y1="99.8" x2="2074.9" y2="406.6"><stop offset="0" stop-color="#3e3e3e"/><stop offset="0.1" stop-color="#505050"/><stop offset="0.22" stop-color="#5e5e5e"/><stop offset="0.3" stop-color="#6e6e6e"/><stop offset="0.36" stop-color="#909090"/><stop offset="0.44" stop-color="#757575"/><stop offset="0.55" stop-color="#5f5f5f"/><stop offset="0.7" stop-color="#474747"/><stop offset="0.85" stop-color="#2f2f2f"/><stop offset="1" stop-color="#1a1a1a"/></linearGradient>
<linearGradient id="h162" gradientUnits="userSpaceOnUse" x1="1950.5" y1="92.3" x2="2087.4" y2="400.1"><stop offset="0" stop-color="#3e3e3e"/><stop offset="0.1" stop-color="#505050"/><stop offset="0.22" stop-color="#5e5e5e"/><stop offset="0.3" stop-color="#6e6e6e"/><stop offset="0.36" stop-color="#909090"/><stop offset="0.44" stop-color="#747474"/><stop offset="0.55" stop-color="#5f5f5f"/><stop offset="0.7" stop-color="#464646"/><stop offset="0.85" stop-color="#2e2e2e"/><stop offset="1" stop-color="#1a1a1a"/></linearGradient>
<linearGradient id="h163" gradientUnits="userSpaceOnUse" x1="1956.3" y1="85.3" x2="2100.8" y2="392.9"><stop offset="0" stop-color="#3e3e3e"/><stop offset="0.1" stop-color="#505050"/><stop offset="0.22" stop-color="#5e5e5e"/><stop offset="0.3" stop-color="#6e6e6e"/><stop offset="0.36" stop-color="#909090"/><stop offset="0.44" stop-color="#747474"/><stop offset="0.55" stop-color="#5e5e5e"/><stop offset="0.7" stop-color="#464646"/><stop offset="0.85" stop-color="#2e2e2e"/><stop offset="1" stop-color="#1a1a1a"/></linearGradient>
<linearGradient id="h164" gradientUnits="userSpaceOnUse" x1="1961.3" y1="79.0" x2="2115.0" y2="385.0"><stop offset="0" stop-color="#3e3e3e"/><stop offset="0.1" stop-color="#505050"/><stop offset="0.22" stop-color="#5e5e5e"/><stop offset="0.3" stop-color="#6e6e6e"/><stop offset="0.36" stop-color="#909090"/><stop offset="0.44" stop-color="#737373"/><stop offset="0.55" stop-color="#5d5d5d"/><stop offset="0.7" stop-color="#454545"/><stop offset="0.85" stop-color="#2d2d2d"/><stop offset="1" stop-color="#191919"/></linearGradient>
<linearGradient id="h165" gradientUnits="userSpaceOnUse" x1="1965.7" y1="73.4" x2="2129.6" y2="376.2"><stop offset="0" stop-color="#3e3e3e"/><stop offset="0.1" stop-color="#4f4f4f"/><stop offset="0.22" stop-color="#5d5d5d"/><stop offset="0.3" stop-color="#6d6d6d"/><stop offset="0.36" stop-color="#8f8f8f"/><stop offset="0.44" stop-color="#727272"/><stop offset="0.55" stop-color="#5c5c5c"/><stop offset="0.7" stop-color="#444444"/><stop offset="0.85" stop-color="#2c2c2c"/><stop offset="1" stop-color="#191919"/></linearGradient>
<linearGradient id="h166" gradientUnits="userSpaceOnUse" x1="1969.7" y1="68.3" x2="2144.1" y2="366.5"><stop offset="0" stop-color="#3e3e3e"/><stop offset="0.1" stop-color="#4f4f4f"/><stop offset="0.22" stop-color="#5d5d5d"/><stop offset="0.3" stop-color="#6d6d6d"/><stop offset="0.36" stop-color="#8f8f8f"/><stop offset="0.44" stop-color="#727272"/><stop offset="0.55" stop-color="#5b5b5b"/><stop offset="0.7" stop-color="#434343"/><stop offset="0.85" stop-color="#2c2c2c"/><stop offset="1" stop-color="#191919"/></linearGradient>
<linearGradient id="h167" gradientUnits="userSpaceOnUse" x1="1973.6" y1="63.6" x2="2157.9" y2="355.9"><stop offset="0" stop-color="#3e3e3e"/><stop offset="0.1" stop-color="#4f4f4f"/><stop offset="0.22" stop-color="#5d5d5d"/><stop offset="0.3" stop-color="#6d6d6d"/><stop offset="0.36" stop-color="#8f8f8f"/><stop offset="0.44" stop-color="#717171"/><stop offset="0.55" stop-color="#5a5a5a"/><stop offset="0.7" stop-color="#424242"/><stop offset="0.85" stop-color="#2b2b2b"/><stop offset="1" stop-color="#181818"/></linearGradient>
<linearGradient id="h168" gradientUnits="userSpaceOnUse" x1="1977.8" y1="59.4" x2="2170.6" y2="344.2"><stop offset="0" stop-color="#3e3e3e"/><stop offset="0.1" stop-color="#4f4f4f"/><stop offset="0.22" stop-color="#5d5d5d"/><stop offset="0.3" stop-color="#6d6d6d"/><stop offset="0.36" stop-color="#8f8f8f"/><stop offset="0.44" stop-color="#707070"/><stop offset="0.55" stop-color="#595959"/><stop offset="0.7" stop-color="#414141"/><stop offset="0.85" stop-color="#2a2a2a"/><stop offset="1" stop-color="#181818"/></linearGradient>
<linearGradient id="h169" gradientUnits="userSpaceOnUse" x1="1982.3" y1="55.7" x2="2182.6" y2="331.6"><stop offset="0" stop-color="#3e3e3e"/><stop offset="0.1" stop-color="#4f4f4f"/><stop offset="0.22" stop-color="#5d5d5d"/><stop offset="0.3" stop-color="#6d6d6d"/><stop offset="0.36" stop-color="#8f8f8f"/><stop offset="0.44" stop-color="#707070"/><stop offset="0.55" stop-color="#585858"/><stop offset="0.7" stop-color="#404040"/><stop offset="0.85" stop-color="#2a2a2a"/><stop offset="1" stop-color="#171717"/></linearGradient>
<linearGradient id="h170" gradientUnits="userSpaceOnUse" x1="1987.5" y1="52.7" x2="2194.4" y2="318.1"><stop offset="0" stop-color="#3e3e3e"/><stop offset="0.1" stop-color="#4e4e4e"/><stop offset="0.22" stop-color="#5c5c5c"/><stop offset="0.3" stop-color="#6c6c6c"/><stop offset="0.36" stop-color="#8e8e8e"/><stop offset="0.44" stop-color="#6f6f6f"/><stop offset="0.55" stop-color="#575757"/><stop offset="0.7" stop-color="#3f3f3f"/><stop offset="0.85" stop-color="#292929"/><stop offset="1" stop-color="#171717"/></linearGradient>
<linearGradient id="h171" gradientUnits="userSpaceOnUse" x1="1993.3" y1="50.7" x2="2206.7" y2="303.8"><stop offset="0" stop-color="#3e3e3e"/><stop offset="0.1" stop-color="#4e4e4e"/><stop offset="0.22" stop-color="#5c5c5c"/><stop offset="0.3" stop-color="#6c6c6c"/><stop offset="0.36" stop-color="#8e8e8e"/><stop offset="0.44" stop-color="#6e6e6e"/><stop offset="0.55" stop-color="#575757"/><stop offset="0.7" stop-color="#3f3f3f"/><stop offset="0.85" stop-color="#282828"/><stop offset="1" stop-color="#161616"/></linearGradient>
<linearGradient id="h172" gradientUnits="userSpaceOnUse" x1="1999.9" y1="49.8" x2="2219.7" y2="288.5"><stop offset="0" stop-color="#3e3e3e"/><stop offset="0.1" stop-color="#4e4e4e"/><stop offset="0.22" stop-color="#5c5c5c"/><stop offset="0.3" stop-color="#6c6c6c"/><stop offset="0.36" stop-color="#8d8d8d"/><stop offset="0.44" stop-color="#6d6d6d"/><stop offset="0.55" stop-color="#555555"/><stop offset="0.7" stop-color="#3d3d3d"/><stop offset="0.85" stop-color="#282828"/><stop offset="1" stop-color="#161616"/></linearGradient>
<linearGradient id="h173" gradientUnits="userSpaceOnUse" x1="2007.2" y1="50.0" x2="2230.7" y2="271.8"><stop offset="0" stop-color="#3e3e3e"/><stop offset="0.1" stop-color="#4d4d4d"/><stop offset="0.22" stop-color="#5b5b5b"/><stop offset="0.3" stop-color="#6b6b6b"/><stop offset="0.36" stop-color="#8c8c8c"/><stop offset="0.44" stop-color="#6c6c6c"/><stop offset="0.55" stop-color="#545454"/><stop offset="0.7" stop-color="#3c3c3c"/><stop offset="0.85" stop-color="#272727"/><stop offset="1" stop-color="#151515"/></linearGradient>
<linearGradient id="h174" gradientUnits="userSpaceOnUse" x1="2014.8" y1="51.3" x2="2233.9" y2="252.4"><stop offset="0" stop-color="#3e3e3e"/><stop offset="0.1" stop-color="#4d4d4d"/><stop offset="0.22" stop-color="#5b5b5b"/><stop offset="0.3" stop-color="#6a6a6a"/><stop offset="0.36" stop-color="#8a8a8a"/><stop offset="0.44" stop-color="#6a6a6a"/><stop offset="0.55" stop-color="#525252"/><stop offset="0.7" stop-color="#3b3b3b"/><stop offset="0.85" stop-color="#262626"/><stop offset="1" stop-color="#151515"/></linearGradient>
<linearGradient id="h175" gradientUnits="userSpaceOnUse" x1="2022.0" y1="53.2" x2="2225.8" y2="230.1"><stop offset="0" stop-color="#3e3e3e"/><stop offset="0.1" stop-color="#4d4d4d"/><stop offset="0.22" stop-color="#5b5b5b"/><stop offset="0.3" stop-color="#696969"/><stop offset="0.36" stop-color="#898989"/><stop offset="0.44" stop-color="#696969"/><stop offset="0.55" stop-color="#515151"/><stop offset="0.7" stop-color="#3a3a3a"/><stop offset="0.85" stop-color="#252525"/><stop offset="1" stop-color="#151515"/></linearGradient>
<linearGradient id="h176" gradientUnits="userSpaceOnUse" x1="2027.3" y1="54.5" x2="2209.6" y2="207.3"><stop offset="0" stop-color="#3e3e3e"/><stop offset="0.1" stop-color="#4c4c4c"/><stop offset="0.22" stop-color="#5a5a5a"/><stop offset="0.3" stop-color="#696969"/><stop offset="0.36" stop-color="#878787"/><stop offset="0.44" stop-color="#676767"/><stop offset="0.55" stop-color="#4f4f4f"/><stop offset="0.7" stop-color="#393939"/><stop offset="0.85" stop-color="#252525"/><stop offset="1" stop-color="#141414"/></linearGradient>
<linearGradient id="h177" gradientUnits="userSpaceOnUse" x1="2029.2" y1="53.8" x2="2192.2" y2="187.3"><stop offset="0" stop-color="#3e3e3e"/><stop offset="0.1" stop-color="#4c4c4c"/><stop offset="0.22" stop-color="#5a5a5a"/><stop offset="0.3" stop-color="#676767"/><stop offset="0.36" stop-color="#858585"/><stop offset="0.44" stop-color="#656565"/><stop offset="0.55" stop-color="#4d4d4d"/><stop offset="0.7" stop-color="#373737"/><stop offset="0.85" stop-color="#242424"/><stop offset="1" stop-color="#141414"/></linearGradient>
<linearGradient id="h178" gradientUnits="userSpaceOnUse" x1="2029.6" y1="52.5" x2="2175.1" y2="169.8"><stop offset="0" stop-color="#3e3e3e"/><stop offset="0.1" stop-color="#4b4b4b"/><stop offset="0.22" stop-color="#595959"/><stop offset="0.3" stop-color="#666666"/><stop offset="0.36" stop-color="#818181"/><stop offset="0.44" stop-color="#636363"/><stop offset="0.55" stop-color="#4b4b4b"/><stop offset="0.7" stop-color="#363636"/><stop offset="0.85" stop-color="#232323"/><stop offset="1" stop-color="#141414"/></linearGradient>
<linearGradient id="h179" gradientUnits="userSpaceOnUse" x1="2034.6" y1="54.9" x2="2153.6" y2="150.2"><stop offset="0" stop-color="#3e3e3e"/><stop offset="0.1" stop-color="#4b4b4b"/><stop offset="0.22" stop-color="#585858"/><stop offset="0.3" stop-color="#646464"/><stop offset="0.36" stop-color="#7d7d7d"/><stop offset="0.44" stop-color="#606060"/><stop offset="0.55" stop-color="#494949"/><stop offset="0.7" stop-color="#343434"/><stop offset="0.85" stop-color="#232323"/><stop offset="1" stop-color="#141414"/></linearGradient>
<linearGradient id="h180" gradientUnits="userSpaceOnUse" x1="2051.3" y1="66.7" x2="2120.9" y2="122.3"><stop offset="0" stop-color="#3e3e3e"/><stop offset="0.1" stop-color="#4a4a4a"/><stop offset="0.22" stop-color="#575757"/><stop offset="0.3" stop-color="#636363"/><stop offset="0.36" stop-color="#7a7a7a"/><stop offset="0.44" stop-color="#5d5d5d"/><stop offset="0.55" stop-color="#474747"/><stop offset="0.7" stop-color="#333333"/><stop offset="0.85" stop-color="#222222"/><stop offset="1" stop-color="#141414"/></linearGradient>
<clipPath id="cpHose"><path d="M1669.0,209.0 L1679.7,207.1 L1690.3,205.2 L1701.0,203.3 L1711.6,201.3 L1722.3,199.4 L1733.0,197.5 L1743.6,195.5 L1754.3,193.5 L1765.0,191.5 L1775.6,189.4 L1786.2,187.1 L1796.8,184.6 L1807.3,181.9 L1817.7,179.0 L1828.0,175.7 L1838.2,172.0 L1848.3,168.0 L1858.3,163.7 L1868.1,159.0 L1877.7,153.9 L1887.1,148.4 L1896.3,142.5 L1905.2,136.3 L1913.8,129.7 L1922.2,122.7 L1930.2,115.3 L1937.8,107.5 L1945.1,99.5 L1952.0,91.0 L1958.4,82.3 L1964.8,73.5 L1971.7,65.2 L1979.9,57.9 L1989.5,52.4 L1999.8,49.5 L2010.7,49.5 L2021.5,51.9 L2031.9,55.8 L2041.6,60.8 L2050.8,66.6 L2059.6,72.8 L2068.3,79.2 L2076.9,85.8 L2085.4,92.5 L2093.9,99.2 L2102.3,106.1 L2110.6,113.0 L2118.9,120.0 L2127.2,127.1 L2135.4,134.2 L2143.6,141.4 L2151.7,148.6 L2159.7,156.0 L2167.6,163.4 L2175.4,170.9 L2183.1,178.5 L2190.6,186.3 L2197.9,194.1 L2205.1,202.1 L2212.0,210.4 L2218.7,218.9 L2225.1,227.8 L2231.2,237.1 L2235.9,247.0 L2237.1,257.5 L2234.4,268.2 L2229.0,277.9 L2222.0,286.2 L2214.2,293.8 L2206.7,301.6 L2199.6,309.8 L2192.7,318.2 L2185.8,326.6 L2178.9,335.0 L2171.7,343.1 L2164.2,350.8 L2156.3,358.0 L2147.8,364.7 L2139.0,370.9 L2129.8,376.8 L2120.4,382.4 L2110.9,387.7 L2101.2,392.8 L2091.5,397.9 L2081.7,402.8 L2072.0,407.7 L2062.2,412.5 L2052.5,417.1 L2042.7,421.7 L2032.8,426.1 L2022.9,430.5 L2012.9,434.6 L2002.9,438.7 L1992.9,442.6 L1982.7,446.3 L1972.5,449.9 L1962.3,453.4 L1952.0,456.8 L1941.7,460.2 L1931.4,463.5 L1921.0,466.8 L1910.7,470.0 L1900.3,473.3 L1890.0,476.6 L1879.6,479.9 L1869.3,483.1 L1858.9,486.3 L1848.6,489.4 L1838.1,492.3 L1827.7,495.1 L1817.2,497.7 L1806.6,500.1 L1796.0,502.4 L1785.4,504.5 L1774.8,506.5 L1764.1,508.5 L1753.4,510.4 L1742.7,512.2 L1732.0,514.0 L1650.0,530.0 L1640.0,205.0Z"/></clipPath>
<linearGradient id="gCol" gradientUnits="userSpaceOnUse" x1="1600" y1="205" x2="1660" y2="535"><stop offset="0" stop-color="#474747"/><stop offset="0.08" stop-color="#545454"/><stop offset="0.25" stop-color="#5e5e5e"/><stop offset="0.33" stop-color="#7c7c7c"/><stop offset="0.38" stop-color="#8c8c8c"/><stop offset="0.46" stop-color="#6a6a6a"/><stop offset="0.6" stop-color="#4c4c4c"/><stop offset="0.8" stop-color="#3a3a3a"/><stop offset="1" stop-color="#2a2a2a"/></linearGradient>
<linearGradient id="gOpen" gradientUnits="userSpaceOnUse" x1="1548" y1="360" x2="1612" y2="372"><stop offset="0" stop-color="#1c1c1c"/><stop offset="0.3" stop-color="#2e2e2e"/><stop offset="0.55" stop-color="#4e4e4e"/><stop offset="0.8" stop-color="#727272"/><stop offset="1" stop-color="#5e5e5e"/></linearGradient>
<linearGradient id="gOpenV" gradientUnits="userSpaceOnUse" x1="1560" y1="215" x2="1600" y2="545"><stop offset="0" stop-color="#111"/><stop offset="0.25" stop-color="#1a1a1a"/><stop offset="0.5" stop-color="#000"/><stop offset="0.75" stop-color="#000"/><stop offset="1" stop-color="#1a1a1a"/></linearGradient>
<linearGradient id="gPortB" gradientUnits="userSpaceOnUse" x1="1830" y1="150" x2="1975" y2="120"><stop offset="0" stop-color="#4a4a4a"/><stop offset="0.35" stop-color="#404040"/><stop offset="0.7" stop-color="#303030"/><stop offset="1" stop-color="#262626"/></linearGradient>
<linearGradient id="gPortI" gradientUnits="userSpaceOnUse" x1="1835" y1="120" x2="1940" y2="95"><stop offset="0" stop-color="#2a2a2a"/><stop offset="0.45" stop-color="#333"/><stop offset="0.55" stop-color="#4a4a4a"/><stop offset="0.62" stop-color="#303030"/><stop offset="1" stop-color="#3a3a3a"/></linearGradient>
<linearGradient id="gPortS" gradientUnits="userSpaceOnUse" x1="1680" y1="215" x2="1750" y2="205"><stop offset="0" stop-color="#4c4c4c"/><stop offset="0.4" stop-color="#424242"/><stop offset="1" stop-color="#2a2a2a"/></linearGradient>
<linearGradient id="gPlate" gradientUnits="userSpaceOnUse" x1="712.5" y1="199.5" x2="719.5" y2="211.5"><stop offset="0" stop-color="#56575a"/><stop offset="0.5" stop-color="#3e3f41"/><stop offset="1" stop-color="#1a1a1a"/></linearGradient>
<linearGradient id="gStud" gradientUnits="userSpaceOnUse" x1="-10" y1="0" x2="10" y2="0"><stop offset="0" stop-color="#5e5852"/><stop offset="0.3" stop-color="#8e867e"/><stop offset="0.5" stop-color="#6c665f"/><stop offset="0.75" stop-color="#7c766e"/><stop offset="1" stop-color="#544e48"/></linearGradient>
<linearGradient id="gRub" gradientUnits="userSpaceOnUse" x1="-30" y1="0" x2="30" y2="0"><stop offset="0" stop-color="#242424"/><stop offset="0.3" stop-color="#3a3a3a"/><stop offset="0.6" stop-color="#303030"/><stop offset="1" stop-color="#1e1e1e"/></linearGradient>
<linearGradient id="gP1" gradientUnits="userSpaceOnUse" x1="1342.3" y1="618.75" x2="1303.0" y2="656.25"><stop offset="0" stop-color="#7a7a7a"/><stop offset="0.12" stop-color="#8e8e8e"/><stop offset="0.5" stop-color="#848484"/><stop offset="0.8" stop-color="#6a6a6a"/><stop offset="0.95" stop-color="#484848"/><stop offset="1" stop-color="#3a3a3a"/></linearGradient>
<linearGradient id="gP2" gradientUnits="userSpaceOnUse" x1="758.75" y1="957.7" x2="720.4" y2="995.2"><stop offset="0" stop-color="#7a7a7a"/><stop offset="0.12" stop-color="#8e8e8e"/><stop offset="0.5" stop-color="#848484"/><stop offset="0.8" stop-color="#6a6a6a"/><stop offset="0.95" stop-color="#484848"/><stop offset="1" stop-color="#3a3a3a"/></linearGradient>
<linearGradient id="gCoup" gradientUnits="userSpaceOnUse" x1="790" y1="1150" x2="925" y2="1385"><stop offset="0" stop-color="#3e3b39"/><stop offset="0.2" stop-color="#4c4846"/><stop offset="0.4" stop-color="#4a4a4a"/><stop offset="0.55" stop-color="#545454"/><stop offset="0.7" stop-color="#444"/><stop offset="0.9" stop-color="#303030"/><stop offset="1" stop-color="#2a2a2a"/></linearGradient>
<linearGradient id="gCoupIn" gradientUnits="userSpaceOnUse" x1="690" y1="1260" x2="830" y2="1330"><stop offset="0" stop-color="#3c3c3c"/><stop offset="0.25" stop-color="#5a5a5a"/><stop offset="0.5" stop-color="#4a4a4a"/><stop offset="1" stop-color="#383838"/></linearGradient>
<clipPath id="cpCoupIn"><path d="M819.0,1431.8 L816.4,1432.9 L813.5,1433.5 L810.2,1433.5 L806.8,1433.0 L803.0,1431.9 L799.1,1430.3 L794.9,1428.1 L790.5,1425.4 L786.0,1422.2 L781.3,1418.5 L776.6,1414.3 L771.7,1409.7 L766.7,1404.6 L761.7,1399.1 L756.7,1393.2 L751.6,1387.0 L746.6,1380.4 L741.7,1373.6 L736.8,1366.5 L732.0,1359.1 L727.4,1351.6 L722.9,1344.0 L718.5,1336.2 L714.4,1328.4 L710.4,1320.5 L706.7,1312.7 L703.3,1304.8 L700.1,1297.1 L697.2,1289.5 L694.6,1282.1 L692.3,1274.8 L690.4,1267.8 L688.7,1261.1 L687.4,1254.7 L686.5,1248.6 L685.9,1242.9 L685.6,1237.5 L685.8,1232.6 L686.2,1228.1 L687.0,1224.2 L688.2,1220.6 L689.7,1217.6 L691.6,1215.2 L693.7,1213.2 L696.2,1211.8 L699.0,1210.9 L702.1,1210.6 L705.5,1210.9 L709.1,1211.7 L712.9,1213.0 L717.0,1214.9 L721.3,1217.4 L725.7,1220.3 L730.3,1223.8 L735.0,1227.7 L739.9,1232.2 L744.8,1237.0 L749.8,1242.3 L754.8,1248.0 L759.9,1254.1 L764.9,1260.5 L769.9,1267.2 L774.8,1274.2 L779.6,1281.4 L784.3,1288.8 L788.9,1296.4 L793.3,1304.1 L797.6,1311.9 L801.6,1319.8 L805.4,1327.6 L809.0,1335.5 L812.3,1343.2 L815.4,1350.9 L818.1,1358.4 L820.6,1365.8 L822.7,1372.9 L824.5,1379.8 L826.0,1386.3 L827.1,1392.6 L827.9,1398.5 L828.3,1404.1 L828.3,1409.2 L828.1,1413.9 L827.4,1418.1 L826.4,1421.9 L825.1,1425.1 L823.4,1427.9 L821.4,1430.1 L819.0,1431.8Z"/></clipPath>
<linearGradient id="gPin" gradientUnits="userSpaceOnUse" x1="0" y1="-10" x2="0" y2="10"><stop offset="0" stop-color="#d9b49a"/><stop offset="0.25" stop-color="#f2e8de"/><stop offset="0.6" stop-color="#c4bcb4"/><stop offset="1" stop-color="#8e857c"/></linearGradient>
<linearGradient id="gBand" gradientUnits="userSpaceOnUse" x1="950" y1="1000" x2="1190" y2="1270"><stop offset="0" stop-color="#202020"/><stop offset="0.3" stop-color="#343434"/><stop offset="0.5" stop-color="#424242"/><stop offset="0.7" stop-color="#303030"/><stop offset="1" stop-color="#1e1e1e"/></linearGradient>
<linearGradient id="gTubeO" gradientUnits="userSpaceOnUse" x1="965" y1="1065" x2="1095" y2="1270"><stop offset="0" stop-color="#242424"/><stop offset="0.2" stop-color="#3a3a3a"/><stop offset="0.35" stop-color="#4c4c4c"/><stop offset="0.5" stop-color="#333"/><stop offset="0.7" stop-color="#3e3e3e"/><stop offset="0.85" stop-color="#2a2a2a"/><stop offset="1" stop-color="#1a1a1a"/></linearGradient>
<linearGradient id="gWall" gradientUnits="userSpaceOnUse" x1="960" y1="1080" x2="1060" y2="1275"><stop offset="0" stop-color="#141414"/><stop offset="0.3" stop-color="#222"/><stop offset="0.55" stop-color="#3c3c3c"/><stop offset="0.75" stop-color="#484848"/><stop offset="0.9" stop-color="#343434"/><stop offset="1" stop-color="#1c1c1c"/></linearGradient>
</defs>
<rect width="2400" height="1600" fill="#fff"/>
<g clip-path="url(#cpPage)">
<g filter="url(#b05)"><path d="M1291.5,566.5 L1342.3,618.8 L1303.0,656.2 L1243.8,597.0Z" fill="url(#gP1)"/><ellipse cx="1322.7" cy="637.5" rx="27.2" ry="14" transform="rotate(-43.7 1322.7 637.5)" fill="#2b2b2b"/><ellipse cx="1322.2" cy="638.3" rx="9.0" ry="7.0" transform="rotate(-43.7 1322.7 637.5)" fill="#8a8a8a"/><ellipse cx="1301.3" cy="594.0" rx="5" ry="2" transform="rotate(-43.7 1301.3 594.0)" fill="#d0d0d0" filter="url(#b1)"/><path d="M711.9,906.8 L758.8,957.7 L720.4,995.2 L668.1,945.3Z" fill="url(#gP2)"/><ellipse cx="739.6" cy="976.5" rx="26.8" ry="14" transform="rotate(-44.4 739.6 976.5)" fill="#2b2b2b"/><ellipse cx="739.1" cy="977.2" rx="8.9" ry="7.0" transform="rotate(-44.4 739.6 976.5)" fill="#8a8a8a"/><ellipse cx="720.8" cy="935.1" rx="5" ry="2" transform="rotate(-44.4 720.8 935.1)" fill="#d0d0d0" filter="url(#b1)"/></g>
<g clip-path="url(#cpTube)"><g filter="url(#b3)" stroke-width="1.2"><path d="M1449.3,247.9 L1508.7,559.2 L1492.6,559.3 L1435.3,248.0Z" fill="url(#m1)" stroke="url(#m1)"/>
<path d="M1435.3,248.0 L1492.6,559.3 L1477.2,560.5 L1421.0,249.1Z" fill="url(#m2)" stroke="url(#m2)"/>
<path d="M1421.0,249.1 L1477.2,560.5 L1462.2,562.4 L1406.5,251.0Z" fill="url(#m3)" stroke="url(#m3)"/>
<path d="M1406.5,251.0 L1462.2,562.4 L1447.6,564.9 L1391.8,253.4Z" fill="url(#m4)" stroke="url(#m4)"/>
<path d="M1391.8,253.4 L1447.6,564.9 L1433.2,567.9 L1377.0,256.1Z" fill="url(#m5)" stroke="url(#m5)"/>
<path d="M1377.0,256.1 L1433.2,567.9 L1418.8,571.1 L1362.2,259.0Z" fill="url(#m6)" stroke="url(#m6)"/>
<path d="M1362.2,259.0 L1418.8,571.1 L1404.3,574.5 L1347.4,261.8Z" fill="url(#m7)" stroke="url(#m7)"/>
<path d="M1347.4,261.8 L1404.3,574.5 L1389.6,577.8 L1332.7,264.5Z" fill="url(#m8)" stroke="url(#m8)"/>
<path d="M1332.7,264.5 L1389.6,577.8 L1374.8,581.1 L1318.1,267.0Z" fill="url(#m9)" stroke="url(#m9)"/>
<path d="M1318.1,267.0 L1374.8,581.1 L1359.9,584.6 L1303.6,269.6Z" fill="url(#m10)" stroke="url(#m10)"/>
<path d="M1303.6,269.6 L1359.9,584.6 L1345.1,588.4 L1289.1,272.3Z" fill="url(#m11)" stroke="url(#m11)"/>
<path d="M1289.1,272.3 L1345.1,588.4 L1330.6,592.7 L1274.7,275.6Z" fill="url(#m12)" stroke="url(#m12)"/>
<path d="M1274.7,275.6 L1330.6,592.7 L1316.5,597.6 L1260.3,279.3Z" fill="url(#m13)" stroke="url(#m13)"/>
<path d="M1260.3,279.3 L1316.5,597.6 L1302.7,603.0 L1246.0,283.6Z" fill="url(#m14)" stroke="url(#m14)"/>
<path d="M1246.0,283.6 L1302.7,603.0 L1289.2,608.8 L1231.6,288.3Z" fill="url(#m15)" stroke="url(#m15)"/>
<path d="M1231.6,288.3 L1289.2,608.8 L1275.9,615.0 L1217.4,293.4Z" fill="url(#m16)" stroke="url(#m16)"/>
<path d="M1217.4,293.4 L1275.9,615.0 L1262.9,621.6 L1203.1,298.9Z" fill="url(#m17)" stroke="url(#m17)"/>
<path d="M1203.1,298.9 L1262.9,621.6 L1250.0,628.4 L1189.0,304.7Z" fill="url(#m18)" stroke="url(#m18)"/>
<path d="M1189.0,304.7 L1250.0,628.4 L1237.3,635.4 L1174.9,310.8Z" fill="url(#m19)" stroke="url(#m19)"/>
<path d="M1174.9,310.8 L1237.3,635.4 L1224.7,642.5 L1160.8,317.2Z" fill="url(#m20)" stroke="url(#m20)"/>
<path d="M1160.8,317.2 L1224.7,642.5 L1212.2,649.7 L1146.8,323.8Z" fill="url(#m21)" stroke="url(#m21)"/>
<path d="M1146.8,323.8 L1212.2,649.7 L1199.7,656.9 L1132.9,330.6Z" fill="url(#m22)" stroke="url(#m22)"/>
<path d="M1132.9,330.6 L1199.7,656.9 L1187.3,664.2 L1119.0,337.5Z" fill="url(#m23)" stroke="url(#m23)"/>
<path d="M1119.0,337.5 L1187.3,664.2 L1174.9,671.5 L1105.2,344.6Z" fill="url(#m24)" stroke="url(#m24)"/>
<path d="M1105.2,344.6 L1174.9,671.5 L1162.6,678.7 L1091.5,351.9Z" fill="url(#m25)" stroke="url(#m25)"/>
<path d="M1091.5,351.9 L1162.6,678.7 L1150.3,686.0 L1077.8,359.3Z" fill="url(#m26)" stroke="url(#m26)"/>
<path d="M1077.8,359.3 L1150.3,686.0 L1138.1,693.3 L1064.1,366.9Z" fill="url(#m27)" stroke="url(#m27)"/>
<path d="M1064.1,366.9 L1138.1,693.3 L1125.9,700.6 L1050.5,374.5Z" fill="url(#m28)" stroke="url(#m28)"/>
<path d="M1050.5,374.5 L1125.9,700.6 L1113.7,707.9 L1036.9,382.3Z" fill="url(#m29)" stroke="url(#m29)"/>
<path d="M1036.9,382.3 L1113.7,707.9 L1101.6,715.2 L1023.4,390.2Z" fill="url(#m30)" stroke="url(#m30)"/>
<path d="M1023.4,390.2 L1101.6,715.2 L1089.5,722.5 L1009.8,398.2Z" fill="url(#m31)" stroke="url(#m31)"/>
<path d="M1009.8,398.2 L1089.5,722.5 L1077.4,729.9 L996.3,406.3Z" fill="url(#m32)" stroke="url(#m32)"/>
<path d="M996.3,406.3 L1077.4,729.9 L1065.4,737.2 L982.8,414.5Z" fill="url(#m33)" stroke="url(#m33)"/>
<path d="M982.8,414.5 L1065.4,737.2 L1053.4,744.4 L969.3,422.7Z" fill="url(#m34)" stroke="url(#m34)"/>
<path d="M969.3,422.7 L1053.4,744.4 L1041.4,751.7 L955.8,431.0Z" fill="url(#m35)" stroke="url(#m35)"/>
<path d="M955.8,431.0 L1041.4,751.7 L1029.5,759.0 L942.3,439.4Z" fill="url(#m36)" stroke="url(#m36)"/>
<path d="M942.3,439.4 L1029.5,759.0 L1017.6,766.2 L928.8,447.8Z" fill="url(#m37)" stroke="url(#m37)"/>
<path d="M928.8,447.8 L1017.6,766.2 L1005.7,773.4 L915.3,456.2Z" fill="url(#m38)" stroke="url(#m38)"/>
<path d="M915.3,456.2 L1005.7,773.4 L993.8,780.6 L901.8,464.7Z" fill="url(#m39)" stroke="url(#m39)"/>
<path d="M901.8,464.7 L993.8,780.6 L981.9,787.8 L888.3,473.2Z" fill="url(#m40)" stroke="url(#m40)"/>
<path d="M888.3,473.2 L981.9,787.8 L970.1,795.0 L874.7,481.7Z" fill="url(#m41)" stroke="url(#m41)"/>
<path d="M874.7,481.7 L970.1,795.0 L958.2,802.1 L861.1,490.2Z" fill="url(#m42)" stroke="url(#m42)"/>
<path d="M861.1,490.2 L958.2,802.1 L946.4,809.2 L847.4,498.6Z" fill="url(#m43)" stroke="url(#m43)"/>
<path d="M847.4,498.6 L946.4,809.2 L934.6,816.2 L833.8,507.1Z" fill="url(#m44)" stroke="url(#m44)"/>
<path d="M833.8,507.1 L934.6,816.2 L922.7,823.2 L820.0,515.5Z" fill="url(#m45)" stroke="url(#m45)"/>
<path d="M820.0,515.5 L922.7,823.2 L910.9,830.2 L806.2,523.9Z" fill="url(#m46)" stroke="url(#m46)"/>
<path d="M806.2,523.9 L910.9,830.2 L899.1,837.1 L792.4,532.3Z" fill="url(#m47)" stroke="url(#m47)"/>
<path d="M792.4,532.3 L899.1,837.1 L887.3,844.0 L778.5,540.6Z" fill="url(#m48)" stroke="url(#m48)"/>
<path d="M778.5,540.6 L887.3,844.0 L875.5,850.9 L764.7,548.8Z" fill="url(#m49)" stroke="url(#m49)"/>
<path d="M764.7,548.8 L875.5,850.9 L863.6,857.8 L750.8,557.0Z" fill="url(#m50)" stroke="url(#m50)"/>
<path d="M750.8,557.0 L863.6,857.8 L851.8,864.7 L736.9,565.2Z" fill="url(#m51)" stroke="url(#m51)"/>
<path d="M736.9,565.2 L851.8,864.7 L839.9,871.7 L723.0,573.3Z" fill="url(#m52)" stroke="url(#m52)"/>
<path d="M723.0,573.3 L839.9,871.7 L828.0,878.7 L709.1,581.4Z" fill="url(#m53)" stroke="url(#m53)"/>
<path d="M709.1,581.4 L828.0,878.7 L816.0,885.7 L695.3,589.4Z" fill="url(#m54)" stroke="url(#m54)"/>
<path d="M695.3,589.4 L816.0,885.7 L804.0,892.8 L681.5,597.4Z" fill="url(#m55)" stroke="url(#m55)"/>
<path d="M681.5,597.4 L804.0,892.8 L792.0,900.0 L667.8,605.3Z" fill="url(#m56)" stroke="url(#m56)"/>
<path d="M667.8,605.3 L792.0,900.0 L779.9,907.3 L654.2,613.2Z" fill="url(#m57)" stroke="url(#m57)"/>
<path d="M654.2,613.2 L779.9,907.3 L767.8,914.7 L640.7,621.1Z" fill="url(#m58)" stroke="url(#m58)"/>
<path d="M640.7,621.1 L767.8,914.7 L755.6,922.2 L627.3,628.9Z" fill="url(#m59)" stroke="url(#m59)"/>
<path d="M627.3,628.9 L755.6,922.2 L743.3,929.9 L614.0,636.6Z" fill="url(#m60)" stroke="url(#m60)"/>
<path d="M614.0,636.6 L743.3,929.9 L730.9,937.7 L600.8,644.3Z" fill="url(#m61)" stroke="url(#m61)"/>
<path d="M600.8,644.3 L730.9,937.7 L718.5,945.6 L587.7,652.0Z" fill="url(#m62)" stroke="url(#m62)"/>
<path d="M587.7,652.0 L718.5,945.6 L706.0,953.8 L574.9,659.6Z" fill="url(#m63)" stroke="url(#m63)"/>
<path d="M574.9,659.6 L706.0,953.8 L693.5,962.1 L562.1,667.2Z" fill="url(#m64)" stroke="url(#m64)"/>
<path d="M562.1,667.2 L693.5,962.1 L681.2,970.4 L549.3,675.1Z" fill="url(#m65)" stroke="url(#m65)"/>
<path d="M549.3,675.1 L681.2,970.4 L669.5,978.6 L536.2,683.5Z" fill="url(#m66)" stroke="url(#m66)"/>
<path d="M536.2,683.5 L669.5,978.6 L658.8,986.6 L522.6,692.8Z" fill="url(#m67)" stroke="url(#m67)"/>
<path d="M522.6,692.8 L658.8,986.6 L649.4,994.1 L508.2,703.3Z" fill="url(#m68)" stroke="url(#m68)"/>
<path d="M508.2,703.3 L649.4,994.1 L641.3,1001.1 L493.1,714.9Z" fill="url(#m69)" stroke="url(#m69)"/>
<path d="M493.1,714.9 L641.3,1001.1 L634.1,1007.8 L477.6,727.5Z" fill="url(#m70)" stroke="url(#m70)"/>
<path d="M477.6,727.5 L634.1,1007.8 L627.6,1014.4 L461.9,740.9Z" fill="url(#m71)" stroke="url(#m71)"/>
<path d="M461.9,740.9 L627.6,1014.4 L621.4,1020.9 L446.2,754.8Z" fill="url(#m72)" stroke="url(#m72)"/>
<path d="M446.2,754.8 L621.4,1020.9 L615.3,1027.5 L430.9,769.0Z" fill="url(#m73)" stroke="url(#m73)"/>
<path d="M430.9,769.0 L615.3,1027.5 L609.2,1034.3 L416.0,783.6Z" fill="url(#m74)" stroke="url(#m74)"/>
<path d="M416.0,783.6 L609.2,1034.3 L603.1,1041.2 L401.6,798.5Z" fill="url(#m75)" stroke="url(#m75)"/>
<path d="M401.6,798.5 L603.1,1041.2 L597.1,1048.3 L387.7,813.8Z" fill="url(#m76)" stroke="url(#m76)"/>
<path d="M387.7,813.8 L597.1,1048.3 L591.1,1055.7 L374.6,829.3Z" fill="url(#m77)" stroke="url(#m77)"/>
<path d="M374.6,829.3 L591.1,1055.7 L585.3,1063.3 L362.1,845.3Z" fill="url(#m78)" stroke="url(#m78)"/>
<path d="M362.1,845.3 L585.3,1063.3 L579.6,1071.2 L350.4,861.5Z" fill="url(#m79)" stroke="url(#m79)"/>
<path d="M350.4,861.5 L579.6,1071.2 L574.0,1079.4 L339.6,878.2Z" fill="url(#m80)" stroke="url(#m80)"/>
<path d="M339.6,878.2 L574.0,1079.4 L568.6,1087.9 L329.5,895.1Z" fill="url(#m81)" stroke="url(#m81)"/>
<path d="M329.5,895.1 L568.6,1087.9 L563.3,1096.6 L320.0,912.3Z" fill="url(#m82)" stroke="url(#m82)"/>
<path d="M320.0,912.3 L563.3,1096.6 L558.3,1105.5 L311.2,929.9Z" fill="url(#m83)" stroke="url(#m83)"/>
<path d="M311.2,929.9 L558.3,1105.5 L553.5,1114.5 L302.8,947.7Z" fill="url(#m84)" stroke="url(#m84)"/>
<path d="M302.8,947.7 L553.5,1114.5 L549.0,1123.6 L294.8,965.8Z" fill="url(#m85)" stroke="url(#m85)"/>
<path d="M294.8,965.8 L549.0,1123.6 L544.7,1132.7 L287.2,984.2Z" fill="url(#m86)" stroke="url(#m86)"/>
<path d="M287.2,984.2 L544.7,1132.7 L540.8,1141.8 L279.7,1002.7Z" fill="url(#m87)" stroke="url(#m87)"/>
<path d="M279.7,1002.7 L540.8,1141.8 L537.2,1150.9 L272.5,1021.5Z" fill="url(#m88)" stroke="url(#m88)"/>
<path d="M272.5,1021.5 L537.2,1150.9 L533.9,1160.0 L265.5,1040.5Z" fill="url(#m89)" stroke="url(#m89)"/>
<path d="M265.5,1040.5 L533.9,1160.0 L530.8,1169.0 L258.9,1059.7Z" fill="url(#m90)" stroke="url(#m90)"/>
<path d="M258.9,1059.7 L530.8,1169.0 L528.0,1178.1 L252.6,1079.0Z" fill="url(#m91)" stroke="url(#m91)"/>
<path d="M252.6,1079.0 L528.0,1178.1 L525.5,1187.2 L246.9,1098.5Z" fill="url(#m92)" stroke="url(#m92)"/>
<path d="M246.9,1098.5 L525.5,1187.2 L523.1,1196.4 L241.6,1118.1Z" fill="url(#m93)" stroke="url(#m93)"/>
<path d="M241.6,1118.1 L523.1,1196.4 L520.9,1205.7 L236.9,1137.8Z" fill="url(#m94)" stroke="url(#m94)"/>
<path d="M236.9,1137.8 L520.9,1205.7 L518.9,1215.0 L232.8,1157.6Z" fill="url(#m95)" stroke="url(#m95)"/>
<path d="M232.8,1157.6 L518.9,1215.0 L517.0,1224.5 L229.4,1177.4Z" fill="url(#m96)" stroke="url(#m96)"/>
<path d="M229.4,1177.4 L517.0,1224.5 L515.2,1234.1 L226.8,1197.3Z" fill="url(#m97)" stroke="url(#m97)"/>
<path d="M226.8,1197.3 L515.2,1234.1 L513.6,1243.9 L225.0,1217.2Z" fill="url(#m98)" stroke="url(#m98)"/>
<path d="M225.0,1217.2 L513.6,1243.9 L511.9,1253.8 L224.0,1237.2Z" fill="url(#m99)" stroke="url(#m99)"/>
<path d="M224.0,1237.2 L511.9,1253.8 L510.4,1263.9 L223.7,1257.0Z" fill="url(#m100)" stroke="url(#m100)"/>
<path d="M223.7,1257.0 L510.4,1263.9 L509.0,1274.3 L223.7,1276.6Z" fill="url(#m101)" stroke="url(#m101)"/>
<path d="M223.7,1276.6 L509.0,1274.3 L507.8,1284.8 L223.8,1295.9Z" fill="url(#m102)" stroke="url(#m102)"/>
<path d="M223.8,1295.9 L507.8,1284.8 L506.7,1295.5 L223.8,1315.0Z" fill="url(#m103)" stroke="url(#m103)"/>
<path d="M223.8,1315.0 L506.7,1295.5 L505.9,1305.0 L225.1,1335.3Z" fill="url(#m104)" stroke="url(#m104)"/>
<path d="M225.1,1335.3 L505.9,1305.0 L505.3,1312.4 L228.8,1357.6Z" fill="url(#m105)" stroke="url(#m105)"/>
<path d="M228.8,1357.6 L505.3,1312.4 L505.0,1317.9 L235.1,1381.5Z" fill="url(#m106)" stroke="url(#m106)"/>
<path d="M235.1,1381.5 L505.0,1317.9 L505.0,1321.9 L244.0,1406.0Z" fill="url(#m107)" stroke="url(#m107)"/>
<path d="M244.0,1406.0 L505.0,1321.9 L505.4,1324.8 L255.5,1430.4Z" fill="url(#m108)" stroke="url(#m108)"/>
<path d="M255.5,1430.4 L505.4,1324.8 L506.3,1327.2 L269.7,1453.9Z" fill="url(#m109)" stroke="url(#m109)"/>
<path d="M269.7,1453.9 L506.3,1327.2 L507.6,1329.1 L286.4,1476.0Z" fill="url(#m110)" stroke="url(#m110)"/>
<path d="M286.4,1476.0 L507.6,1329.1 L509.2,1330.6 L305.5,1496.3Z" fill="url(#m111)" stroke="url(#m111)"/>
<path d="M305.5,1496.3 L509.2,1330.6 L511.0,1331.4 L326.6,1515.0Z" fill="url(#m112)" stroke="url(#m112)"/>
<path d="M326.6,1515.0 L511.0,1331.4 L512.7,1331.4 L349.5,1531.9Z" fill="url(#m113)" stroke="url(#m113)"/>
<path d="M349.5,1531.9 L512.7,1331.4 L514.3,1330.5 L374.0,1546.9Z" fill="url(#m114)" stroke="url(#m114)"/>
<path d="M374.0,1546.9 L514.3,1330.5 L515.7,1328.9 L399.9,1560.0Z" fill="url(#m115)" stroke="url(#m115)"/>
<path d="M399.9,1560.0 L515.7,1328.9 L516.9,1326.8 L427.1,1571.4Z" fill="url(#m116)" stroke="url(#m116)"/>
<path d="M427.1,1571.4 L516.9,1326.8 L517.9,1324.4 L455.4,1580.9Z" fill="url(#m117)" stroke="url(#m117)"/>
<path d="M455.4,1580.9 L517.9,1324.4 L518.7,1321.9 L484.5,1588.4Z" fill="url(#m118)" stroke="url(#m118)"/>
<path d="M484.5,1588.4 L518.7,1321.9 L519.3,1319.6 L513.8,1592.1Z" fill="url(#m119)" stroke="url(#m119)"/>
<path d="M513.8,1592.1 L519.3,1319.6 L519.8,1317.7 L542.4,1590.6Z" fill="url(#m120)" stroke="url(#m120)"/>
<path d="M542.4,1590.6 L519.8,1317.7 L520.3,1316.4 L570.0,1583.5Z" fill="url(#m121)" stroke="url(#m121)"/>
<path d="M570.0,1583.5 L520.3,1316.4 L520.9,1315.0 L596.8,1572.2Z" fill="url(#m122)" stroke="url(#m122)"/>
<path d="M596.8,1572.2 L520.9,1315.0 L521.9,1313.3 L622.8,1558.4Z" fill="url(#m123)" stroke="url(#m123)"/>
<path d="M622.8,1558.4 L521.9,1313.3 L523.4,1311.3 L646.0,1541.8Z" fill="url(#m124)" stroke="url(#m124)"/>
<path d="M646.0,1541.8 L523.4,1311.3 L525.7,1309.7 L663.0,1521.5Z" fill="url(#m125)" stroke="url(#m125)"/>
<path d="M663.0,1521.5 L525.7,1309.7 L528.9,1308.9 L670.5,1496.6Z" fill="url(#m126)" stroke="url(#m126)"/>
<path d="M670.5,1496.6 L528.9,1308.9 L533.2,1309.3 L666.0,1466.5Z" fill="url(#m127)" stroke="url(#m127)"/>
<path d="M666.0,1466.5 L533.2,1309.3 L538.4,1311.3 L652.0,1433.6Z" fill="url(#m128)" stroke="url(#m128)"/>
<path d="M652.0,1433.6 L538.4,1311.3 L544.1,1314.7 L632.8,1401.1Z" fill="url(#m129)" stroke="url(#m129)"/>
<path d="M632.8,1401.1 L544.1,1314.7 L550.1,1319.6 L612.9,1372.5Z" fill="url(#m130)" stroke="url(#m130)"/></g><ellipse cx="1403" cy="386" rx="56" ry="25" transform="rotate(10 1403 386)" fill="#b0b0b0" opacity=".75" filter="url(#b12)"/><ellipse cx="572" cy="1400" rx="22" ry="62" transform="rotate(-27 572 1400)" fill="#767676" opacity=".85" filter="url(#b12)"/><ellipse cx="512" cy="1420" rx="16" ry="75" transform="rotate(-8 512 1420)" fill="#2c2c2c" opacity=".5" filter="url(#b12)"/></g>
<path d="M1416.0,264.0 L1419.3,257.8 L1425.2,254.0 L1431.2,255.8 L1435.8,261.9 L1439.6,268.8 L1443.0,275.3 L1445.9,281.5 L1448.6,287.6 L1451.0,293.8 L1453.4,300.1 L1455.6,306.7 L1457.8,313.4 L1459.9,320.1 L1462.0,326.9 L1464.0,333.7 L1465.9,340.4 L1467.7,347.1 L1469.5,353.9 L1471.2,360.6 L1472.8,367.4 L1474.3,374.2 L1475.8,381.1 L1477.2,387.9 L1478.6,394.8 L1479.9,401.6 L1481.2,408.5 L1482.4,415.4 L1483.6,422.3 L1484.6,429.2 L1485.6,436.1 L1486.4,443.0 L1487.2,450.0 L1487.9,456.9 L1488.5,463.9 L1489.1,470.9 L1489.7,477.8 L1490.2,484.8 L1490.6,491.8 L1491.0,498.7 L1491.3,505.7 L1491.5,512.7 L1491.4,519.7 L1490.9,526.7 L1489.5,533.5 L1487.3,540.2 L1484.1,546.4 L1478.3,550.8 L1471.2,551.1 L1466.0,546.5 L1470.0,547.0 L1472.6,541.3 L1474.8,535.5 L1476.3,529.5 L1477.2,523.4 L1477.5,517.1 L1477.5,510.8 L1477.5,504.5 L1477.5,498.2 L1477.6,492.0 L1477.6,485.8 L1477.7,479.6 L1477.6,473.4 L1477.5,467.2 L1477.2,461.0 L1476.8,454.7 L1476.3,448.5 L1475.7,442.3 L1475.1,436.1 L1474.5,429.9 L1473.8,423.7 L1473.1,417.5 L1472.2,411.4 L1471.3,405.2 L1470.3,399.1 L1469.1,393.0 L1467.9,386.8 L1466.6,380.8 L1465.2,374.7 L1463.8,368.6 L1462.4,362.5 L1461.0,356.5 L1459.6,350.5 L1458.2,344.4 L1456.6,338.4 L1455.0,332.3 L1453.4,326.3 L1451.6,320.2 L1449.7,314.2 L1447.7,308.3 L1445.7,302.5 L1443.5,296.8 L1441.4,291.3 L1439.1,285.7 L1436.7,279.9 L1434.3,273.7 L1431.6,267.2 L1428.0,262.5 L1422.6,261.8 L1416.0,264.0Z" fill="url(#gLipT)"/>
<path d="M1416.0,264.0 L1422.6,261.8 L1428.0,262.5 L1431.6,267.2 L1434.3,273.7 L1436.7,279.9 L1439.1,285.7 L1441.4,291.3 L1443.5,296.8 L1445.7,302.5 L1447.7,308.3 L1449.7,314.2 L1451.6,320.2 L1453.4,326.3 L1455.0,332.3 L1456.6,338.4 L1458.2,344.4 L1459.6,350.5 L1461.0,356.5 L1462.4,362.5 L1463.8,368.6 L1465.2,374.7 L1466.6,380.8 L1467.9,386.8 L1469.1,393.0 L1470.3,399.1 L1471.3,405.2 L1472.2,411.4 L1473.1,417.5 L1473.8,423.7 L1474.5,429.9 L1475.1,436.1 L1475.7,442.3 L1476.3,448.5 L1476.8,454.7 L1477.2,461.0 L1477.5,467.2 L1477.6,473.4 L1477.7,479.6 L1477.6,485.8 L1477.6,492.0 L1477.5,498.2 L1477.5,504.5 L1477.5,510.8 L1477.5,517.1 L1477.2,523.4 L1476.3,529.5 L1474.8,535.5 L1472.6,541.3 L1470.0,547.0" fill="none" stroke="#3e3e3e" stroke-width="2" filter="url(#b05)"/>
<path d="M1446.1,292.2 L1448.4,298.1 L1450.5,304.2 L1452.7,310.4 L1454.7,316.8 L1456.6,323.2 L1458.5,329.6 L1460.3,336.0 L1462.0,342.4 L1463.7,348.8 L1465.3,355.2 L1466.8,361.6 L1468.3,368.0 L1469.7,374.5 L1471.2,380.9 L1472.5,387.4 L1473.8,393.9 L1475.1,400.4 L1476.2,406.9 L1477.3,413.4 L1478.3,419.9 L1479.2,426.5 L1480.0,433.0 L1480.8,439.6 L1481.5,446.2 L1482.1,452.7 L1482.7,459.3 L1483.1,465.9 L1483.6,472.5 L1483.9,479.1 L1484.1,485.7 L1484.3,492.3 L1484.4,498.9 L1484.5,505.5 L1484.5,512.1 L1484.2,518.8" fill="none" stroke="#868686" stroke-width="1.4" opacity=".5" filter="url(#b05)"/>
<path d="M509.9,1332.7 L513.6,1327.7 L517.9,1323.3 L523.1,1319.9 L529.1,1317.8 L535.3,1317.2 L541.3,1318.3 L546.9,1320.7 L552.2,1324.0 L557.4,1327.7 L562.4,1331.5 L567.3,1335.2 L572.1,1339.0 L576.8,1342.9 L581.4,1346.8 L585.9,1350.9 L590.4,1355.1 L594.8,1359.4 L599.1,1363.9 L603.3,1368.4 L607.3,1373.1 L611.2,1377.9 L614.9,1382.8 L618.5,1387.8 L621.9,1392.9 L625.1,1398.1 L628.2,1403.4 L631.1,1408.7 L633.8,1414.2 L636.5,1419.7 L639.1,1425.3 L641.6,1431.0 L644.0,1436.6 L646.4,1442.4 L648.8,1448.1 L651.1,1453.9 L653.2,1459.8 L655.0,1465.7 L656.5,1471.6 L657.6,1477.6 L658.1,1483.6 L658.1,1489.7 L657.5,1495.9 L656.4,1502.0 L654.8,1508.1 L652.4,1513.9 L649.0,1518.9 L644.5,1522.9 L639.3,1526.2 L633.7,1529.1 L632.4,1527.8 L637.0,1524.3 L641.2,1520.5 L644.5,1516.0 L646.9,1510.8 L648.6,1505.2 L649.8,1499.5 L650.6,1493.8 L651.0,1488.1 L650.9,1482.4 L650.3,1476.8 L649.3,1471.2 L647.8,1465.7 L646.1,1460.3 L644.1,1454.9 L641.9,1449.5 L639.6,1444.2 L637.2,1438.9 L634.9,1433.6 L632.4,1428.4 L630.0,1423.2 L627.4,1418.1 L624.8,1413.0 L622.1,1408.1 L619.2,1403.2 L616.2,1398.3 L613.1,1393.6 L609.8,1389.0 L606.3,1384.4 L602.8,1380.0 L599.1,1375.6 L595.3,1371.3 L591.4,1367.1 L587.4,1362.9 L583.4,1358.8 L579.4,1354.8 L575.3,1350.9 L571.1,1347.0 L567.0,1343.1 L562.7,1339.4 L558.3,1335.6 L553.7,1332.0 L549.0,1328.7 L543.9,1326.0 L538.5,1324.3 L532.7,1323.9 L526.9,1324.8 L521.4,1326.8 L516.7,1330.0 L512.5,1333.9Z" fill="url(#gLipB)"/>
<path d="M526.9,1324.8 L532.7,1323.9 L538.5,1324.3 L543.9,1326.0 L549.0,1328.7 L553.7,1332.0 L558.3,1335.6 L562.7,1339.4 L567.0,1343.1 L571.1,1347.0 L575.3,1350.9 L579.4,1354.8 L583.4,1358.8 L587.4,1362.9 L591.4,1367.1 L595.3,1371.3 L599.1,1375.6 L602.8,1380.0 L606.3,1384.4 L609.8,1389.0 L613.1,1393.6 L616.2,1398.3 L619.2,1403.2 L622.1,1408.1 L624.8,1413.0 L627.4,1418.1 L630.0,1423.2 L632.4,1428.4 L634.9,1433.6 L637.2,1438.9 L639.6,1444.2 L641.9,1449.5 L644.1,1454.9 L646.1,1460.3 L647.8,1465.7 L649.3,1471.2 L650.3,1476.8 L650.9,1482.4 L651.0,1488.1 L650.6,1493.8 L649.8,1499.5 L648.6,1505.2 L646.9,1510.8 L644.5,1516.0 L641.2,1520.5 L637.0,1524.3 L632.4,1527.8" fill="none" stroke="#404040" stroke-width="1.6" filter="url(#b05)"/>
<g clip-path="url(#cpHose)"><rect x="1600" y="30" width="660" height="520" fill="#303030"/><g filter="url(#b3)" stroke-width="1.2"><path d="M1637.0,198.7 L1703.0,535.3 L1712.8,533.2 L1650.5,196.4Z" fill="url(#h131)" stroke="url(#h131)"/>
<path d="M1650.5,196.4 L1712.8,533.2 L1724.0,531.0 L1662.6,194.3Z" fill="url(#h132)" stroke="url(#h132)"/>
<path d="M1662.6,194.3 L1724.0,531.0 L1736.4,528.7 L1673.5,192.4Z" fill="url(#h133)" stroke="url(#h133)"/>
<path d="M1673.5,192.4 L1736.4,528.7 L1749.8,526.2 L1683.4,190.7Z" fill="url(#h134)" stroke="url(#h134)"/>
<path d="M1683.4,190.7 L1749.8,526.2 L1764.0,523.6 L1692.6,189.1Z" fill="url(#h135)" stroke="url(#h135)"/>
<path d="M1692.6,189.1 L1764.0,523.6 L1778.6,520.9 L1701.4,187.5Z" fill="url(#h136)" stroke="url(#h136)"/>
<path d="M1701.4,187.5 L1778.6,520.9 L1793.4,518.1 L1709.9,186.0Z" fill="url(#h137)" stroke="url(#h137)"/>
<path d="M1709.9,186.0 L1793.4,518.1 L1808.1,515.1 L1718.4,184.5Z" fill="url(#h138)" stroke="url(#h138)"/>
<path d="M1718.4,184.5 L1808.1,515.1 L1822.6,512.1 L1727.1,182.8Z" fill="url(#h139)" stroke="url(#h139)"/>
<path d="M1727.1,182.8 L1822.6,512.1 L1836.5,508.9 L1736.4,181.1Z" fill="url(#h140)" stroke="url(#h140)"/>
<path d="M1736.4,181.1 L1836.5,508.9 L1849.7,505.7 L1746.4,179.2Z" fill="url(#h141)" stroke="url(#h141)"/>
<path d="M1746.4,179.2 L1849.7,505.7 L1862.2,502.3 L1756.9,177.2Z" fill="url(#h142)" stroke="url(#h142)"/>
<path d="M1756.9,177.2 L1862.2,502.3 L1874.2,498.8 L1767.9,175.0Z" fill="url(#h143)" stroke="url(#h143)"/>
<path d="M1767.9,175.0 L1874.2,498.8 L1885.9,495.3 L1779.1,172.6Z" fill="url(#h144)" stroke="url(#h144)"/>
<path d="M1779.1,172.6 L1885.9,495.3 L1897.3,491.6 L1790.5,170.0Z" fill="url(#h145)" stroke="url(#h145)"/>
<path d="M1790.5,170.0 L1897.3,491.6 L1908.8,487.8 L1801.9,167.2Z" fill="url(#h146)" stroke="url(#h146)"/>
<path d="M1801.9,167.2 L1908.8,487.8 L1920.3,483.8 L1813.1,164.1Z" fill="url(#h147)" stroke="url(#h147)"/>
<path d="M1813.1,164.1 L1920.3,483.8 L1932.0,479.8 L1824.0,160.9Z" fill="url(#h148)" stroke="url(#h148)"/>
<path d="M1824.0,160.9 L1932.0,479.8 L1944.1,475.6 L1834.4,157.4Z" fill="url(#h149)" stroke="url(#h149)"/>
<path d="M1834.4,157.4 L1944.1,475.6 L1956.4,471.3 L1844.5,153.7Z" fill="url(#h150)" stroke="url(#h150)"/>
<path d="M1844.5,153.7 L1956.4,471.3 L1968.9,467.0 L1854.2,149.5Z" fill="url(#h151)" stroke="url(#h151)"/>
<path d="M1854.2,149.5 L1968.9,467.0 L1981.3,462.5 L1863.7,144.9Z" fill="url(#h152)" stroke="url(#h152)"/>
<path d="M1863.7,144.9 L1981.3,462.5 L1993.8,458.1 L1873.0,139.7Z" fill="url(#h153)" stroke="url(#h153)"/>
<path d="M1873.0,139.7 L1993.8,458.1 L2006.0,453.6 L1882.2,134.0Z" fill="url(#h154)" stroke="url(#h154)"/>
<path d="M1882.2,134.0 L2006.0,453.6 L2017.9,449.1 L1891.2,127.6Z" fill="url(#h155)" stroke="url(#h155)"/>
<path d="M1891.2,127.6 L2017.9,449.1 L2029.5,444.7 L1900.3,120.5Z" fill="url(#h156)" stroke="url(#h156)"/>
<path d="M1900.3,120.5 L2029.5,444.7 L2040.8,440.1 L1909.2,112.8Z" fill="url(#h157)" stroke="url(#h157)"/>
<path d="M1909.2,112.8 L2040.8,440.1 L2052.0,435.4 L1917.9,104.7Z" fill="url(#h158)" stroke="url(#h158)"/>
<path d="M1917.9,104.7 L2052.0,435.4 L2063.4,430.4 L1926.1,96.5Z" fill="url(#h159)" stroke="url(#h159)"/>
<path d="M1926.1,96.5 L2063.4,430.4 L2075.2,424.9 L1933.7,88.4Z" fill="url(#h160)" stroke="url(#h160)"/>
<path d="M1933.7,88.4 L2075.2,424.9 L2087.6,418.9 L1940.6,80.5Z" fill="url(#h161)" stroke="url(#h161)"/>
<path d="M1940.6,80.5 L2087.6,418.9 L2100.9,412.1 L1946.6,73.2Z" fill="url(#h162)" stroke="url(#h162)"/>
<path d="M1946.6,73.2 L2100.9,412.1 L2115.2,404.5 L1951.6,66.6Z" fill="url(#h163)" stroke="url(#h163)"/>
<path d="M1951.6,66.6 L2115.2,404.5 L2130.2,396.1 L1955.7,60.8Z" fill="url(#h164)" stroke="url(#h164)"/>
<path d="M1955.7,60.8 L2130.2,396.1 L2145.4,386.6 L1959.3,55.6Z" fill="url(#h165)" stroke="url(#h165)"/>
<path d="M1959.3,55.6 L2145.4,386.6 L2160.2,376.2 L1962.6,51.1Z" fill="url(#h166)" stroke="url(#h166)"/>
<path d="M1962.6,51.1 L2160.2,376.2 L2174.0,364.7 L1966.2,47.0Z" fill="url(#h167)" stroke="url(#h167)"/>
<path d="M1966.2,47.0 L2174.0,364.7 L2186.6,352.2 L1970.1,43.4Z" fill="url(#h168)" stroke="url(#h168)"/>
<path d="M1970.1,43.4 L2186.6,352.2 L2198.6,338.7 L1974.5,40.5Z" fill="url(#h169)" stroke="url(#h169)"/>
<path d="M1974.5,40.5 L2198.6,338.7 L2210.8,324.1 L1979.7,38.5Z" fill="url(#h170)" stroke="url(#h170)"/>
<path d="M1979.7,38.5 L2210.8,324.1 L2223.9,308.7 L1985.5,37.6Z" fill="url(#h171)" stroke="url(#h171)"/>
<path d="M1985.5,37.6 L2223.9,308.7 L2237.5,292.2 L1992.3,38.0Z" fill="url(#h172)" stroke="url(#h172)"/>
<path d="M1992.3,38.0 L2237.5,292.2 L2246.3,273.5 L1999.8,39.8Z" fill="url(#h173)" stroke="url(#h173)"/>
<path d="M1999.8,39.8 L2246.3,273.5 L2243.4,251.3 L2008.0,42.7Z" fill="url(#h174)" stroke="url(#h174)"/>
<path d="M2008.0,42.7 L2243.4,251.3 L2228.5,226.6 L2015.7,46.0Z" fill="url(#h175)" stroke="url(#h175)"/>
<path d="M2015.7,46.0 L2228.5,226.6 L2209.1,203.3 L2020.7,47.7Z" fill="url(#h176)" stroke="url(#h176)"/>
<path d="M2020.7,47.7 L2209.1,203.3 L2191.7,184.6 L2021.5,46.6Z" fill="url(#h177)" stroke="url(#h177)"/>
<path d="M2021.5,46.6 L2191.7,184.6 L2173.1,166.7 L2023.2,46.6Z" fill="url(#h178)" stroke="url(#h178)"/>
<path d="M2023.2,46.6 L2173.1,166.7 L2146.0,143.1 L2034.0,53.8Z" fill="url(#h179)" stroke="url(#h179)"/>
<path d="M2034.0,53.8 L2146.0,143.1 L2102.8,107.1 L2061.7,74.1Z" fill="url(#h180)" stroke="url(#h180)"/></g></g>
<path d="M1548.0,215.7 L1658.0,198.0 L1666.0,202.0 L1671.8,208.7 L1676.5,216.5 L1680.6,224.5 L1684.3,232.6 L1687.7,240.8 L1690.9,249.1 L1693.8,257.5 L1696.7,265.9 L1699.4,274.4 L1702.1,282.9 L1704.5,291.5 L1706.9,300.1 L1709.1,308.8 L1711.1,317.5 L1713.0,326.2 L1714.8,334.9 L1716.5,343.7 L1718.0,352.5 L1719.4,361.3 L1720.8,370.1 L1722.0,378.9 L1723.2,387.8 L1724.2,396.6 L1725.0,405.5 L1725.8,414.5 L1726.4,423.4 L1726.8,432.4 L1727.0,441.3 L1727.1,450.2 L1727.0,459.0 L1726.8,467.8 L1726.4,476.6 L1726.0,485.5 L1725.6,494.5 L1725.2,503.8 L1724.0,512.8 L1720.4,520.6 L1714.0,527.0 L1606.7,546.5 L1606.0,545.6 L1603.6,545.4 L1601.0,544.2 L1598.3,541.9 L1595.5,538.6 L1592.6,534.2 L1589.6,528.9 L1586.5,522.6 L1583.3,515.4 L1580.1,507.3 L1577.0,498.3 L1573.8,488.7 L1570.6,478.3 L1567.6,467.3 L1564.5,455.7 L1561.6,443.7 L1558.8,431.2 L1556.1,418.4 L1553.6,405.4 L1551.2,392.2 L1549.0,378.9 L1547.0,365.6 L1545.2,352.5 L1543.6,339.5 L1542.3,326.8 L1541.2,314.4 L1540.3,302.5 L1539.7,291.1 L1539.3,280.3 L1539.2,270.1 L1539.3,260.6 L1539.7,251.9 L1540.4,244.1 L1541.3,237.1 L1542.4,231.1 L1543.8,226.0 L1545.4,222.0 L1547.2,218.9 L1549.2,217.0 L1551.4,216.0Z" fill="url(#gCol)"/>
<path d="M1680.6,224.5 L1684.3,232.6 L1687.7,240.8 L1690.9,249.1 L1693.8,257.5 L1696.7,265.9 L1699.4,274.4 L1702.1,282.9 L1704.5,291.5 L1706.9,300.1 L1709.1,308.8 L1711.1,317.5 L1713.0,326.2 L1714.8,334.9 L1716.5,343.7 L1718.0,352.5 L1719.4,361.3 L1720.8,370.1 L1722.0,378.9 L1723.2,387.8 L1724.2,396.6 L1725.0,405.5 L1725.8,414.5 L1726.4,423.4 L1726.8,432.4 L1727.0,441.3 L1727.1,450.2 L1727.0,459.0 L1726.8,467.8 L1726.4,476.6 L1726.0,485.5 L1725.6,494.5 L1725.2,503.8" fill="none" stroke="#2a2a2a" stroke-width="1.8" filter="url(#b05)"/>
<path d="M1606.0,545.6 L1603.3,545.3 L1600.5,543.8 L1597.5,541.0 L1594.4,537.0 L1591.1,531.7 L1587.7,525.3 L1584.3,517.7 L1580.8,509.0 L1577.3,499.4 L1573.8,488.8 L1570.4,477.4 L1567.0,465.2 L1563.7,452.4 L1560.5,439.0 L1557.5,425.1 L1554.6,410.9 L1552.0,396.5 L1549.5,381.9 L1547.3,367.3 L1545.3,352.9 L1543.5,338.6 L1542.1,324.7 L1540.9,311.2 L1540.0,298.3 L1539.5,286.0 L1539.2,274.4 L1539.2,263.7 L1539.6,253.9 L1540.2,245.1 L1541.2,237.4 L1542.5,230.8 L1544.0,225.3 L1545.8,221.1 L1547.9,218.1 L1550.2,216.4 L1552.7,216.0 L1555.5,216.9 L1558.4,219.0 L1561.4,222.4 L1564.7,227.1 L1568.0,233.0 L1571.4,240.0 L1574.8,248.1 L1578.3,257.3 L1581.8,267.4 L1585.3,278.4 L1588.7,290.2 L1592.1,302.7 L1595.3,315.9 L1598.4,329.5 L1601.4,343.6 L1604.1,357.9 L1606.7,372.4 L1609.1,387.0 L1611.2,401.5 L1613.0,415.9 L1614.6,430.0 L1616.0,443.7 L1617.0,456.9 L1617.7,469.6 L1618.1,481.5 L1618.2,492.6 L1618.0,502.9 L1617.5,512.2 L1616.7,520.5 L1615.6,527.7 L1614.2,533.7 L1612.5,538.5 L1610.6,542.1 L1608.4,544.5 L1606.0,545.6Z" fill="#2a2a2a"/>
<path d="M1607.3,538.7 L1605.1,538.4 L1602.7,536.9 L1600.1,534.2 L1597.3,530.3 L1594.5,525.2 L1591.5,518.9 L1588.4,511.6 L1585.3,503.3 L1582.2,494.0 L1579.0,483.9 L1575.9,472.9 L1572.8,461.2 L1569.8,448.9 L1566.9,436.0 L1564.0,422.7 L1561.3,409.1 L1558.8,395.3 L1556.5,381.3 L1554.3,367.4 L1552.3,353.5 L1550.6,339.9 L1549.1,326.5 L1547.9,313.6 L1546.9,301.3 L1546.2,289.5 L1545.8,278.5 L1545.6,268.3 L1545.7,258.9 L1546.1,250.5 L1546.8,243.2 L1547.7,236.9 L1548.9,231.7 L1550.4,227.7 L1552.1,224.9 L1554.0,223.3 L1556.2,222.9 L1558.5,223.8 L1561.0,225.9 L1563.7,229.2 L1566.5,233.7 L1569.4,239.4 L1572.4,246.2 L1575.5,254.0 L1578.6,262.8 L1581.8,272.5 L1584.9,283.1 L1588.0,294.5 L1591.1,306.5 L1594.1,319.1 L1597.0,332.2 L1599.7,345.7 L1602.3,359.4 L1604.8,373.3 L1607.1,387.3 L1609.1,401.2 L1611.0,415.0 L1612.6,428.4 L1613.9,441.6 L1615.0,454.2 L1615.9,466.3 L1616.5,477.7 L1616.8,488.3 L1616.8,498.1 L1616.5,507.0 L1616.0,514.9 L1615.2,521.7 L1614.1,527.5 L1612.8,532.1 L1611.2,535.5 L1609.4,537.7 L1607.3,538.7Z" fill="url(#gOpen)"/>
<path d="M1607.3,538.7 L1605.1,538.4 L1602.7,536.9 L1600.1,534.2 L1597.3,530.3 L1594.5,525.2 L1591.5,518.9 L1588.4,511.6 L1585.3,503.3 L1582.2,494.0 L1579.0,483.9 L1575.9,472.9 L1572.8,461.2 L1569.8,448.9 L1566.9,436.0 L1564.0,422.7 L1561.3,409.1 L1558.8,395.3 L1556.5,381.3 L1554.3,367.4 L1552.3,353.5 L1550.6,339.9 L1549.1,326.5 L1547.9,313.6 L1546.9,301.3 L1546.2,289.5 L1545.8,278.5 L1545.6,268.3 L1545.7,258.9 L1546.1,250.5 L1546.8,243.2 L1547.7,236.9 L1548.9,231.7 L1550.4,227.7 L1552.1,224.9 L1554.0,223.3 L1556.2,222.9 L1558.5,223.8 L1561.0,225.9 L1563.7,229.2 L1566.5,233.7 L1569.4,239.4 L1572.4,246.2 L1575.5,254.0 L1578.6,262.8 L1581.8,272.5 L1584.9,283.1 L1588.0,294.5 L1591.1,306.5 L1594.1,319.1 L1597.0,332.2 L1599.7,345.7 L1602.3,359.4 L1604.8,373.3 L1607.1,387.3 L1609.1,401.2 L1611.0,415.0 L1612.6,428.4 L1613.9,441.6 L1615.0,454.2 L1615.9,466.3 L1616.5,477.7 L1616.8,488.3 L1616.8,498.1 L1616.5,507.0 L1616.0,514.9 L1615.2,521.7 L1614.1,527.5 L1612.8,532.1 L1611.2,535.5 L1609.4,537.7 L1607.3,538.7Z" fill="url(#gOpenV)" opacity=".35"/>
<path d="M1823.5,129.0 L1824.7,135.7 L1826.0,142.4 L1827.6,148.9 L1829.6,155.1 L1832.1,161.0 L1835.4,166.6 L1839.4,171.6 L1844.0,176.2 L1849.3,180.3 L1855.0,184.0 L1861.0,187.2 L1867.2,189.9 L1873.6,192.1 L1880.1,193.8 L1886.6,194.9 L1893.1,195.2 L1899.6,194.8 L1906.1,193.7 L1912.4,191.8 L1918.6,189.4 L1924.6,186.5 L1930.5,183.3 L1936.1,179.8 L1941.4,176.0 L1946.5,171.9 L1951.4,167.4 L1955.9,162.6 L1960.1,157.2 L1963.9,151.5 L1967.1,145.4 L1969.5,139.2 L1970.8,132.9 L1970.9,126.7 L1969.8,120.6 L1967.6,114.5 L1964.7,108.6 L1961.1,102.7 L1957.2,96.8 L1953.0,91.0Z" fill="url(#gPortB)"/>
<path d="M1952.3,91.1 L1953.5,97.3 L1953.5,103.7 L1952.4,110.2 L1950.1,116.7 L1946.7,123.1 L1942.2,129.3 L1936.8,135.1 L1930.5,140.4 L1923.5,145.3 L1915.8,149.5 L1907.6,153.0 L1899.1,155.7 L1890.4,157.6 L1881.6,158.7 L1873.0,158.9 L1864.6,158.2 L1856.6,156.6 L1849.2,154.3 L1842.5,151.1 L1836.6,147.2 L1831.6,142.7 L1827.7,137.5 L1824.8,131.9 L1823.0,125.9 L1822.4,119.6 L1822.9,113.1 L1824.6,106.5 L1827.5,100.1 L1831.4,93.8 L1836.4,87.8 L1842.2,82.2 L1848.9,77.1 L1856.3,72.5 L1864.2,68.7 L1872.6,65.6 L1881.2,63.2 L1890.0,61.8 L1898.7,61.1 L1907.3,61.4 L1915.4,62.5 L1923.1,64.4 L1930.2,67.2 L1936.5,70.7 L1942.0,75.0 L1946.5,79.8 L1949.9,85.2 L1952.3,91.1Z" fill="#4b4747"/>
<path d="M1942.8,96.5 L1943.6,101.2 L1943.6,106.1 L1942.5,111.2 L1940.6,116.2 L1937.7,121.2 L1934.0,126.0 L1929.5,130.6 L1924.3,134.8 L1918.4,138.6 L1912.1,142.0 L1905.4,144.8 L1898.4,147.0 L1891.2,148.6 L1884.1,149.6 L1877.0,149.9 L1870.2,149.5 L1863.7,148.4 L1857.7,146.7 L1852.3,144.3 L1847.5,141.4 L1843.5,138.0 L1840.3,134.1 L1838.0,129.8 L1836.7,125.2 L1836.3,120.3 L1836.8,115.3 L1838.3,110.3 L1840.7,105.3 L1844.1,100.4 L1848.2,95.7 L1853.0,91.2 L1858.6,87.2 L1864.7,83.6 L1871.2,80.5 L1878.1,78.0 L1885.2,76.1 L1892.3,74.8 L1899.5,74.2 L1906.4,74.3 L1913.1,75.0 L1919.4,76.4 L1925.1,78.4 L1930.2,81.0 L1934.6,84.2 L1938.2,87.9 L1940.9,92.0 L1942.8,96.5Z" fill="url(#gPortI)"/>
<path d="M1690.0,236.0 L1692.1,237.9 L1694.3,239.7 L1696.5,241.4 L1698.8,243.1 L1701.1,244.5 L1703.6,245.8 L1706.2,246.9 L1709.0,247.7 L1711.8,248.2 L1714.6,248.4 L1717.4,248.4 L1720.2,248.1 L1723.0,247.5 L1725.6,246.7 L1728.2,245.6 L1730.7,244.4 L1733.1,243.0 L1735.6,241.5 L1738.0,240.0" fill="none" stroke="#909090" stroke-width="2.5" filter="url(#b1)"/>
<path d="M1679.0,199.0 L1679.8,202.6 L1680.7,206.1 L1681.6,209.7 L1682.5,213.3 L1683.6,216.9 L1684.7,220.5 L1686.0,224.0 L1687.6,227.3 L1689.6,230.4 L1691.9,233.2 L1694.7,235.7 L1697.7,237.8 L1701.0,239.7 L1704.5,241.2 L1708.1,242.4 L1711.8,243.2 L1715.5,243.6 L1719.1,243.6 L1722.7,243.1 L1726.2,242.1 L1729.5,240.6 L1732.9,238.8 L1736.1,236.6 L1739.3,234.2 L1742.3,231.5 L1745.0,228.6 L1747.1,225.5 L1748.5,222.3 L1749.1,219.0 L1748.6,215.6 L1747.4,212.2 L1745.7,208.8 L1743.6,205.5 L1741.4,202.1 L1739.2,198.8 L1737.3,195.5 L1735.4,192.3 L1733.7,189.2 L1732.0,186.0Z" fill="url(#gPortS)"/>
<path d="M1731.7,186.0 L1732.0,188.4 L1731.9,190.8 L1731.3,193.3 L1730.3,195.8 L1728.8,198.2 L1726.8,200.5 L1724.5,202.7 L1721.9,204.7 L1719.0,206.5 L1715.8,208.0 L1712.5,209.2 L1709.0,210.2 L1705.4,210.8 L1701.9,211.1 L1698.4,211.1 L1695.1,210.7 L1691.9,210.1 L1689.0,209.1 L1686.4,207.8 L1684.1,206.2 L1682.2,204.4 L1680.7,202.4 L1679.7,200.2 L1679.1,197.9 L1679.0,195.4 L1679.3,192.9 L1680.2,190.5 L1681.4,188.0 L1683.1,185.6 L1685.3,183.4 L1687.7,181.3 L1690.5,179.4 L1693.6,177.8 L1696.8,176.4 L1700.3,175.3 L1703.8,174.5 L1707.3,174.0 L1710.9,173.9 L1714.3,174.0 L1717.5,174.6 L1720.6,175.4 L1723.4,176.5 L1725.8,178.0 L1727.9,179.7 L1729.6,181.6 L1730.9,183.7 L1731.7,186.0Z" fill="#4a4646"/>
<path d="M1719.6,189.6 L1719.8,190.8 L1719.7,192.0 L1719.4,193.3 L1718.8,194.5 L1718.0,195.8 L1717.0,196.9 L1715.8,198.0 L1714.4,199.0 L1712.9,199.9 L1711.3,200.7 L1709.5,201.3 L1707.7,201.8 L1705.9,202.2 L1704.1,202.3 L1702.3,202.3 L1700.5,202.2 L1698.9,201.9 L1697.4,201.4 L1696.0,200.7 L1694.9,200.0 L1693.9,199.1 L1693.1,198.1 L1692.6,197.0 L1692.3,195.8 L1692.3,194.6 L1692.5,193.3 L1692.9,192.1 L1693.6,190.9 L1694.5,189.7 L1695.6,188.5 L1696.9,187.5 L1698.3,186.5 L1699.9,185.7 L1701.6,185.0 L1703.4,184.4 L1705.2,184.0 L1707.0,183.7 L1708.9,183.6 L1710.6,183.7 L1712.3,184.0 L1713.9,184.4 L1715.3,184.9 L1716.6,185.6 L1717.7,186.5 L1718.5,187.4 L1719.2,188.5 L1719.6,189.6Z" fill="#2a2a2a"/>
<g><path d="M595.9,288.5Q595.7,284.5 599.2,282.5L827.2,152.0Q828.1,151.5 829.0,151.2L829.6,151.0Q830.6,150.6 831.5,150.2L939.5,90.3Q946.5,86.4 954.3,84.6L958.3,83.6Q969.5,81.0 980.4,84.6L980.7,84.6Q991.4,88.1 998.1,97.0L1000.1,99.6Q1004.9,106.0 1005.7,114.0L1009.4,147.5Q1009.6,149.5 1007.9,150.6L938.1,192.8Q937.2,193.3 937.0,192.3L930.7,166.5Q930.5,165.5 929.6,165.9L912.9,173.2Q912.0,173.6 911.1,174.2L621.7,342.3Q614.0,346.8 606.4,341.9L604.7,340.8Q598.0,336.4 597.6,328.4Z" fill="#131313" /><path d="M830.6,151.5 L946.5,87.2 L969.5,81.9" stroke="#3c3c3c" stroke-width="2" fill="none" filter="url(#b05)"/><path d="M912.0,173.6 L930.5,165.5 L936.1,184.0 L937.2,193.3Z" fill="#4a4038" /><path d="M377.7,366.1Q371.8,358.0 380.4,352.9L766.2,121.3Q774.7,116.1 784.6,117.6L789.8,118.3Q797.8,119.5 803.3,125.3L827.4,150.8Q828.1,151.5 827.2,152.0L598.0,284.1Q596.3,285.1 596.2,283.1L595.9,277.9Q595.4,270.7 588.3,270.7L585.9,270.7Q576.4,270.7 576.4,280.2L576.4,286.8Q576.4,289.8 573.8,291.3L407.3,389.4Q398.7,394.5 392.8,386.4Z" fill="#56575a" /><path d="M596.3,285.1 L828.1,151.5 L820.2,141.4 L596.3,271.0Z" fill="url(#gPlate)" /><path d="M576.4,290.7 L407.7,389.7" stroke="#2c2c2c" stroke-width="1.6" fill="none" filter="url(#b05)"/><path d="M597.4,286.2 L598.0,335.0" stroke="#2e2e2e" stroke-width="3" fill="none" filter="url(#b1)"/><line x1="740.0" y1="162.2" x2="786.2" y2="139.7" stroke="#2a2a2a" stroke-width="14" stroke-linecap="round"/><line x1="740.0" y1="164.5" x2="786.2" y2="142.0" stroke="#fff" stroke-width="12.5" stroke-linecap="round"/><line x1="421.2" y1="351.6" x2="466.1" y2="327.1" stroke="#2a2a2a" stroke-width="14" stroke-linecap="round"/><line x1="421.2" y1="353.9" x2="466.1" y2="329.4" stroke="#fff" stroke-width="12.5" stroke-linecap="round"/><path d="M766.6,210.5 L776.4,204.4 L786.0,199.5 L793.2,196.0 L796.8,208.6 L798.9,226.0 L796.2,227.0 L791.0,213.5 L784.0,207.8 L776.0,208.5 L768.6,213.0Z" fill="#f2f2f2" filter="url(#b05)"/><path d="M615.0,300.0 L624.8,293.9 L634.4,289.0 L641.6,285.5 L645.2,298.1 L647.3,315.5 L644.6,316.5 L639.4,303.0 L632.4,297.3 L624.4,298.0 L617.0,302.5Z" fill="#f2f2f2" filter="url(#b05)"/><path d="M705.5,246.0 L692.2,251.0 L682.0,262.5 L677.2,277.3 L677.4,295.5 L680.8,296.0 L681.5,279.0 L685.5,266.0 L694.0,256.0 L706.0,249.5Z" fill="#e4e4e4" filter="url(#b05)"/><circle cx="826.9" cy="193.1" r="2.8" fill="#3c3c3c" filter="url(#b05)"/><circle cx="700" cy="268.2" r="2.8" fill="#3c3c3c" filter="url(#b05)"/><circle cx="622.1" cy="313.1" r="2.8" fill="#3c3c3c" filter="url(#b05)"/></g>
<g transform="translate(968.4,280.6) rotate(-8.3)" filter="url(#b05)"><path d="M-10,20 L-10,52 Q-10,57 0,57 Q10,57 10,52 L10,20 Z" fill="url(#gStud)"/><path d="M-29,-32 L-29,18 A29,11 0 0 0 29,18 L29,-32 Z" fill="url(#gRub)"/><ellipse cx="0" cy="-33" rx="29" ry="12" fill="#6a6a6a"/><path d="M-29,-39 L-17,-52 L12,-55 L29,-44 L20,-29 L-8,-24 Z" fill="#dfc5ae" stroke="#dfc5ae" stroke-width="3" stroke-linejoin="round"/><path d="M-29,-38 L-8,-23 L20,-28 L29,-43" fill="none" stroke="#b49c88" stroke-width="2.5" stroke-linejoin="round"/><rect x="-10.3" y="-83" width="20.6" height="46" fill="url(#gStud)"/><ellipse cx="0" cy="-37" rx="10.3" ry="4" fill="#6c665f"/><ellipse cx="0" cy="-83" rx="10.3" ry="5.5" fill="#d8bfa8"/></g>
<path d="M605.9,1048.0 L609.9,1049.5 L613.7,1051.2 L617.2,1053.2 L620.3,1055.6 L622.8,1058.5 L624.7,1061.9 L626.2,1065.7 L627.1,1069.8 L627.7,1074.1 L628.0,1078.3 L628.0,1082.5 L627.9,1086.6 L627.9,1090.7 L628.1,1094.6 L628.7,1098.5 L629.7,1102.3 L631.3,1106.1 L633.2,1109.7 L635.6,1113.1 L638.2,1116.3 L641.1,1119.2 L644.1,1121.8 L647.3,1124.3 L650.6,1126.6 L654.0,1128.7 L657.5,1130.9 L660.9,1133.0 L664.4,1135.2 L667.8,1137.6 L670.8,1140.3 L673.5,1143.3 L675.7,1146.8 L677.2,1150.8 L677.7,1155.0 L677.1,1159.0 L674.9,1162.6 L671.5,1165.1 L667.8,1166.2 L664.3,1165.6 L660.9,1163.5 L657.7,1160.6 L654.5,1157.3 L651.3,1154.0 L648.1,1150.9 L644.8,1148.3 L641.4,1145.8 L638.1,1143.6 L634.7,1141.5 L631.4,1139.5 L628.1,1137.5 L624.8,1135.4 L621.5,1133.3 L618.3,1130.9 L615.2,1128.5 L612.2,1125.8 L609.2,1123.0 L606.3,1120.1 L603.6,1117.1 L600.9,1114.0 L598.4,1110.8 L596.0,1107.5 L593.7,1104.1 L591.6,1100.7 L589.7,1097.2 L588.0,1093.5 L586.6,1089.7 L585.4,1085.8 L584.6,1081.6 L584.1,1077.3 L583.9,1073.0 L584.2,1068.7 L585.0,1064.6 L586.3,1060.8 L588.3,1057.5 L590.9,1054.7 L594.2,1052.6 L597.8,1050.8 L601.8,1049.3 L605.9,1048.0Z" fill="#1c1c1c" filter="url(#b05)"/>
<ellipse cx="603.8" cy="1084.1" rx="6" ry="9.5" transform="rotate(-18 603.8 1084.1)" fill="#fff" filter="url(#b05)"/>
<ellipse cx="655.5" cy="1146.2" rx="1.6" ry="3" transform="rotate(-30 655.5 1146.2)" fill="#aaa"/>
<g filter="url(#b05)"><path d="M780.8,1152.5 L783.2,1151.3 L785.8,1150.5 L788.6,1150.1 L791.6,1150.0 L794.7,1150.2 L797.9,1150.8 L801.3,1151.7 L804.8,1152.9 L808.5,1154.5 L812.3,1156.5 L816.1,1158.7 L820.1,1161.3 L824.1,1164.2 L828.2,1167.4 L832.4,1170.9 L836.6,1174.7 L840.9,1178.7 L845.1,1183.0 L849.4,1187.6 L853.7,1192.4 L857.9,1197.4 L862.2,1202.7 L866.4,1208.1 L870.5,1213.7 L874.6,1219.5 L878.6,1225.4 L882.5,1231.5 L886.3,1237.6 L890.0,1243.9 L893.6,1250.3 L897.1,1256.7 L900.4,1263.1 L903.6,1269.6 L906.6,1276.1 L909.4,1282.6 L912.1,1289.0 L914.6,1295.4 L916.9,1301.7 L919.1,1307.9 L921.0,1314.1 L922.7,1320.1 L924.2,1326.0 L925.5,1331.7 L926.5,1337.2 L927.4,1342.6 L928.0,1347.8 L928.4,1352.7 L928.6,1357.5 L928.5,1361.9 L928.2,1366.2 L927.7,1370.1 L927.0,1373.8 L926.0,1377.2 L924.8,1380.3 L923.4,1383.0 L921.8,1385.5 L920.0,1387.6 L918.0,1389.5 L915.8,1390.9 L823.0,1441.8 L820.6,1443.0 L818.0,1443.8 L815.2,1444.2 L812.2,1444.3 L809.1,1444.1 L805.9,1443.5 L802.5,1442.6 L799.0,1441.4 L795.3,1439.8 L791.5,1437.8 L787.7,1435.6 L783.7,1433.0 L779.7,1430.1 L775.6,1426.9 L771.4,1423.4 L767.2,1419.6 L762.9,1415.6 L758.7,1411.3 L754.4,1406.7 L750.1,1401.9 L745.9,1396.9 L741.6,1391.6 L737.4,1386.2 L733.3,1380.6 L729.2,1374.8 L725.2,1368.9 L721.3,1362.8 L717.5,1356.7 L713.8,1350.4 L710.2,1344.0 L706.7,1337.6 L703.4,1331.2 L700.2,1324.7 L697.2,1318.2 L694.4,1311.7 L691.7,1305.3 L689.2,1298.9 L686.9,1292.6 L684.7,1286.4 L682.8,1280.2 L681.1,1274.2 L679.6,1268.3 L678.3,1262.6 L677.3,1257.1 L676.4,1251.7 L675.8,1246.5 L675.4,1241.6 L675.2,1236.8 L675.3,1232.4 L675.6,1228.1 L676.1,1224.2 L676.8,1220.5 L677.8,1217.1 L679.0,1214.0 L680.4,1211.3 L682.0,1208.8 L683.8,1206.7 L685.8,1204.8 L688.0,1203.4Z" fill="url(#gCoup)"/><path d="M823.0,1441.8 L819.7,1443.3 L816.2,1444.1 L812.3,1444.4 L808.2,1444.0 L803.8,1443.0 L799.1,1441.4 L794.2,1439.3 L789.2,1436.5 L784.0,1433.2 L778.6,1429.3 L773.1,1424.9 L767.6,1420.0 L761.9,1414.6 L756.3,1408.7 L750.6,1402.5 L745.0,1395.8 L739.4,1388.7 L733.9,1381.4 L728.5,1373.7 L723.2,1365.8 L718.1,1357.6 L713.2,1349.3 L708.5,1340.9 L704.0,1332.3 L699.8,1323.8 L695.8,1315.2 L692.2,1306.6 L688.9,1298.1 L685.9,1289.8 L683.2,1281.6 L681.0,1273.6 L679.0,1265.9 L677.5,1258.4 L676.4,1251.3 L675.6,1244.5 L675.2,1238.1 L675.3,1232.1 L675.7,1226.6 L676.6,1221.6 L677.8,1217.0 L679.4,1213.0 L681.4,1209.5 L683.8,1206.6 L686.5,1204.3 L689.6,1202.6 L693.0,1201.4 L696.7,1200.9 L700.7,1201.0 L705.0,1201.6 L709.5,1202.9 L714.3,1204.8 L719.3,1207.3 L724.4,1210.3 L729.7,1213.9 L735.1,1218.0 L740.7,1222.7 L746.3,1227.8 L751.9,1233.5 L757.6,1239.5 L763.2,1246.0 L768.8,1252.9 L774.4,1260.1 L779.8,1267.6 L785.2,1275.4 L790.4,1283.5 L795.4,1291.7 L800.2,1300.1 L804.8,1308.6 L809.1,1317.1 L813.2,1325.7 L817.0,1334.3 L820.5,1342.8 L823.7,1351.3 L826.5,1359.5 L829.0,1367.6 L831.1,1375.5 L832.8,1383.1 L834.1,1390.4 L835.1,1397.4 L835.6,1404.0 L835.8,1410.1 L835.5,1415.9 L834.9,1421.2 L833.8,1426.0 L832.4,1430.3 L830.6,1434.0 L828.4,1437.2 L825.9,1439.8 L823.0,1441.8Z" fill="#2b2b2b"/><path d="M819.0,1431.8 L816.4,1432.9 L813.5,1433.5 L810.2,1433.5 L806.8,1433.0 L803.0,1431.9 L799.1,1430.3 L794.9,1428.1 L790.5,1425.4 L786.0,1422.2 L781.3,1418.5 L776.6,1414.3 L771.7,1409.7 L766.7,1404.6 L761.7,1399.1 L756.7,1393.2 L751.6,1387.0 L746.6,1380.4 L741.7,1373.6 L736.8,1366.5 L732.0,1359.1 L727.4,1351.6 L722.9,1344.0 L718.5,1336.2 L714.4,1328.4 L710.4,1320.5 L706.7,1312.7 L703.3,1304.8 L700.1,1297.1 L697.2,1289.5 L694.6,1282.1 L692.3,1274.8 L690.4,1267.8 L688.7,1261.1 L687.4,1254.7 L686.5,1248.6 L685.9,1242.9 L685.6,1237.5 L685.8,1232.6 L686.2,1228.1 L687.0,1224.2 L688.2,1220.6 L689.7,1217.6 L691.6,1215.2 L693.7,1213.2 L696.2,1211.8 L699.0,1210.9 L702.1,1210.6 L705.5,1210.9 L709.1,1211.7 L712.9,1213.0 L717.0,1214.9 L721.3,1217.4 L725.7,1220.3 L730.3,1223.8 L735.0,1227.7 L739.9,1232.2 L744.8,1237.0 L749.8,1242.3 L754.8,1248.0 L759.9,1254.1 L764.9,1260.5 L769.9,1267.2 L774.8,1274.2 L779.6,1281.4 L784.3,1288.8 L788.9,1296.4 L793.3,1304.1 L797.6,1311.9 L801.6,1319.8 L805.4,1327.6 L809.0,1335.5 L812.3,1343.2 L815.4,1350.9 L818.1,1358.4 L820.6,1365.8 L822.7,1372.9 L824.5,1379.8 L826.0,1386.3 L827.1,1392.6 L827.9,1398.5 L828.3,1404.1 L828.3,1409.2 L828.1,1413.9 L827.4,1418.1 L826.4,1421.9 L825.1,1425.1 L823.4,1427.9 L821.4,1430.1 L819.0,1431.8Z" fill="url(#gCoupIn)"/><g clip-path="url(#cpCoupIn)" filter="url(#b1)"><path d="M832.3,1422.6 L829.7,1423.8 L826.8,1424.3 L823.6,1424.3 L820.2,1423.8 L816.6,1422.7 L812.7,1421.1 L808.6,1419.0 L804.3,1416.3 L799.8,1413.1 L795.2,1409.4 L790.5,1405.3 L785.7,1400.7 L780.8,1395.7 L775.9,1390.3 L770.9,1384.5 L766.0,1378.3 L761.0,1371.8 L756.1,1365.1 L751.3,1358.0 L746.6,1350.8 L742.0,1343.4 L737.6,1335.9 L733.3,1328.2 L729.2,1320.5 L725.3,1312.7 L721.7,1304.9 L718.3,1297.2 L715.1,1289.6 L712.3,1282.1 L709.7,1274.8 L707.4,1267.6 L705.5,1260.7 L703.8,1254.1 L702.5,1247.8 L701.6,1241.8 L701.0,1236.1 L700.7,1230.9 L700.8,1226.0 L701.3,1221.6 L702.1,1217.7 L703.2,1214.2 L704.7,1211.3 L706.5,1208.8 L708.6,1206.9 L711.0,1205.5 L713.8,1204.7 L716.8,1204.4 L720.1,1204.7 L723.6,1205.5 L727.4,1206.8 L731.4,1208.7 L735.6,1211.1 L740.0,1214.0 L744.5,1217.5 L749.2,1221.4 L753.9,1225.7 L758.8,1230.6 L763.7,1235.8 L768.7,1241.4 L773.6,1247.4 L778.6,1253.7 L783.5,1260.3 L788.3,1267.2 L793.1,1274.4 L797.8,1281.7 L802.3,1289.2 L806.6,1296.8 L810.8,1304.5 L814.8,1312.2 L818.6,1320.0 L822.1,1327.7 L825.4,1335.4 L828.4,1343.0 L831.1,1350.4 L833.6,1357.6 L835.7,1364.7 L837.5,1371.4 L838.9,1377.9 L840.0,1384.1 L840.8,1389.9 L841.2,1395.4 L841.3,1400.4 L841.0,1405.0 L840.4,1409.2 L839.5,1412.9 L838.2,1416.1 L836.5,1418.8 L834.5,1421.0 L832.3,1422.6Z" fill="none" stroke="#303030" stroke-width="3"/><path d="M844.3,1415.4 L841.7,1416.5 L838.8,1417.1 L835.7,1417.1 L832.3,1416.6 L828.7,1415.5 L824.8,1413.9 L820.7,1411.7 L816.4,1409.1 L812.0,1405.9 L807.4,1402.3 L802.8,1398.1 L798.0,1393.6 L793.1,1388.6 L788.2,1383.1 L783.3,1377.4 L778.3,1371.2 L773.4,1364.8 L768.6,1358.1 L763.8,1351.1 L759.1,1343.9 L754.5,1336.5 L750.1,1329.0 L745.8,1321.3 L741.8,1313.6 L737.9,1305.9 L734.3,1298.2 L730.9,1290.5 L727.7,1282.9 L724.9,1275.5 L722.3,1268.2 L720.0,1261.1 L718.1,1254.2 L716.5,1247.6 L715.2,1241.3 L714.2,1235.3 L713.6,1229.7 L713.4,1224.5 L713.5,1219.7 L713.9,1215.3 L714.7,1211.4 L715.8,1207.9 L717.3,1205.0 L719.1,1202.6 L721.2,1200.7 L723.6,1199.3 L726.3,1198.5 L729.3,1198.2 L732.6,1198.5 L736.1,1199.3 L739.9,1200.6 L743.8,1202.5 L748.0,1204.9 L752.4,1207.8 L756.9,1211.2 L761.5,1215.1 L766.2,1219.4 L771.1,1224.2 L775.9,1229.4 L780.9,1235.0 L785.8,1241.0 L790.7,1247.3 L795.6,1253.9 L800.4,1260.8 L805.2,1267.8 L809.8,1275.1 L814.3,1282.6 L818.7,1290.2 L822.8,1297.8 L826.8,1305.6 L830.6,1313.3 L834.1,1321.0 L837.3,1328.6 L840.3,1336.1 L843.1,1343.5 L845.5,1350.7 L847.6,1357.7 L849.4,1364.5 L850.8,1370.9 L851.9,1377.1 L852.7,1382.9 L853.2,1388.3 L853.2,1393.3 L853.0,1397.9 L852.4,1402.1 L851.4,1405.7 L850.1,1408.9 L848.5,1411.6 L846.5,1413.8 L844.3,1415.4Z" fill="none" stroke="#2a2a2a" stroke-width="6"/><path d="M849.4,1412.3 L846.8,1413.4 L844.0,1414.0 L840.9,1414.0 L837.5,1413.5 L833.8,1412.4 L830.0,1410.8 L825.9,1408.6 L821.7,1406.0 L817.2,1402.8 L812.7,1399.2 L808.0,1395.1 L803.2,1390.5 L798.4,1385.5 L793.5,1380.1 L788.6,1374.3 L783.6,1368.2 L778.7,1361.8 L773.9,1355.1 L769.1,1348.1 L764.4,1340.9 L759.9,1333.5 L755.5,1326.0 L751.2,1318.4 L747.1,1310.7 L743.3,1303.0 L739.6,1295.3 L736.3,1287.7 L733.1,1280.1 L730.3,1272.6 L727.7,1265.4 L725.5,1258.3 L723.5,1251.4 L721.9,1244.8 L720.6,1238.5 L719.7,1232.6 L719.0,1227.0 L718.8,1221.7 L718.9,1216.9 L719.3,1212.6 L720.1,1208.7 L721.2,1205.2 L722.7,1202.3 L724.4,1199.9 L726.6,1198.0 L729.0,1196.6 L731.7,1195.8 L734.7,1195.5 L737.9,1195.8 L741.4,1196.6 L745.2,1197.9 L749.2,1199.8 L753.3,1202.2 L757.7,1205.1 L762.1,1208.5 L766.8,1212.4 L771.5,1216.7 L776.3,1221.5 L781.2,1226.7 L786.1,1232.3 L791.0,1238.3 L795.9,1244.6 L800.8,1251.1 L805.6,1258.0 L810.4,1265.1 L815.0,1272.3 L819.5,1279.8 L823.8,1287.3 L828.0,1295.0 L831.9,1302.7 L835.7,1310.4 L839.2,1318.1 L842.5,1325.7 L845.5,1333.2 L848.2,1340.6 L850.6,1347.8 L852.7,1354.8 L854.5,1361.5 L855.9,1367.9 L857.0,1374.1 L857.8,1379.9 L858.3,1385.3 L858.3,1390.3 L858.1,1394.9 L857.5,1399.0 L856.5,1402.7 L855.2,1405.9 L853.6,1408.5 L851.7,1410.7 L849.4,1412.3Z" fill="none" stroke="#7a7a7a" stroke-width="1.5"/><path d="M863.1,1404.1 L860.6,1405.2 L857.7,1405.7 L854.6,1405.7 L851.3,1405.2 L847.7,1404.1 L843.8,1402.5 L839.8,1400.4 L835.6,1397.7 L831.2,1394.6 L826.7,1391.0 L822.0,1386.9 L817.3,1382.3 L812.4,1377.3 L807.6,1372.0 L802.7,1366.2 L797.8,1360.1 L792.9,1353.7 L788.1,1347.0 L783.3,1340.1 L778.7,1333.0 L774.1,1325.6 L769.8,1318.2 L765.5,1310.6 L761.5,1302.9 L757.6,1295.3 L754.0,1287.6 L750.7,1280.0 L747.5,1272.5 L744.7,1265.1 L742.1,1257.8 L739.9,1250.8 L738.0,1243.9 L736.3,1237.4 L735.0,1231.1 L734.1,1225.2 L733.5,1219.6 L733.2,1214.4 L733.3,1209.7 L733.7,1205.3 L734.5,1201.5 L735.6,1198.1 L737.1,1195.1 L738.8,1192.7 L740.9,1190.9 L743.3,1189.5 L746.0,1188.7 L749.0,1188.4 L752.2,1188.7 L755.7,1189.5 L759.4,1190.8 L763.3,1192.7 L767.5,1195.1 L771.8,1198.0 L776.2,1201.4 L780.8,1205.2 L785.5,1209.6 L790.3,1214.3 L795.2,1219.5 L800.1,1225.1 L805.0,1231.0 L809.8,1237.2 L814.7,1243.8 L819.5,1250.6 L824.2,1257.6 L828.8,1264.9 L833.3,1272.3 L837.6,1279.8 L841.7,1287.4 L845.6,1295.1 L849.4,1302.7 L852.9,1310.4 L856.1,1318.0 L859.1,1325.4 L861.8,1332.8 L864.2,1339.9 L866.3,1346.9 L868.1,1353.6 L869.5,1360.0 L870.7,1366.1 L871.4,1371.8 L871.9,1377.2 L872.0,1382.2 L871.7,1386.7 L871.1,1390.8 L870.2,1394.5 L868.9,1397.7 L867.3,1400.3 L865.4,1402.5 L863.1,1404.1Z" fill="none" stroke="#2e2e2e" stroke-width="5"/><path d="M868.3,1401.0 L865.7,1402.1 L862.9,1402.6 L859.8,1402.6 L856.5,1402.1 L852.9,1401.0 L849.0,1399.4 L845.0,1397.3 L840.8,1394.6 L836.4,1391.5 L831.9,1387.9 L827.3,1383.8 L822.5,1379.2 L817.7,1374.3 L812.9,1368.9 L808.0,1363.2 L803.1,1357.1 L798.2,1350.7 L793.4,1344.0 L788.7,1337.1 L784.0,1330.0 L779.5,1322.7 L775.1,1315.2 L770.9,1307.7 L766.9,1300.0 L763.0,1292.4 L759.4,1284.7 L756.1,1277.1 L752.9,1269.6 L750.1,1262.2 L747.6,1255.0 L745.3,1248.0 L743.4,1241.2 L741.8,1234.6 L740.5,1228.4 L739.5,1222.4 L738.9,1216.9 L738.6,1211.7 L738.7,1207.0 L739.1,1202.6 L739.9,1198.7 L741.0,1195.4 L742.4,1192.4 L744.2,1190.1 L746.3,1188.2 L748.7,1186.8 L751.4,1186.0 L754.3,1185.7 L757.5,1186.0 L761.0,1186.8 L764.7,1188.1 L768.7,1190.0 L772.8,1192.4 L777.1,1195.3 L781.5,1198.7 L786.1,1202.5 L790.8,1206.9 L795.6,1211.6 L800.4,1216.8 L805.3,1222.3 L810.2,1228.2 L815.1,1234.5 L819.9,1241.0 L824.7,1247.8 L829.4,1254.8 L834.0,1262.1 L838.4,1269.5 L842.7,1277.0 L846.9,1284.6 L850.8,1292.2 L854.5,1299.9 L858.0,1307.5 L861.2,1315.1 L864.2,1322.5 L866.9,1329.8 L869.3,1337.0 L871.4,1343.9 L873.2,1350.6 L874.6,1357.0 L875.8,1363.1 L876.5,1368.8 L877.0,1374.2 L877.1,1379.1 L876.8,1383.7 L876.2,1387.8 L875.3,1391.4 L874.0,1394.6 L872.4,1397.2 L870.5,1399.4 L868.3,1401.0Z" fill="none" stroke="#8a8a8a" stroke-width="1.5"/><path d="M885.4,1390.7 L882.9,1391.7 L880.1,1392.3 L877.0,1392.3 L873.7,1391.7 L870.1,1390.7 L866.3,1389.1 L862.4,1387.0 L858.2,1384.3 L853.8,1381.2 L849.4,1377.6 L844.8,1373.5 L840.1,1369.0 L835.3,1364.1 L830.5,1358.7 L825.6,1353.0 L820.8,1347.0 L815.9,1340.7 L811.2,1334.0 L806.5,1327.1 L801.8,1320.1 L797.4,1312.8 L793.0,1305.4 L788.8,1297.9 L784.8,1290.3 L781.0,1282.7 L777.4,1275.1 L774.0,1267.6 L771.0,1260.1 L768.1,1252.8 L765.6,1245.6 L763.4,1238.6 L761.4,1231.8 L759.8,1225.3 L758.5,1219.1 L757.6,1213.3 L757.0,1207.7 L756.7,1202.6 L756.8,1197.9 L757.2,1193.6 L757.9,1189.7 L759.0,1186.4 L760.4,1183.5 L762.2,1181.1 L764.2,1179.2 L766.6,1177.9 L769.2,1177.1 L772.2,1176.8 L775.4,1177.1 L778.8,1177.9 L782.5,1179.2 L786.4,1181.1 L790.5,1183.5 L794.8,1186.4 L799.2,1189.7 L803.7,1193.6 L808.4,1197.9 L813.1,1202.6 L817.9,1207.7 L822.7,1213.2 L827.6,1219.1 L832.4,1225.3 L837.2,1231.8 L842.0,1238.6 L846.6,1245.6 L851.2,1252.7 L855.6,1260.1 L859.9,1267.5 L864.0,1275.1 L867.9,1282.7 L871.6,1290.3 L875.1,1297.9 L878.3,1305.4 L881.3,1312.8 L884.0,1320.0 L886.3,1327.1 L888.4,1334.0 L890.2,1340.6 L891.6,1347.0 L892.8,1353.0 L893.5,1358.7 L894.0,1364.1 L894.1,1369.0 L893.9,1373.5 L893.3,1377.6 L892.4,1381.2 L891.1,1384.3 L889.5,1386.9 L887.6,1389.1 L885.4,1390.7Z" fill="none" stroke="#343434" stroke-width="4"/><path d="M900.8,1381.4 L898.3,1382.4 L895.6,1383.0 L892.5,1383.0 L889.2,1382.4 L885.7,1381.4 L881.9,1379.8 L878.0,1377.7 L873.8,1375.0 L869.5,1371.9 L865.1,1368.3 L860.5,1364.3 L855.8,1359.8 L851.1,1354.9 L846.3,1349.6 L841.5,1343.9 L836.7,1337.9 L831.9,1331.6 L827.1,1325.0 L822.5,1318.2 L817.9,1311.1 L813.4,1303.9 L809.1,1296.5 L804.9,1289.1 L800.9,1281.5 L797.1,1274.0 L793.6,1266.4 L790.2,1258.9 L787.2,1251.5 L784.4,1244.2 L781.8,1237.1 L779.6,1230.1 L777.7,1223.4 L776.1,1217.0 L774.8,1210.8 L773.8,1205.0 L773.2,1199.5 L772.9,1194.4 L773.0,1189.7 L773.4,1185.4 L774.1,1181.6 L775.2,1178.3 L776.6,1175.4 L778.3,1173.1 L780.4,1171.2 L782.7,1169.9 L785.3,1169.1 L788.3,1168.8 L791.4,1169.1 L794.8,1169.9 L798.5,1171.2 L802.4,1173.1 L806.4,1175.4 L810.6,1178.3 L815.0,1181.7 L819.5,1185.5 L824.2,1189.8 L828.9,1194.5 L833.6,1199.6 L838.4,1205.1 L843.3,1210.9 L848.1,1217.1 L852.8,1223.5 L857.5,1230.2 L862.2,1237.2 L866.7,1244.3 L871.1,1251.6 L875.4,1259.0 L879.4,1266.5 L883.3,1274.1 L887.0,1281.7 L890.5,1289.2 L893.7,1296.7 L896.6,1304.0 L899.3,1311.2 L901.7,1318.3 L903.7,1325.1 L905.5,1331.7 L907.0,1338.0 L908.1,1344.0 L908.9,1349.7 L909.3,1355.0 L909.4,1359.9 L909.2,1364.4 L908.6,1368.4 L907.7,1372.0 L906.5,1375.1 L904.9,1377.7 L903.0,1379.8 L900.8,1381.4Z" fill="none" stroke="#2c2c2c" stroke-width="12"/><ellipse cx="790" cy="1405" rx="18" ry="60" transform="rotate(-62 790 1405)" fill="#707070" opacity=".7" filter="url(#b6)"/><ellipse cx="741" cy="1366" rx="8" ry="36" transform="rotate(-36 741 1366)" fill="#a8a8a8" opacity=".8" filter="url(#b3)"/></g></g>
<g filter="url(#b05)"><g transform="translate(1204.5,1229.6) rotate(-27)"><rect x="-21" y="-10" width="42" height="20" rx="7" fill="url(#gPin)"/></g><g transform="translate(1002.9,1002.9) rotate(-27)"><rect x="-13" y="-8" width="26" height="16" rx="5" fill="url(#gPin)"/></g><path d="M931.4,1018.8 L932.9,1013.5 L935.0,1008.6 L938.3,1004.7 L942.8,1001.9 L948.0,1000.0 L953.4,999.0 L958.8,998.6 L964.1,998.8 L969.3,999.4 L974.6,1000.3 L979.8,1001.5 L985.0,1002.8 L990.2,1004.2 L995.4,1005.4 L1000.6,1006.5 L1005.9,1007.6 L1011.1,1008.7 L1016.2,1009.9 L1021.4,1011.2 L1026.4,1012.6 L1031.4,1014.3 L1036.3,1016.3 L1041.1,1018.6 L1045.7,1021.1 L1050.3,1023.8 L1054.8,1026.8 L1059.1,1030.0 L1063.3,1033.4 L1067.4,1036.9 L1071.3,1040.6 L1075.1,1044.4 L1078.8,1048.3 L1082.3,1052.3 L1085.7,1056.4 L1088.9,1060.6 L1092.1,1064.8 L1095.2,1069.1 L1098.3,1073.5 L1101.3,1077.8 L1104.3,1082.2 L1107.3,1086.6 L1110.3,1090.9 L1113.3,1095.3 L1116.3,1099.7 L1119.3,1104.1 L1122.2,1108.6 L1125.0,1113.0 L1127.8,1117.6 L1130.5,1122.1 L1133.1,1126.7 L1135.6,1131.4 L1138.0,1136.1 L1140.4,1140.9 L1142.7,1145.6 L1145.0,1150.4 L1147.4,1155.2 L1149.7,1160.0 L1152.1,1164.7 L1154.5,1169.4 L1156.9,1174.1 L1159.4,1178.8 L1161.9,1183.5 L1164.4,1188.2 L1166.9,1192.9 L1169.3,1197.6 L1171.8,1202.3 L1174.2,1207.0 L1176.6,1211.7 L1179.0,1216.4 L1181.4,1221.2 L1183.7,1226.0 L1185.9,1230.8 L1188.2,1235.6 L1190.3,1240.4 L1192.3,1245.3 L1194.2,1250.3 L1195.9,1255.4 L1197.2,1260.5 L1197.8,1265.8 L1197.5,1271.2 L1196.0,1276.5 L1193.2,1281.0 L1189.1,1284.4 L1184.1,1286.5 L1178.8,1287.3 L1173.5,1287.0 L1168.2,1286.0 L1163.0,1284.6 L1157.9,1283.1 L1152.8,1281.4 L1147.8,1279.8 L1142.8,1278.1 L1137.8,1276.6 L1132.7,1275.1 L1127.6,1273.8 L1122.4,1272.6 L1117.1,1271.8 L1111.6,1271.2 L1106.2,1270.6 L1100.9,1269.9 L1095.9,1268.7 L1091.2,1266.8 L1087.0,1264.2 L1083.1,1261.0 L1079.6,1257.2 L1076.2,1253.1 L1073.0,1248.6 L1069.8,1243.9 L1066.7,1239.2 L1063.4,1234.6 L1060.1,1230.1 L1056.6,1225.9 L1052.8,1222.0 L1049.0,1218.2 L1044.9,1214.7 L1040.8,1211.3 L1036.6,1208.0 L1032.3,1204.9 L1028.0,1201.8 L1023.7,1198.7 L1019.4,1195.7 L1015.2,1192.5 L1011.0,1189.4 L1006.9,1186.1 L1002.9,1182.7 L999.1,1179.1 L995.4,1175.3 L991.8,1171.4 L988.5,1167.3 L985.3,1163.0 L982.2,1158.6 L979.4,1154.1 L976.7,1149.4 L974.2,1144.6 L971.8,1139.7 L969.7,1134.7 L967.7,1129.6 L965.9,1124.5 L964.3,1119.3 L962.8,1114.0 L961.6,1108.7 L960.6,1103.3 L959.7,1097.9 L959.0,1092.6 L958.3,1087.2 L957.4,1082.0 L956.3,1076.8 L954.7,1071.9 L952.6,1067.1 L950.0,1062.5 L947.2,1058.0 L944.3,1053.5 L941.5,1048.9 L939.1,1044.2 L937.1,1039.3 L935.4,1034.3 L933.9,1029.2 L932.6,1024.0 L931.4,1018.8Z" fill="#1b1b1b"/><path d="M950.8,999.4 L960.4,1000.5 L969.9,1001.6 L979.5,1002.8 L989.1,1004.1 L998.7,1005.6 L1008.2,1007.5 L1017.6,1009.7 L1026.8,1012.6 L1035.8,1016.2 L1044.4,1020.5 L1052.7,1025.6 L1060.5,1031.3 L1068.0,1037.6 L1075.0,1044.4 L1081.6,1051.5 L1087.7,1059.0 L1093.5,1066.7 L1099.1,1074.6 L1104.6,1082.5 L1110.0,1090.5 L1115.5,1098.5 L1120.8,1106.5 L1126.0,1114.6 L1131.0,1122.9 L1135.6,1131.4 L1140.0,1140.0 L1144.2,1148.6 L1148.4,1157.3 L1152.7,1166.0 L1157.1,1174.5 L1161.6,1183.1 L1166.1,1191.6 L1170.7,1200.1 L1175.2,1208.7 L1179.5,1217.3 L1183.7,1225.9 L1187.7,1234.8 L1191.4,1243.7 L1195.0,1252.6 L1174.0,1246.8 L1170.3,1238.7 L1166.6,1230.6 L1162.8,1222.5 L1158.7,1214.6 L1154.5,1206.7 L1150.1,1198.9 L1145.7,1191.2 L1141.4,1183.4 L1137.3,1175.5 L1133.3,1167.5 L1129.4,1159.5 L1125.5,1151.5 L1121.4,1143.5 L1117.2,1135.7 L1112.7,1128.0 L1108.1,1120.4 L1103.4,1112.8 L1098.6,1105.2 L1093.9,1097.7 L1089.0,1090.1 L1084.1,1082.7 L1078.9,1075.4 L1073.4,1068.4 L1067.5,1061.8 L1061.1,1055.5 L1054.2,1049.7 L1047.0,1044.5 L1039.3,1039.8 L1031.3,1035.9 L1023.1,1032.5 L1014.6,1029.6 L1006.1,1027.0 L997.4,1024.9 L988.7,1023.0 L979.9,1021.3 L971.1,1019.7 L962.3,1018.3 L953.5,1017.0 L944.7,1015.7Z" fill="url(#gBand)" filter="url(#b05)"/><path d="M997.5,1056.8 L1000.3,1055.5 L1003.1,1054.4 L1006.2,1053.7 L1009.3,1053.2 L1012.6,1053.0 L1016.0,1053.2 L1019.5,1053.6 L1023.1,1054.3 L1026.7,1055.3 L1030.5,1056.6 L1034.3,1058.1 L1038.2,1060.0 L1042.1,1062.1 L1046.0,1064.5 L1050.0,1067.1 L1053.9,1070.0 L1057.9,1073.2 L1061.8,1076.6 L1065.7,1080.2 L1069.6,1084.0 L1073.5,1088.0 L1077.2,1092.3 L1080.9,1096.7 L1084.6,1101.3 L1088.1,1106.0 L1091.5,1110.9 L1094.9,1115.9 L1098.1,1121.0 L1101.2,1126.2 L1104.1,1131.5 L1106.9,1136.9 L1109.5,1142.3 L1112.0,1147.8 L1114.3,1153.3 L1116.5,1158.8 L1118.4,1164.3 L1120.2,1169.8 L1121.8,1175.3 L1123.2,1180.6 L1124.4,1186.0 L1125.4,1191.2 L1126.1,1196.3 L1126.7,1201.4 L1127.1,1206.3 L1127.2,1211.0 L1127.2,1215.6 L1126.9,1220.1 L1126.4,1224.3 L1125.7,1228.4 L1124.8,1232.2 L1123.7,1235.9 L1122.4,1239.3 L1120.9,1242.5 L1119.2,1245.4 L1117.4,1248.1 L1115.3,1250.5 L1113.1,1252.7 L1110.6,1254.6 L1108.1,1256.2 L1075.1,1273.2 L1072.3,1274.5 L1069.5,1275.6 L1066.4,1276.3 L1063.3,1276.8 L1060.0,1277.0 L1056.6,1276.8 L1053.1,1276.4 L1049.5,1275.7 L1045.9,1274.7 L1042.1,1273.4 L1038.3,1271.9 L1034.4,1270.0 L1030.5,1267.9 L1026.6,1265.5 L1022.6,1262.9 L1018.7,1260.0 L1014.7,1256.8 L1010.8,1253.4 L1006.9,1249.8 L1003.0,1246.0 L999.1,1242.0 L995.4,1237.7 L991.7,1233.3 L988.0,1228.7 L984.5,1224.0 L981.1,1219.1 L977.7,1214.1 L974.5,1209.0 L971.4,1203.8 L968.5,1198.5 L965.7,1193.1 L963.1,1187.7 L960.6,1182.2 L958.3,1176.7 L956.1,1171.2 L954.2,1165.7 L952.4,1160.2 L950.8,1154.7 L949.4,1149.4 L948.2,1144.0 L947.2,1138.8 L946.5,1133.7 L945.9,1128.6 L945.5,1123.7 L945.4,1119.0 L945.4,1114.4 L945.7,1109.9 L946.2,1105.7 L946.9,1101.6 L947.8,1097.8 L948.9,1094.1 L950.2,1090.7 L951.7,1087.5 L953.4,1084.6 L955.2,1081.9 L957.3,1079.5 L959.5,1077.3 L962.0,1075.4 L964.5,1073.8Z" fill="url(#gTubeO)"/><path d="M997.5,1056.8 L1000.3,1055.5 L1003.1,1054.4 L1006.2,1053.7 L1009.3,1053.2 L1012.6,1053.0 L1016.0,1053.2 L1019.5,1053.6 L1023.1,1054.3 L1026.7,1055.3 L1030.5,1056.6 L1034.3,1058.1 L1038.2,1060.0 L1042.1,1062.1 L1046.0,1064.5 L1050.0,1067.1 L1053.9,1070.0 L1057.9,1073.2 L1061.8,1076.6 L1065.7,1080.2 L1069.6,1084.0 L1073.5,1088.0 L1077.2,1092.3 L1080.9,1096.7 L1084.6,1101.3 L1088.1,1106.0 L1091.5,1110.9 L1094.9,1115.9 L1098.1,1121.0 L1101.2,1126.2 L1104.1,1131.5 L1106.9,1136.9 L1109.5,1142.3 L1112.0,1147.8 L1114.3,1153.3 L1116.5,1158.8 L1118.4,1164.3 L1120.2,1169.8 L1121.8,1175.3 L1123.2,1180.6 L1124.4,1186.0 L1125.4,1191.2 L1126.1,1196.3 L1126.7,1201.4 L1127.1,1206.3 L1127.2,1211.0 L1127.2,1215.6 L1126.9,1220.1 L1126.4,1224.3 L1125.7,1228.4 L1124.8,1232.2 L1123.7,1235.9 L1122.4,1239.3 L1120.9,1242.5 L1119.2,1245.4 L1117.4,1248.1 L1115.3,1250.5 L1113.1,1252.7 L1110.6,1254.6 L1108.1,1256.2" fill="none" stroke="#101010" stroke-width="3" filter="url(#b1)"/><path d="M1075.1,1273.2 L1071.4,1274.9 L1067.5,1276.1 L1063.4,1276.8 L1059.0,1277.0 L1054.4,1276.6 L1049.7,1275.8 L1044.8,1274.4 L1039.8,1272.5 L1034.7,1270.1 L1029.5,1267.3 L1024.3,1264.0 L1019.0,1260.2 L1013.8,1256.0 L1008.6,1251.4 L1003.4,1246.4 L998.3,1241.1 L993.4,1235.4 L988.5,1229.4 L983.8,1223.1 L979.3,1216.6 L975.0,1209.8 L970.9,1202.9 L967.1,1195.8 L963.5,1188.6 L960.2,1181.4 L957.2,1174.1 L954.5,1166.8 L952.2,1159.5 L950.1,1152.3 L948.5,1145.2 L947.1,1138.3 L946.2,1131.5 L945.6,1124.9 L945.4,1118.6 L945.5,1112.6 L946.0,1106.8 L946.9,1101.4 L948.2,1096.3 L949.8,1091.7 L951.7,1087.4 L954.0,1083.6 L956.6,1080.2 L959.6,1077.3 L962.8,1074.8 L966.3,1072.9 L970.1,1071.4 L974.1,1070.5 L978.4,1070.1 L982.9,1070.2 L987.5,1070.8 L992.3,1071.9 L997.3,1073.5 L1002.3,1075.6 L1007.5,1078.2 L1012.7,1081.3 L1017.9,1084.8 L1023.2,1088.8 L1028.4,1093.2 L1033.6,1098.0 L1038.7,1103.2 L1043.8,1108.7 L1048.7,1114.6 L1053.5,1120.7 L1058.1,1127.1 L1062.5,1133.8 L1066.7,1140.6 L1070.6,1147.6 L1074.3,1154.8 L1077.8,1162.0 L1080.9,1169.3 L1083.8,1176.6 L1086.3,1183.9 L1088.5,1191.1 L1090.3,1198.2 L1091.8,1205.3 L1093.0,1212.1 L1093.8,1218.8 L1094.2,1225.3 L1094.2,1231.4 L1093.9,1237.3 L1093.2,1242.9 L1092.1,1248.2 L1090.7,1253.0 L1088.9,1257.5 L1086.8,1261.6 L1084.3,1265.2 L1081.5,1268.3 L1078.4,1271.0 L1075.1,1273.2Z" fill="#262626"/><path d="M1074.1,1269.2 L1070.7,1270.8 L1067.0,1271.9 L1063.1,1272.5 L1059.0,1272.6 L1054.7,1272.2 L1050.2,1271.4 L1045.6,1270.0 L1040.8,1268.2 L1036.0,1265.8 L1031.0,1263.0 L1026.0,1259.8 L1021.0,1256.1 L1016.0,1252.1 L1011.1,1247.6 L1006.1,1242.7 L1001.3,1237.5 L996.5,1232.0 L991.9,1226.2 L987.4,1220.1 L983.0,1213.8 L978.9,1207.3 L975.0,1200.6 L971.3,1193.8 L967.8,1186.9 L964.6,1179.9 L961.7,1172.9 L959.1,1165.8 L956.8,1158.8 L954.8,1151.9 L953.1,1145.1 L951.8,1138.4 L950.8,1131.9 L950.2,1125.6 L949.9,1119.5 L949.9,1113.8 L950.4,1108.2 L951.1,1103.1 L952.3,1098.2 L953.7,1093.8 L955.5,1089.7 L957.6,1086.1 L960.1,1082.8 L962.8,1080.1 L965.9,1077.8 L969.2,1075.9 L972.7,1074.6 L976.5,1073.7 L980.5,1073.4 L984.8,1073.5 L989.2,1074.1 L993.7,1075.3 L998.4,1076.9 L1003.2,1079.0 L1008.1,1081.5 L1013.1,1084.5 L1018.1,1088.0 L1023.1,1091.9 L1028.1,1096.1 L1033.0,1100.8 L1037.9,1105.8 L1042.7,1111.2 L1047.4,1116.8 L1052.0,1122.8 L1056.4,1129.0 L1060.7,1135.4 L1064.7,1142.0 L1068.5,1148.8 L1072.1,1155.6 L1075.4,1162.6 L1078.5,1169.6 L1081.3,1176.7 L1083.7,1183.7 L1085.9,1190.6 L1087.7,1197.5 L1089.2,1204.3 L1090.4,1210.9 L1091.2,1217.3 L1091.6,1223.4 L1091.7,1229.4 L1091.5,1235.0 L1090.9,1240.4 L1089.9,1245.4 L1088.6,1250.0 L1087.0,1254.3 L1085.1,1258.2 L1082.8,1261.6 L1080.2,1264.6 L1077.3,1267.1 L1074.1,1269.2Z" fill="url(#gWall)"/><path d="M1083.6,1223.7 L1080.8,1224.5 L1077.3,1224.0 L1073.4,1222.3 L1068.9,1219.4 L1064.1,1215.4 L1058.9,1210.4 L1053.6,1204.3 L1048.1,1197.4 L1042.6,1189.8 L1037.2,1181.6 L1032.0,1172.8 L1027.0,1163.8 L1022.4,1154.7 L1018.2,1145.6 L1014.6,1136.6 L1011.5,1128.0 L1009.1,1119.9 L1007.4,1112.5 L1006.3,1105.8 L1006.0,1100.0 L1006.4,1095.2 L1007.6,1091.5 L1009.5,1089.0 L1012.0,1087.6 L1015.1,1087.4 L1018.9,1088.5 L1023.1,1090.8 L1027.8,1094.3 L1032.8,1098.8 L1038.0,1104.4 L1043.5,1110.8 L1048.9,1118.1 L1054.4,1126.1 L1059.7,1134.6 L1064.8,1143.5 L1069.6,1152.6 L1074.0,1161.7 L1077.9,1170.8 L1081.3,1179.6 L1084.0,1187.9 L1086.1,1195.7 L1087.5,1202.8 L1088.2,1209.1 L1088.1,1214.4 L1087.4,1218.6 L1085.8,1221.8 L1083.6,1223.7Z" fill="#fff"/><path d="M1020.7,1087.2 L1022.7,1088.2 L1024.8,1089.5 L1027.0,1091.0 L1029.3,1092.7 L1031.7,1094.7 L1034.1,1096.9 L1036.6,1099.4 L1039.1,1102.1 L1041.7,1105.0 L1044.3,1108.1 L1046.9,1111.4 L1049.6,1114.8 L1052.2,1118.4 L1054.8,1122.2 L1057.4,1126.1 L1059.9,1130.1 L1062.4,1134.2 L1064.9,1138.4 L1067.3,1142.6 L1069.6,1146.9 L1071.8,1151.2 L1074.0,1155.6 L1076.0,1159.9 L1078.0,1164.3 L1079.8,1168.6 L1081.5,1172.8 L1083.1,1177.0 L1084.5,1181.1 L1085.8,1185.1 L1086.9,1189.0 L1087.9,1192.7 L1088.8,1196.3 L1089.5,1199.8 L1090.0,1203.0 L1090.4,1206.1 L1090.6,1209.0 L1090.6,1211.6 L1090.5,1214.1 L1090.2,1216.3" fill="none" stroke="#8e8e8e" stroke-width="1.6" filter="url(#b05)"/><ellipse cx="953.9" cy="1039.6" rx="13" ry="22" transform="rotate(-27 953.9 1039.6)" fill="#77706a"/><ellipse cx="954.4" cy="1040.6" rx="6" ry="10" transform="rotate(-27 953.9 1039.6)" fill="#aaa29a"/><ellipse cx="956.4" cy="1043.6" rx="2.5" ry="5" transform="rotate(-27 953.9 1039.6)" fill="#e0b090"/><ellipse cx="1157.7" cy="1254.5" rx="13" ry="22" transform="rotate(-27 1157.7 1254.5)" fill="#77706a"/><ellipse cx="1158.2" cy="1255.5" rx="6" ry="10" transform="rotate(-27 1157.7 1254.5)" fill="#aaa29a"/><ellipse cx="1160.2" cy="1258.5" rx="2.5" ry="5" transform="rotate(-27 1157.7 1254.5)" fill="#e0b090"/></g>
</g>
<g fill="none" stroke="#1a1a1a" stroke-width="3" stroke-linejoin="miter" filter="url(#b05)">
<path d="M382,143 H428 L525.5,257.6"/>
<path d="M377,588 H418 L523,712"/>
<path d="M1837,494 L1940,626.5 H1999"/>
<path d="M1172,1199 L1307,1111 H1357"/>
<path d="M897,1404 L1059,1505.8 H1113"/>
</g>
<g filter="url(#b05)" stroke="#1c1c1c" stroke-width="0.4">
<text x="2" y="140.3" font-size="32.9" text-anchor="start">Stainless Steel Bracket</text>
<text x="3" y="179.8" font-size="32.9" text-anchor="start">With Anti-Vibration Mount</text>
<text x="89" y="597" font-size="32.9" text-anchor="start">Carbon Turbo Tube</text>
<text x="2004" y="638" font-size="32.9" text-anchor="start">Silicon Joiner Hose</text>
<text x="1361" y="1125.5" font-size="32.9" text-anchor="start">Machined Turbo Flange</text>
<text x="1123" y="1518" font-size="32.9" text-anchor="start">Silicon Coupler With Integrated Spacer</text>
<text x="2095.5" y="1541.3" font-size="34.4" text-anchor="start">FK8 TURBO TUBE</text>
</g>
</svg>
</body></html>
